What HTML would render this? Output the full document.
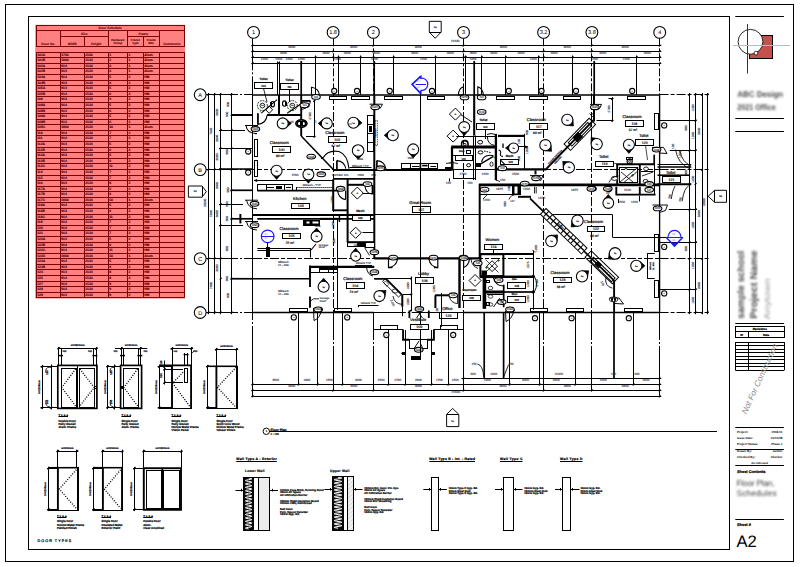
<!DOCTYPE html>
<html lang="en"><head><meta charset="utf-8"><title>A2 - Floor Plan, Schedules</title>
<style>
html,body{margin:0;padding:0;background:#fff}
body{width:800px;height:567px;overflow:hidden}
svg{display:block;font-family:"Liberation Sans",sans-serif}
</style></head><body>
<svg width="800" height="567" viewBox="0 0 800 567" fill="none" stroke="#000" stroke-width="0.8">
<defs>
<filter id="blur1" x="-10%" y="-30%" width="120%" height="160%"><feGaussianBlur stdDeviation="1.25"/></filter>
<filter id="blur2" x="-10%" y="-30%" width="120%" height="160%"><feGaussianBlur stdDeviation="0.8"/></filter>
<pattern id="hatch" width="3" height="3" patternUnits="userSpaceOnUse" patternTransform="rotate(-45)"><rect width="3" height="3" fill="#f4f4f4" stroke="none"/><line x1="0" y1="1.5" x2="3" y2="1.5" stroke="#bbb" stroke-width="0.5"/></pattern>
</defs>
<g id="sheet" text-rendering="geometricPrecision">
<rect x="5.5" y="4.5" width="788" height="557" fill="none" stroke-width="1"/>
<rect x="28.5" y="16.5" width="701" height="533" fill="none" stroke-width="1"/>
<rect x="35.2" y="24.8" width="149.8" height="273.8" fill="#ff8080" stroke-width="0" stroke="none"/>
<g stroke="#800000" id="door-schedule">
<rect x="36.5" y="25.5" width="148" height="5" fill="none" stroke-width="1"/>
<text x="110.25" y="29" font-size="3.3" fill="#520000" text-anchor="middle" font-weight="bold" stroke="#520000" stroke-width="0.08">Door Schedule</text>
<rect x="36.5" y="30.5" width="148" height="16" fill="none" stroke-width="1"/>
<line x1="60.5" y1="30.3" x2="60.5" y2="46.6" stroke-width="1"/>
<line x1="108.5" y1="30.3" x2="108.5" y2="46.6" stroke-width="1"/>
<line x1="127.5" y1="30.3" x2="127.5" y2="46.6" stroke-width="1"/>
<line x1="159.5" y1="30.3" x2="159.5" y2="46.6" stroke-width="1"/>
<line x1="84.5" y1="36.4" x2="84.5" y2="46.6" stroke-width="1"/>
<line x1="143.5" y1="36.4" x2="143.5" y2="46.6" stroke-width="1"/>
<line x1="60.25" y1="36.5" x2="108.25" y2="36.5" stroke-width="1"/>
<line x1="127.5" y1="36.5" x2="159.25" y2="36.5" stroke-width="1"/>
<text x="84.25" y="34.7" font-size="3.3" fill="#520000" text-anchor="middle" font-weight="bold" stroke="#520000" stroke-width="0.08">Size</text>
<text x="143.38" y="34.7" font-size="3.3" fill="#520000" text-anchor="middle" font-weight="bold" stroke="#520000" stroke-width="0.08">Frame</text>
<text x="48.25" y="44.8" font-size="3.3" fill="#520000" text-anchor="middle" font-weight="bold" stroke="#520000" stroke-width="0.08">Door No.</text>
<text x="72.25" y="44.8" font-size="3.3" fill="#520000" text-anchor="middle" font-weight="bold" stroke="#520000" stroke-width="0.08">Width</text>
<text x="96.25" y="44.8" font-size="3.3" fill="#520000" text-anchor="middle" font-weight="bold" stroke="#520000" stroke-width="0.08">Height</text>
<text x="117.88" y="40.6" font-size="3" fill="#520000" text-anchor="middle" font-weight="bold" stroke="#520000" stroke-width="0.08">Hardware</text>
<text x="117.88" y="44" font-size="3" fill="#520000" text-anchor="middle" font-weight="bold" stroke="#520000" stroke-width="0.08">Group</text>
<text x="135.38" y="40.6" font-size="3" fill="#520000" text-anchor="middle" font-weight="bold" stroke="#520000" stroke-width="0.08">Frame</text>
<text x="135.38" y="44" font-size="3" fill="#520000" text-anchor="middle" font-weight="bold" stroke="#520000" stroke-width="0.08">Type</text>
<text x="151.25" y="40.6" font-size="3" fill="#520000" text-anchor="middle" font-weight="bold" stroke="#520000" stroke-width="0.08">Frame</text>
<text x="151.25" y="44" font-size="3" fill="#520000" text-anchor="middle" font-weight="bold" stroke="#520000" stroke-width="0.08">Mat.</text>
<text x="171.75" y="44.8" font-size="3.3" fill="#520000" text-anchor="middle" font-weight="bold" stroke="#520000" stroke-width="0.08">Comments</text>
<line x1="36.25" y1="52.5" x2="184.25" y2="52.5" stroke-width="1"/>
<text x="37.15" y="56.28" font-size="3.4" fill="#5c0000" font-weight="bold" stroke="#5c0000" stroke-width="0.12">101A</text>
<text x="61.15" y="56.28" font-size="3.4" fill="#5c0000" font-weight="bold" stroke="#5c0000" stroke-width="0.12">1760</text>
<text x="85.15" y="56.28" font-size="3.4" fill="#5c0000" font-weight="bold" stroke="#5c0000" stroke-width="0.12">2100</text>
<text x="109.15" y="56.28" font-size="3.4" fill="#5c0000" font-weight="bold" stroke="#5c0000" stroke-width="0.12">1</text>
<text x="128.4" y="56.28" font-size="3.4" fill="#5c0000" font-weight="bold" stroke="#5c0000" stroke-width="0.12">1</text>
<text x="144.15" y="56.28" font-size="3.4" fill="#5c0000" font-weight="bold" stroke="#5c0000" stroke-width="0.12">Alum.</text>
<line x1="36.25" y1="57.5" x2="184.25" y2="57.5" stroke-width="1"/>
<text x="37.15" y="61.28" font-size="3.4" fill="#5c0000" font-weight="bold" stroke="#5c0000" stroke-width="0.12">101B</text>
<text x="61.15" y="61.28" font-size="3.4" fill="#5c0000" font-weight="bold" stroke="#5c0000" stroke-width="0.12">1800</text>
<text x="85.15" y="61.28" font-size="3.4" fill="#5c0000" font-weight="bold" stroke="#5c0000" stroke-width="0.12">2134</text>
<text x="109.15" y="61.28" font-size="3.4" fill="#5c0000" font-weight="bold" stroke="#5c0000" stroke-width="0.12">2</text>
<text x="128.4" y="61.28" font-size="3.4" fill="#5c0000" font-weight="bold" stroke="#5c0000" stroke-width="0.12">1</text>
<text x="144.15" y="61.28" font-size="3.4" fill="#5c0000" font-weight="bold" stroke="#5c0000" stroke-width="0.12">Alum.</text>
<line x1="36.25" y1="63.5" x2="184.25" y2="63.5" stroke-width="1"/>
<text x="37.15" y="67.28" font-size="3.4" fill="#5c0000" font-weight="bold" stroke="#5c0000" stroke-width="0.12">102A</text>
<text x="61.15" y="67.28" font-size="3.4" fill="#5c0000" font-weight="bold" stroke="#5c0000" stroke-width="0.12">914</text>
<text x="85.15" y="67.28" font-size="3.4" fill="#5c0000" font-weight="bold" stroke="#5c0000" stroke-width="0.12">2134</text>
<text x="109.15" y="67.28" font-size="3.4" fill="#5c0000" font-weight="bold" stroke="#5c0000" stroke-width="0.12">3</text>
<text x="128.4" y="67.28" font-size="3.4" fill="#5c0000" font-weight="bold" stroke="#5c0000" stroke-width="0.12">1</text>
<text x="144.15" y="67.28" font-size="3.4" fill="#5c0000" font-weight="bold" stroke="#5c0000" stroke-width="0.12">Alum.</text>
<line x1="36.25" y1="68.5" x2="184.25" y2="68.5" stroke-width="1"/>
<text x="37.15" y="72.28" font-size="3.4" fill="#5c0000" font-weight="bold" stroke="#5c0000" stroke-width="0.12">102B</text>
<text x="61.15" y="72.28" font-size="3.4" fill="#5c0000" font-weight="bold" stroke="#5c0000" stroke-width="0.12">914</text>
<text x="85.15" y="72.28" font-size="3.4" fill="#5c0000" font-weight="bold" stroke="#5c0000" stroke-width="0.12">2134</text>
<text x="109.15" y="72.28" font-size="3.4" fill="#5c0000" font-weight="bold" stroke="#5c0000" stroke-width="0.12">3</text>
<text x="128.4" y="72.28" font-size="3.4" fill="#5c0000" font-weight="bold" stroke="#5c0000" stroke-width="0.12">1</text>
<text x="144.15" y="72.28" font-size="3.4" fill="#5c0000" font-weight="bold" stroke="#5c0000" stroke-width="0.12">Alum.</text>
<line x1="36.25" y1="74.5" x2="184.25" y2="74.5" stroke-width="1"/>
<text x="37.15" y="78.28" font-size="3.4" fill="#5c0000" font-weight="bold" stroke="#5c0000" stroke-width="0.12">104A</text>
<text x="61.15" y="78.28" font-size="3.4" fill="#5c0000" font-weight="bold" stroke="#5c0000" stroke-width="0.12">914</text>
<text x="85.15" y="78.28" font-size="3.4" fill="#5c0000" font-weight="bold" stroke="#5c0000" stroke-width="0.12">2134</text>
<text x="109.15" y="78.28" font-size="3.4" fill="#5c0000" font-weight="bold" stroke="#5c0000" stroke-width="0.12">5</text>
<text x="128.4" y="78.28" font-size="3.4" fill="#5c0000" font-weight="bold" stroke="#5c0000" stroke-width="0.12">2</text>
<text x="144.15" y="78.28" font-size="3.4" fill="#5c0000" font-weight="bold" stroke="#5c0000" stroke-width="0.12">HM</text>
<line x1="36.25" y1="80.5" x2="184.25" y2="80.5" stroke-width="1"/>
<text x="37.15" y="84.28" font-size="3.4" fill="#5c0000" font-weight="bold" stroke="#5c0000" stroke-width="0.12">104B</text>
<text x="61.15" y="84.28" font-size="3.4" fill="#5c0000" font-weight="bold" stroke="#5c0000" stroke-width="0.12">914</text>
<text x="85.15" y="84.28" font-size="3.4" fill="#5c0000" font-weight="bold" stroke="#5c0000" stroke-width="0.12">2134</text>
<text x="109.15" y="84.28" font-size="3.4" fill="#5c0000" font-weight="bold" stroke="#5c0000" stroke-width="0.12">6</text>
<text x="128.4" y="84.28" font-size="3.4" fill="#5c0000" font-weight="bold" stroke="#5c0000" stroke-width="0.12">2</text>
<text x="144.15" y="84.28" font-size="3.4" fill="#5c0000" font-weight="bold" stroke="#5c0000" stroke-width="0.12">HM</text>
<line x1="36.25" y1="85.5" x2="184.25" y2="85.5" stroke-width="1"/>
<text x="37.15" y="89.28" font-size="3.4" fill="#5c0000" font-weight="bold" stroke="#5c0000" stroke-width="0.12">105A</text>
<text x="61.15" y="89.28" font-size="3.4" fill="#5c0000" font-weight="bold" stroke="#5c0000" stroke-width="0.12">914</text>
<text x="85.15" y="89.28" font-size="3.4" fill="#5c0000" font-weight="bold" stroke="#5c0000" stroke-width="0.12">2134</text>
<text x="109.15" y="89.28" font-size="3.4" fill="#5c0000" font-weight="bold" stroke="#5c0000" stroke-width="0.12">5</text>
<text x="128.4" y="89.28" font-size="3.4" fill="#5c0000" font-weight="bold" stroke="#5c0000" stroke-width="0.12">2</text>
<text x="144.15" y="89.28" font-size="3.4" fill="#5c0000" font-weight="bold" stroke="#5c0000" stroke-width="0.12">HM</text>
<line x1="36.25" y1="91.5" x2="184.25" y2="91.5" stroke-width="1"/>
<text x="37.15" y="95.28" font-size="3.4" fill="#5c0000" font-weight="bold" stroke="#5c0000" stroke-width="0.12">105B</text>
<text x="61.15" y="95.28" font-size="3.4" fill="#5c0000" font-weight="bold" stroke="#5c0000" stroke-width="0.12">914</text>
<text x="85.15" y="95.28" font-size="3.4" fill="#5c0000" font-weight="bold" stroke="#5c0000" stroke-width="0.12">2134</text>
<text x="109.15" y="95.28" font-size="3.4" fill="#5c0000" font-weight="bold" stroke="#5c0000" stroke-width="0.12">6</text>
<text x="128.4" y="95.28" font-size="3.4" fill="#5c0000" font-weight="bold" stroke="#5c0000" stroke-width="0.12">2</text>
<text x="144.15" y="95.28" font-size="3.4" fill="#5c0000" font-weight="bold" stroke="#5c0000" stroke-width="0.12">HM</text>
<line x1="36.25" y1="96.5" x2="184.25" y2="96.5" stroke-width="1"/>
<text x="37.15" y="100.28" font-size="3.4" fill="#5c0000" font-weight="bold" stroke="#5c0000" stroke-width="0.12">106</text>
<text x="61.15" y="100.28" font-size="3.4" fill="#5c0000" font-weight="bold" stroke="#5c0000" stroke-width="0.12">914</text>
<text x="85.15" y="100.28" font-size="3.4" fill="#5c0000" font-weight="bold" stroke="#5c0000" stroke-width="0.12">2134</text>
<text x="109.15" y="100.28" font-size="3.4" fill="#5c0000" font-weight="bold" stroke="#5c0000" stroke-width="0.12">4</text>
<text x="128.4" y="100.28" font-size="3.4" fill="#5c0000" font-weight="bold" stroke="#5c0000" stroke-width="0.12">2</text>
<text x="144.15" y="100.28" font-size="3.4" fill="#5c0000" font-weight="bold" stroke="#5c0000" stroke-width="0.12">HM</text>
<line x1="36.25" y1="102.5" x2="184.25" y2="102.5" stroke-width="1"/>
<text x="37.15" y="106.28" font-size="3.4" fill="#5c0000" font-weight="bold" stroke="#5c0000" stroke-width="0.12">108A</text>
<text x="61.15" y="106.28" font-size="3.4" fill="#5c0000" font-weight="bold" stroke="#5c0000" stroke-width="0.12">914</text>
<text x="85.15" y="106.28" font-size="3.4" fill="#5c0000" font-weight="bold" stroke="#5c0000" stroke-width="0.12">2134</text>
<text x="109.15" y="106.28" font-size="3.4" fill="#5c0000" font-weight="bold" stroke="#5c0000" stroke-width="0.12">5</text>
<text x="128.4" y="106.28" font-size="3.4" fill="#5c0000" font-weight="bold" stroke="#5c0000" stroke-width="0.12">2</text>
<text x="144.15" y="106.28" font-size="3.4" fill="#5c0000" font-weight="bold" stroke="#5c0000" stroke-width="0.12">HM</text>
<line x1="36.25" y1="108.5" x2="184.25" y2="108.5" stroke-width="1"/>
<text x="37.15" y="112.28" font-size="3.4" fill="#5c0000" font-weight="bold" stroke="#5c0000" stroke-width="0.12">108B</text>
<text x="61.15" y="112.28" font-size="3.4" fill="#5c0000" font-weight="bold" stroke="#5c0000" stroke-width="0.12">914</text>
<text x="85.15" y="112.28" font-size="3.4" fill="#5c0000" font-weight="bold" stroke="#5c0000" stroke-width="0.12">2134</text>
<text x="109.15" y="112.28" font-size="3.4" fill="#5c0000" font-weight="bold" stroke="#5c0000" stroke-width="0.12">6</text>
<text x="128.4" y="112.28" font-size="3.4" fill="#5c0000" font-weight="bold" stroke="#5c0000" stroke-width="0.12">2</text>
<text x="144.15" y="112.28" font-size="3.4" fill="#5c0000" font-weight="bold" stroke="#5c0000" stroke-width="0.12">HM</text>
<line x1="36.25" y1="113.5" x2="184.25" y2="113.5" stroke-width="1"/>
<text x="37.15" y="117.28" font-size="3.4" fill="#5c0000" font-weight="bold" stroke="#5c0000" stroke-width="0.12">109A</text>
<text x="61.15" y="117.28" font-size="3.4" fill="#5c0000" font-weight="bold" stroke="#5c0000" stroke-width="0.12">914</text>
<text x="85.15" y="117.28" font-size="3.4" fill="#5c0000" font-weight="bold" stroke="#5c0000" stroke-width="0.12">2134</text>
<text x="109.15" y="117.28" font-size="3.4" fill="#5c0000" font-weight="bold" stroke="#5c0000" stroke-width="0.12">5</text>
<text x="128.4" y="117.28" font-size="3.4" fill="#5c0000" font-weight="bold" stroke="#5c0000" stroke-width="0.12">2</text>
<text x="144.15" y="117.28" font-size="3.4" fill="#5c0000" font-weight="bold" stroke="#5c0000" stroke-width="0.12">HM</text>
<line x1="36.25" y1="119.5" x2="184.25" y2="119.5" stroke-width="1"/>
<text x="37.15" y="123.28" font-size="3.4" fill="#5c0000" font-weight="bold" stroke="#5c0000" stroke-width="0.12">109B</text>
<text x="61.15" y="123.28" font-size="3.4" fill="#5c0000" font-weight="bold" stroke="#5c0000" stroke-width="0.12">914</text>
<text x="85.15" y="123.28" font-size="3.4" fill="#5c0000" font-weight="bold" stroke="#5c0000" stroke-width="0.12">2134</text>
<text x="109.15" y="123.28" font-size="3.4" fill="#5c0000" font-weight="bold" stroke="#5c0000" stroke-width="0.12">6</text>
<text x="128.4" y="123.28" font-size="3.4" fill="#5c0000" font-weight="bold" stroke="#5c0000" stroke-width="0.12">2</text>
<text x="144.15" y="123.28" font-size="3.4" fill="#5c0000" font-weight="bold" stroke="#5c0000" stroke-width="0.12">HM</text>
<line x1="36.25" y1="124.5" x2="184.25" y2="124.5" stroke-width="1"/>
<text x="37.15" y="128.28" font-size="3.4" fill="#5c0000" font-weight="bold" stroke="#5c0000" stroke-width="0.12">109C</text>
<text x="61.15" y="128.28" font-size="3.4" fill="#5c0000" font-weight="bold" stroke="#5c0000" stroke-width="0.12">1800</text>
<text x="85.15" y="128.28" font-size="3.4" fill="#5c0000" font-weight="bold" stroke="#5c0000" stroke-width="0.12">2134</text>
<text x="109.15" y="128.28" font-size="3.4" fill="#5c0000" font-weight="bold" stroke="#5c0000" stroke-width="0.12">10</text>
<text x="128.4" y="128.28" font-size="3.4" fill="#5c0000" font-weight="bold" stroke="#5c0000" stroke-width="0.12">1</text>
<text x="144.15" y="128.28" font-size="3.4" fill="#5c0000" font-weight="bold" stroke="#5c0000" stroke-width="0.12">Alum.</text>
<line x1="36.25" y1="130.5" x2="184.25" y2="130.5" stroke-width="1"/>
<text x="37.15" y="134.28" font-size="3.4" fill="#5c0000" font-weight="bold" stroke="#5c0000" stroke-width="0.12">110</text>
<text x="61.15" y="134.28" font-size="3.4" fill="#5c0000" font-weight="bold" stroke="#5c0000" stroke-width="0.12">914</text>
<text x="85.15" y="134.28" font-size="3.4" fill="#5c0000" font-weight="bold" stroke="#5c0000" stroke-width="0.12">2134</text>
<text x="109.15" y="134.28" font-size="3.4" fill="#5c0000" font-weight="bold" stroke="#5c0000" stroke-width="0.12">7</text>
<text x="128.4" y="134.28" font-size="3.4" fill="#5c0000" font-weight="bold" stroke="#5c0000" stroke-width="0.12">2</text>
<text x="144.15" y="134.28" font-size="3.4" fill="#5c0000" font-weight="bold" stroke="#5c0000" stroke-width="0.12">HM</text>
<line x1="36.25" y1="135.5" x2="184.25" y2="135.5" stroke-width="1"/>
<text x="37.15" y="139.28" font-size="3.4" fill="#5c0000" font-weight="bold" stroke="#5c0000" stroke-width="0.12">111</text>
<text x="61.15" y="139.28" font-size="3.4" fill="#5c0000" font-weight="bold" stroke="#5c0000" stroke-width="0.12">914</text>
<text x="85.15" y="139.28" font-size="3.4" fill="#5c0000" font-weight="bold" stroke="#5c0000" stroke-width="0.12">2134</text>
<text x="109.15" y="139.28" font-size="3.4" fill="#5c0000" font-weight="bold" stroke="#5c0000" stroke-width="0.12">7</text>
<text x="128.4" y="139.28" font-size="3.4" fill="#5c0000" font-weight="bold" stroke="#5c0000" stroke-width="0.12">2</text>
<text x="144.15" y="139.28" font-size="3.4" fill="#5c0000" font-weight="bold" stroke="#5c0000" stroke-width="0.12">HM</text>
<line x1="36.25" y1="141.5" x2="184.25" y2="141.5" stroke-width="1"/>
<text x="37.15" y="145.28" font-size="3.4" fill="#5c0000" font-weight="bold" stroke="#5c0000" stroke-width="0.12">112A</text>
<text x="61.15" y="145.28" font-size="3.4" fill="#5c0000" font-weight="bold" stroke="#5c0000" stroke-width="0.12">914</text>
<text x="85.15" y="145.28" font-size="3.4" fill="#5c0000" font-weight="bold" stroke="#5c0000" stroke-width="0.12">2134</text>
<text x="109.15" y="145.28" font-size="3.4" fill="#5c0000" font-weight="bold" stroke="#5c0000" stroke-width="0.12">5</text>
<text x="128.4" y="145.28" font-size="3.4" fill="#5c0000" font-weight="bold" stroke="#5c0000" stroke-width="0.12">2</text>
<text x="144.15" y="145.28" font-size="3.4" fill="#5c0000" font-weight="bold" stroke="#5c0000" stroke-width="0.12">HM</text>
<line x1="36.25" y1="147.5" x2="184.25" y2="147.5" stroke-width="1"/>
<text x="37.15" y="151.28" font-size="3.4" fill="#5c0000" font-weight="bold" stroke="#5c0000" stroke-width="0.12">112B</text>
<text x="61.15" y="151.28" font-size="3.4" fill="#5c0000" font-weight="bold" stroke="#5c0000" stroke-width="0.12">914</text>
<text x="85.15" y="151.28" font-size="3.4" fill="#5c0000" font-weight="bold" stroke="#5c0000" stroke-width="0.12">2134</text>
<text x="109.15" y="151.28" font-size="3.4" fill="#5c0000" font-weight="bold" stroke="#5c0000" stroke-width="0.12">6</text>
<text x="128.4" y="151.28" font-size="3.4" fill="#5c0000" font-weight="bold" stroke="#5c0000" stroke-width="0.12">2</text>
<text x="144.15" y="151.28" font-size="3.4" fill="#5c0000" font-weight="bold" stroke="#5c0000" stroke-width="0.12">HM</text>
<line x1="36.25" y1="152.5" x2="184.25" y2="152.5" stroke-width="1"/>
<text x="37.15" y="156.28" font-size="3.4" fill="#5c0000" font-weight="bold" stroke="#5c0000" stroke-width="0.12">113A</text>
<text x="61.15" y="156.28" font-size="3.4" fill="#5c0000" font-weight="bold" stroke="#5c0000" stroke-width="0.12">914</text>
<text x="85.15" y="156.28" font-size="3.4" fill="#5c0000" font-weight="bold" stroke="#5c0000" stroke-width="0.12">2134</text>
<text x="109.15" y="156.28" font-size="3.4" fill="#5c0000" font-weight="bold" stroke="#5c0000" stroke-width="0.12">5</text>
<text x="128.4" y="156.28" font-size="3.4" fill="#5c0000" font-weight="bold" stroke="#5c0000" stroke-width="0.12">2</text>
<text x="144.15" y="156.28" font-size="3.4" fill="#5c0000" font-weight="bold" stroke="#5c0000" stroke-width="0.12">HM</text>
<line x1="36.25" y1="158.5" x2="184.25" y2="158.5" stroke-width="1"/>
<text x="37.15" y="162.28" font-size="3.4" fill="#5c0000" font-weight="bold" stroke="#5c0000" stroke-width="0.12">113B</text>
<text x="61.15" y="162.28" font-size="3.4" fill="#5c0000" font-weight="bold" stroke="#5c0000" stroke-width="0.12">914</text>
<text x="85.15" y="162.28" font-size="3.4" fill="#5c0000" font-weight="bold" stroke="#5c0000" stroke-width="0.12">2134</text>
<text x="109.15" y="162.28" font-size="3.4" fill="#5c0000" font-weight="bold" stroke="#5c0000" stroke-width="0.12">6</text>
<text x="128.4" y="162.28" font-size="3.4" fill="#5c0000" font-weight="bold" stroke="#5c0000" stroke-width="0.12">2</text>
<text x="144.15" y="162.28" font-size="3.4" fill="#5c0000" font-weight="bold" stroke="#5c0000" stroke-width="0.12">HM</text>
<line x1="36.25" y1="163.5" x2="184.25" y2="163.5" stroke-width="1"/>
<text x="37.15" y="167.28" font-size="3.4" fill="#5c0000" font-weight="bold" stroke="#5c0000" stroke-width="0.12">113C</text>
<text x="61.15" y="167.28" font-size="3.4" fill="#5c0000" font-weight="bold" stroke="#5c0000" stroke-width="0.12">914</text>
<text x="85.15" y="167.28" font-size="3.4" fill="#5c0000" font-weight="bold" stroke="#5c0000" stroke-width="0.12">2134</text>
<text x="109.15" y="167.28" font-size="3.4" fill="#5c0000" font-weight="bold" stroke="#5c0000" stroke-width="0.12">11</text>
<text x="128.4" y="167.28" font-size="3.4" fill="#5c0000" font-weight="bold" stroke="#5c0000" stroke-width="0.12">2</text>
<text x="144.15" y="167.28" font-size="3.4" fill="#5c0000" font-weight="bold" stroke="#5c0000" stroke-width="0.12">HM</text>
<line x1="36.25" y1="169.5" x2="184.25" y2="169.5" stroke-width="1"/>
<text x="37.15" y="173.28" font-size="3.4" fill="#5c0000" font-weight="bold" stroke="#5c0000" stroke-width="0.12">114</text>
<text x="61.15" y="173.28" font-size="3.4" fill="#5c0000" font-weight="bold" stroke="#5c0000" stroke-width="0.12">914</text>
<text x="85.15" y="173.28" font-size="3.4" fill="#5c0000" font-weight="bold" stroke="#5c0000" stroke-width="0.12">2134</text>
<text x="109.15" y="173.28" font-size="3.4" fill="#5c0000" font-weight="bold" stroke="#5c0000" stroke-width="0.12">7</text>
<text x="128.4" y="173.28" font-size="3.4" fill="#5c0000" font-weight="bold" stroke="#5c0000" stroke-width="0.12">2</text>
<text x="144.15" y="173.28" font-size="3.4" fill="#5c0000" font-weight="bold" stroke="#5c0000" stroke-width="0.12">HM</text>
<line x1="36.25" y1="175.5" x2="184.25" y2="175.5" stroke-width="1"/>
<text x="37.15" y="179.28" font-size="3.4" fill="#5c0000" font-weight="bold" stroke="#5c0000" stroke-width="0.12">115</text>
<text x="61.15" y="179.28" font-size="3.4" fill="#5c0000" font-weight="bold" stroke="#5c0000" stroke-width="0.12">914</text>
<text x="85.15" y="179.28" font-size="3.4" fill="#5c0000" font-weight="bold" stroke="#5c0000" stroke-width="0.12">2134</text>
<text x="109.15" y="179.28" font-size="3.4" fill="#5c0000" font-weight="bold" stroke="#5c0000" stroke-width="0.12">7</text>
<text x="128.4" y="179.28" font-size="3.4" fill="#5c0000" font-weight="bold" stroke="#5c0000" stroke-width="0.12">2</text>
<text x="144.15" y="179.28" font-size="3.4" fill="#5c0000" font-weight="bold" stroke="#5c0000" stroke-width="0.12">HM</text>
<line x1="36.25" y1="180.5" x2="184.25" y2="180.5" stroke-width="1"/>
<text x="37.15" y="184.28" font-size="3.4" fill="#5c0000" font-weight="bold" stroke="#5c0000" stroke-width="0.12">116</text>
<text x="61.15" y="184.28" font-size="3.4" fill="#5c0000" font-weight="bold" stroke="#5c0000" stroke-width="0.12">914</text>
<text x="85.15" y="184.28" font-size="3.4" fill="#5c0000" font-weight="bold" stroke="#5c0000" stroke-width="0.12">2134</text>
<text x="109.15" y="184.28" font-size="3.4" fill="#5c0000" font-weight="bold" stroke="#5c0000" stroke-width="0.12">8</text>
<text x="128.4" y="184.28" font-size="3.4" fill="#5c0000" font-weight="bold" stroke="#5c0000" stroke-width="0.12">2</text>
<text x="144.15" y="184.28" font-size="3.4" fill="#5c0000" font-weight="bold" stroke="#5c0000" stroke-width="0.12">HM</text>
<line x1="36.25" y1="186.5" x2="184.25" y2="186.5" stroke-width="1"/>
<text x="37.15" y="190.28" font-size="3.4" fill="#5c0000" font-weight="bold" stroke="#5c0000" stroke-width="0.12">117A</text>
<text x="61.15" y="190.28" font-size="3.4" fill="#5c0000" font-weight="bold" stroke="#5c0000" stroke-width="0.12">914</text>
<text x="85.15" y="190.28" font-size="3.4" fill="#5c0000" font-weight="bold" stroke="#5c0000" stroke-width="0.12">2134</text>
<text x="109.15" y="190.28" font-size="3.4" fill="#5c0000" font-weight="bold" stroke="#5c0000" stroke-width="0.12">5</text>
<text x="128.4" y="190.28" font-size="3.4" fill="#5c0000" font-weight="bold" stroke="#5c0000" stroke-width="0.12">2</text>
<text x="144.15" y="190.28" font-size="3.4" fill="#5c0000" font-weight="bold" stroke="#5c0000" stroke-width="0.12">HM</text>
<line x1="36.25" y1="191.5" x2="184.25" y2="191.5" stroke-width="1"/>
<text x="37.15" y="195.28" font-size="3.4" fill="#5c0000" font-weight="bold" stroke="#5c0000" stroke-width="0.12">117B</text>
<text x="61.15" y="195.28" font-size="3.4" fill="#5c0000" font-weight="bold" stroke="#5c0000" stroke-width="0.12">914</text>
<text x="85.15" y="195.28" font-size="3.4" fill="#5c0000" font-weight="bold" stroke="#5c0000" stroke-width="0.12">2134</text>
<text x="109.15" y="195.28" font-size="3.4" fill="#5c0000" font-weight="bold" stroke="#5c0000" stroke-width="0.12">6</text>
<text x="128.4" y="195.28" font-size="3.4" fill="#5c0000" font-weight="bold" stroke="#5c0000" stroke-width="0.12">2</text>
<text x="144.15" y="195.28" font-size="3.4" fill="#5c0000" font-weight="bold" stroke="#5c0000" stroke-width="0.12">HM</text>
<line x1="36.25" y1="197.5" x2="184.25" y2="197.5" stroke-width="1"/>
<text x="37.15" y="201.28" font-size="3.4" fill="#5c0000" font-weight="bold" stroke="#5c0000" stroke-width="0.12">117C</text>
<text x="61.15" y="201.28" font-size="3.4" fill="#5c0000" font-weight="bold" stroke="#5c0000" stroke-width="0.12">1800</text>
<text x="85.15" y="201.28" font-size="3.4" fill="#5c0000" font-weight="bold" stroke="#5c0000" stroke-width="0.12">2134</text>
<text x="109.15" y="201.28" font-size="3.4" fill="#5c0000" font-weight="bold" stroke="#5c0000" stroke-width="0.12">10</text>
<text x="128.4" y="201.28" font-size="3.4" fill="#5c0000" font-weight="bold" stroke="#5c0000" stroke-width="0.12">1</text>
<text x="144.15" y="201.28" font-size="3.4" fill="#5c0000" font-weight="bold" stroke="#5c0000" stroke-width="0.12">Alum.</text>
<line x1="36.25" y1="202.5" x2="184.25" y2="202.5" stroke-width="1"/>
<text x="37.15" y="206.28" font-size="3.4" fill="#5c0000" font-weight="bold" stroke="#5c0000" stroke-width="0.12">118A</text>
<text x="61.15" y="206.28" font-size="3.4" fill="#5c0000" font-weight="bold" stroke="#5c0000" stroke-width="0.12">914</text>
<text x="85.15" y="206.28" font-size="3.4" fill="#5c0000" font-weight="bold" stroke="#5c0000" stroke-width="0.12">2134</text>
<text x="109.15" y="206.28" font-size="3.4" fill="#5c0000" font-weight="bold" stroke="#5c0000" stroke-width="0.12">5</text>
<text x="128.4" y="206.28" font-size="3.4" fill="#5c0000" font-weight="bold" stroke="#5c0000" stroke-width="0.12">2</text>
<text x="144.15" y="206.28" font-size="3.4" fill="#5c0000" font-weight="bold" stroke="#5c0000" stroke-width="0.12">HM</text>
<line x1="36.25" y1="208.5" x2="184.25" y2="208.5" stroke-width="1"/>
<text x="37.15" y="212.28" font-size="3.4" fill="#5c0000" font-weight="bold" stroke="#5c0000" stroke-width="0.12">118B</text>
<text x="61.15" y="212.28" font-size="3.4" fill="#5c0000" font-weight="bold" stroke="#5c0000" stroke-width="0.12">914</text>
<text x="85.15" y="212.28" font-size="3.4" fill="#5c0000" font-weight="bold" stroke="#5c0000" stroke-width="0.12">2134</text>
<text x="109.15" y="212.28" font-size="3.4" fill="#5c0000" font-weight="bold" stroke="#5c0000" stroke-width="0.12">6</text>
<text x="128.4" y="212.28" font-size="3.4" fill="#5c0000" font-weight="bold" stroke="#5c0000" stroke-width="0.12">2</text>
<text x="144.15" y="212.28" font-size="3.4" fill="#5c0000" font-weight="bold" stroke="#5c0000" stroke-width="0.12">HM</text>
<line x1="36.25" y1="214.5" x2="184.25" y2="214.5" stroke-width="1"/>
<text x="37.15" y="218.28" font-size="3.4" fill="#5c0000" font-weight="bold" stroke="#5c0000" stroke-width="0.12">118C</text>
<text x="61.15" y="218.28" font-size="3.4" fill="#5c0000" font-weight="bold" stroke="#5c0000" stroke-width="0.12">914</text>
<text x="85.15" y="218.28" font-size="3.4" fill="#5c0000" font-weight="bold" stroke="#5c0000" stroke-width="0.12">2134</text>
<text x="109.15" y="218.28" font-size="3.4" fill="#5c0000" font-weight="bold" stroke="#5c0000" stroke-width="0.12">11</text>
<text x="128.4" y="218.28" font-size="3.4" fill="#5c0000" font-weight="bold" stroke="#5c0000" stroke-width="0.12">2</text>
<text x="144.15" y="218.28" font-size="3.4" fill="#5c0000" font-weight="bold" stroke="#5c0000" stroke-width="0.12">HM</text>
<line x1="36.25" y1="219.5" x2="184.25" y2="219.5" stroke-width="1"/>
<text x="37.15" y="223.28" font-size="3.4" fill="#5c0000" font-weight="bold" stroke="#5c0000" stroke-width="0.12">119</text>
<text x="61.15" y="223.28" font-size="3.4" fill="#5c0000" font-weight="bold" stroke="#5c0000" stroke-width="0.12">914</text>
<text x="85.15" y="223.28" font-size="3.4" fill="#5c0000" font-weight="bold" stroke="#5c0000" stroke-width="0.12">2134</text>
<text x="109.15" y="223.28" font-size="3.4" fill="#5c0000" font-weight="bold" stroke="#5c0000" stroke-width="0.12">7</text>
<text x="128.4" y="223.28" font-size="3.4" fill="#5c0000" font-weight="bold" stroke="#5c0000" stroke-width="0.12">2</text>
<text x="144.15" y="223.28" font-size="3.4" fill="#5c0000" font-weight="bold" stroke="#5c0000" stroke-width="0.12">HM</text>
<line x1="36.25" y1="225.5" x2="184.25" y2="225.5" stroke-width="1"/>
<text x="37.15" y="229.28" font-size="3.4" fill="#5c0000" font-weight="bold" stroke="#5c0000" stroke-width="0.12">120</text>
<text x="61.15" y="229.28" font-size="3.4" fill="#5c0000" font-weight="bold" stroke="#5c0000" stroke-width="0.12">914</text>
<text x="85.15" y="229.28" font-size="3.4" fill="#5c0000" font-weight="bold" stroke="#5c0000" stroke-width="0.12">2134</text>
<text x="109.15" y="229.28" font-size="3.4" fill="#5c0000" font-weight="bold" stroke="#5c0000" stroke-width="0.12">7</text>
<text x="128.4" y="229.28" font-size="3.4" fill="#5c0000" font-weight="bold" stroke="#5c0000" stroke-width="0.12">2</text>
<text x="144.15" y="229.28" font-size="3.4" fill="#5c0000" font-weight="bold" stroke="#5c0000" stroke-width="0.12">HM</text>
<line x1="36.25" y1="230.5" x2="184.25" y2="230.5" stroke-width="1"/>
<text x="37.15" y="234.28" font-size="3.4" fill="#5c0000" font-weight="bold" stroke="#5c0000" stroke-width="0.12">121</text>
<text x="61.15" y="234.28" font-size="3.4" fill="#5c0000" font-weight="bold" stroke="#5c0000" stroke-width="0.12">914</text>
<text x="85.15" y="234.28" font-size="3.4" fill="#5c0000" font-weight="bold" stroke="#5c0000" stroke-width="0.12">2134</text>
<text x="109.15" y="234.28" font-size="3.4" fill="#5c0000" font-weight="bold" stroke="#5c0000" stroke-width="0.12">7</text>
<text x="128.4" y="234.28" font-size="3.4" fill="#5c0000" font-weight="bold" stroke="#5c0000" stroke-width="0.12">2</text>
<text x="144.15" y="234.28" font-size="3.4" fill="#5c0000" font-weight="bold" stroke="#5c0000" stroke-width="0.12">HM</text>
<line x1="36.25" y1="236.5" x2="184.25" y2="236.5" stroke-width="1"/>
<text x="37.15" y="240.28" font-size="3.4" fill="#5c0000" font-weight="bold" stroke="#5c0000" stroke-width="0.12">122A</text>
<text x="61.15" y="240.28" font-size="3.4" fill="#5c0000" font-weight="bold" stroke="#5c0000" stroke-width="0.12">914</text>
<text x="85.15" y="240.28" font-size="3.4" fill="#5c0000" font-weight="bold" stroke="#5c0000" stroke-width="0.12">2134</text>
<text x="109.15" y="240.28" font-size="3.4" fill="#5c0000" font-weight="bold" stroke="#5c0000" stroke-width="0.12">5</text>
<text x="128.4" y="240.28" font-size="3.4" fill="#5c0000" font-weight="bold" stroke="#5c0000" stroke-width="0.12">2</text>
<text x="144.15" y="240.28" font-size="3.4" fill="#5c0000" font-weight="bold" stroke="#5c0000" stroke-width="0.12">HM</text>
<line x1="36.25" y1="242.5" x2="184.25" y2="242.5" stroke-width="1"/>
<text x="37.15" y="246.28" font-size="3.4" fill="#5c0000" font-weight="bold" stroke="#5c0000" stroke-width="0.12">122B</text>
<text x="61.15" y="246.28" font-size="3.4" fill="#5c0000" font-weight="bold" stroke="#5c0000" stroke-width="0.12">914</text>
<text x="85.15" y="246.28" font-size="3.4" fill="#5c0000" font-weight="bold" stroke="#5c0000" stroke-width="0.12">2134</text>
<text x="109.15" y="246.28" font-size="3.4" fill="#5c0000" font-weight="bold" stroke="#5c0000" stroke-width="0.12">6</text>
<text x="128.4" y="246.28" font-size="3.4" fill="#5c0000" font-weight="bold" stroke="#5c0000" stroke-width="0.12">2</text>
<text x="144.15" y="246.28" font-size="3.4" fill="#5c0000" font-weight="bold" stroke="#5c0000" stroke-width="0.12">HM</text>
<line x1="36.25" y1="247.5" x2="184.25" y2="247.5" stroke-width="1"/>
<text x="37.15" y="251.28" font-size="3.4" fill="#5c0000" font-weight="bold" stroke="#5c0000" stroke-width="0.12">122C</text>
<text x="61.15" y="251.28" font-size="3.4" fill="#5c0000" font-weight="bold" stroke="#5c0000" stroke-width="0.12">914</text>
<text x="85.15" y="251.28" font-size="3.4" fill="#5c0000" font-weight="bold" stroke="#5c0000" stroke-width="0.12">2134</text>
<text x="109.15" y="251.28" font-size="3.4" fill="#5c0000" font-weight="bold" stroke="#5c0000" stroke-width="0.12">11</text>
<text x="128.4" y="251.28" font-size="3.4" fill="#5c0000" font-weight="bold" stroke="#5c0000" stroke-width="0.12">2</text>
<text x="144.15" y="251.28" font-size="3.4" fill="#5c0000" font-weight="bold" stroke="#5c0000" stroke-width="0.12">HM</text>
<line x1="36.25" y1="253.5" x2="184.25" y2="253.5" stroke-width="1"/>
<text x="37.15" y="257.28" font-size="3.4" fill="#5c0000" font-weight="bold" stroke="#5c0000" stroke-width="0.12">122D</text>
<text x="61.15" y="257.28" font-size="3.4" fill="#5c0000" font-weight="bold" stroke="#5c0000" stroke-width="0.12">1800</text>
<text x="85.15" y="257.28" font-size="3.4" fill="#5c0000" font-weight="bold" stroke="#5c0000" stroke-width="0.12">2134</text>
<text x="109.15" y="257.28" font-size="3.4" fill="#5c0000" font-weight="bold" stroke="#5c0000" stroke-width="0.12">10</text>
<text x="128.4" y="257.28" font-size="3.4" fill="#5c0000" font-weight="bold" stroke="#5c0000" stroke-width="0.12">1</text>
<text x="144.15" y="257.28" font-size="3.4" fill="#5c0000" font-weight="bold" stroke="#5c0000" stroke-width="0.12">Alum.</text>
<line x1="36.25" y1="258.5" x2="184.25" y2="258.5" stroke-width="1"/>
<text x="37.15" y="262.28" font-size="3.4" fill="#5c0000" font-weight="bold" stroke="#5c0000" stroke-width="0.12">123A</text>
<text x="61.15" y="262.28" font-size="3.4" fill="#5c0000" font-weight="bold" stroke="#5c0000" stroke-width="0.12">914</text>
<text x="85.15" y="262.28" font-size="3.4" fill="#5c0000" font-weight="bold" stroke="#5c0000" stroke-width="0.12">2134</text>
<text x="109.15" y="262.28" font-size="3.4" fill="#5c0000" font-weight="bold" stroke="#5c0000" stroke-width="0.12">5</text>
<text x="128.4" y="262.28" font-size="3.4" fill="#5c0000" font-weight="bold" stroke="#5c0000" stroke-width="0.12">2</text>
<text x="144.15" y="262.28" font-size="3.4" fill="#5c0000" font-weight="bold" stroke="#5c0000" stroke-width="0.12">HM</text>
<line x1="36.25" y1="264.5" x2="184.25" y2="264.5" stroke-width="1"/>
<text x="37.15" y="268.28" font-size="3.4" fill="#5c0000" font-weight="bold" stroke="#5c0000" stroke-width="0.12">123B</text>
<text x="61.15" y="268.28" font-size="3.4" fill="#5c0000" font-weight="bold" stroke="#5c0000" stroke-width="0.12">914</text>
<text x="85.15" y="268.28" font-size="3.4" fill="#5c0000" font-weight="bold" stroke="#5c0000" stroke-width="0.12">2134</text>
<text x="109.15" y="268.28" font-size="3.4" fill="#5c0000" font-weight="bold" stroke="#5c0000" stroke-width="0.12">6</text>
<text x="128.4" y="268.28" font-size="3.4" fill="#5c0000" font-weight="bold" stroke="#5c0000" stroke-width="0.12">2</text>
<text x="144.15" y="268.28" font-size="3.4" fill="#5c0000" font-weight="bold" stroke="#5c0000" stroke-width="0.12">HM</text>
<line x1="36.25" y1="269.5" x2="184.25" y2="269.5" stroke-width="1"/>
<text x="37.15" y="273.28" font-size="3.4" fill="#5c0000" font-weight="bold" stroke="#5c0000" stroke-width="0.12">124</text>
<text x="61.15" y="273.28" font-size="3.4" fill="#5c0000" font-weight="bold" stroke="#5c0000" stroke-width="0.12">914</text>
<text x="85.15" y="273.28" font-size="3.4" fill="#5c0000" font-weight="bold" stroke="#5c0000" stroke-width="0.12">2134</text>
<text x="109.15" y="273.28" font-size="3.4" fill="#5c0000" font-weight="bold" stroke="#5c0000" stroke-width="0.12">8</text>
<text x="128.4" y="273.28" font-size="3.4" fill="#5c0000" font-weight="bold" stroke="#5c0000" stroke-width="0.12">2</text>
<text x="144.15" y="273.28" font-size="3.4" fill="#5c0000" font-weight="bold" stroke="#5c0000" stroke-width="0.12">HM</text>
<line x1="36.25" y1="275.5" x2="184.25" y2="275.5" stroke-width="1"/>
<text x="37.15" y="279.28" font-size="3.4" fill="#5c0000" font-weight="bold" stroke="#5c0000" stroke-width="0.12">125</text>
<text x="61.15" y="279.28" font-size="3.4" fill="#5c0000" font-weight="bold" stroke="#5c0000" stroke-width="0.12">914</text>
<text x="85.15" y="279.28" font-size="3.4" fill="#5c0000" font-weight="bold" stroke="#5c0000" stroke-width="0.12">2134</text>
<text x="109.15" y="279.28" font-size="3.4" fill="#5c0000" font-weight="bold" stroke="#5c0000" stroke-width="0.12">8</text>
<text x="128.4" y="279.28" font-size="3.4" fill="#5c0000" font-weight="bold" stroke="#5c0000" stroke-width="0.12">2</text>
<text x="144.15" y="279.28" font-size="3.4" fill="#5c0000" font-weight="bold" stroke="#5c0000" stroke-width="0.12">HM</text>
<line x1="36.25" y1="281.5" x2="184.25" y2="281.5" stroke-width="1"/>
<text x="37.15" y="285.28" font-size="3.4" fill="#5c0000" font-weight="bold" stroke="#5c0000" stroke-width="0.12">127</text>
<text x="61.15" y="285.28" font-size="3.4" fill="#5c0000" font-weight="bold" stroke="#5c0000" stroke-width="0.12">914</text>
<text x="85.15" y="285.28" font-size="3.4" fill="#5c0000" font-weight="bold" stroke="#5c0000" stroke-width="0.12">2134</text>
<text x="109.15" y="285.28" font-size="3.4" fill="#5c0000" font-weight="bold" stroke="#5c0000" stroke-width="0.12">9</text>
<text x="128.4" y="285.28" font-size="3.4" fill="#5c0000" font-weight="bold" stroke="#5c0000" stroke-width="0.12">2</text>
<text x="144.15" y="285.28" font-size="3.4" fill="#5c0000" font-weight="bold" stroke="#5c0000" stroke-width="0.12">HM</text>
<line x1="36.25" y1="286.5" x2="184.25" y2="286.5" stroke-width="1"/>
<text x="37.15" y="290.28" font-size="3.4" fill="#5c0000" font-weight="bold" stroke="#5c0000" stroke-width="0.12">128</text>
<text x="61.15" y="290.28" font-size="3.4" fill="#5c0000" font-weight="bold" stroke="#5c0000" stroke-width="0.12">914</text>
<text x="85.15" y="290.28" font-size="3.4" fill="#5c0000" font-weight="bold" stroke="#5c0000" stroke-width="0.12">2134</text>
<text x="109.15" y="290.28" font-size="3.4" fill="#5c0000" font-weight="bold" stroke="#5c0000" stroke-width="0.12">9</text>
<text x="128.4" y="290.28" font-size="3.4" fill="#5c0000" font-weight="bold" stroke="#5c0000" stroke-width="0.12">2</text>
<text x="144.15" y="290.28" font-size="3.4" fill="#5c0000" font-weight="bold" stroke="#5c0000" stroke-width="0.12">HM</text>
<line x1="36.25" y1="292.5" x2="184.25" y2="292.5" stroke-width="1"/>
<text x="37.15" y="296.28" font-size="3.4" fill="#5c0000" font-weight="bold" stroke="#5c0000" stroke-width="0.12">129</text>
<text x="61.15" y="296.28" font-size="3.4" fill="#5c0000" font-weight="bold" stroke="#5c0000" stroke-width="0.12">914</text>
<text x="85.15" y="296.28" font-size="3.4" fill="#5c0000" font-weight="bold" stroke="#5c0000" stroke-width="0.12">2134</text>
<text x="109.15" y="296.28" font-size="3.4" fill="#5c0000" font-weight="bold" stroke="#5c0000" stroke-width="0.12">9</text>
<text x="128.4" y="296.28" font-size="3.4" fill="#5c0000" font-weight="bold" stroke="#5c0000" stroke-width="0.12">2</text>
<text x="144.15" y="296.28" font-size="3.4" fill="#5c0000" font-weight="bold" stroke="#5c0000" stroke-width="0.12">HM</text>
<line x1="36.25" y1="297.5" x2="184.25" y2="297.5" stroke-width="1"/>
<line x1="36.5" y1="52.2" x2="36.5" y2="297.9" stroke-width="1"/>
<line x1="60.5" y1="52.2" x2="60.5" y2="297.9" stroke-width="1"/>
<line x1="84.5" y1="52.2" x2="84.5" y2="297.9" stroke-width="1"/>
<line x1="108.5" y1="52.2" x2="108.5" y2="297.9" stroke-width="1"/>
<line x1="127.5" y1="52.2" x2="127.5" y2="297.9" stroke-width="1"/>
<line x1="143.5" y1="52.2" x2="143.5" y2="297.9" stroke-width="1"/>
<line x1="159.5" y1="52.2" x2="159.5" y2="297.9" stroke-width="1"/>
<line x1="184.5" y1="52.2" x2="184.5" y2="297.9" stroke-width="1"/>
</g>
<line x1="735.3" y1="16.5" x2="783.9" y2="16.5" stroke-width="1"/>
<line x1="735.3" y1="118.5" x2="783.9" y2="118.5" stroke-width="1"/>
<line x1="735.3" y1="131.5" x2="783.9" y2="131.5" stroke-width="1"/>
<line x1="735.3" y1="323.5" x2="783.9" y2="323.5" stroke-width="1"/>
<line x1="735.3" y1="427.5" x2="783.9" y2="427.5" stroke-width="1"/>
<line x1="735.3" y1="449.5" x2="783.9" y2="449.5" stroke-width="1"/>
<line x1="735.3" y1="465.5" x2="783.9" y2="465.5" stroke-width="1"/>
<line x1="735.3" y1="519.5" x2="783.9" y2="519.5" stroke-width="1"/>
<rect x="749.5" y="35.5" width="23" height="23" fill="#c8504c" stroke-width="1"/>
<circle cx="750.5" cy="41.8" r="12.4" fill="#fff" stroke-width="0.84"/>
<line x1="747.5" y1="24" x2="747.5" y2="73.5" stroke-width="1" stroke="#333"/>
<line x1="733" y1="45.5" x2="790" y2="45.5" stroke-width="1" stroke="#bbb"/>
<circle cx="756" cy="53.1" r="1.9" fill="#fff" stroke-width="0.72"/>
<g filter="url(#blur1)">
<text x="737.2" y="96.8" font-size="8.4" fill="#4a4a4a" font-weight="bold" stroke="none" textLength="46" lengthAdjust="spacingAndGlyphs">ABC Design</text>
<text x="737.2" y="110.4" font-size="8.4" fill="#4a4a4a" font-weight="bold" stroke="none" textLength="38.5" lengthAdjust="spacingAndGlyphs">2021 Office</text>
</g>
<g filter="url(#blur1)">
<text x="744.3" y="318.8" font-size="9.6" fill="#454545" font-weight="bold" transform="rotate(-90 744.3 318.8)" stroke="none" textLength="68" lengthAdjust="spacingAndGlyphs">sample school</text>
<text x="756.6" y="318.8" font-size="9.8" fill="#454545" font-weight="bold" transform="rotate(-90 756.6 318.8)" stroke="none" textLength="68.5" lengthAdjust="spacingAndGlyphs">Project Name</text>
<text x="770.2" y="319.4" font-size="8.4" fill="#9a9a9a" transform="rotate(-90 770.2 319.4)" stroke="none" textLength="41" lengthAdjust="spacingAndGlyphs">Anytown</text>
</g>
<rect x="735.5" y="326.5" width="49" height="11" fill="none" stroke-width="1"/>
<line x1="735.3" y1="331.5" x2="784.3" y2="331.5" stroke-width="1"/>
<line x1="748.5" y1="331.6" x2="748.5" y2="337.4" stroke-width="1"/>
<text x="759.8" y="330.4" font-size="3" fill="#000" text-anchor="middle" font-weight="bold" stroke="#000" stroke-width="0.22">Revisions</text>
<text x="741.6" y="336.2" font-size="2.8" fill="#000" text-anchor="middle" font-weight="bold" stroke="#000" stroke-width="0.22">ID</text>
<text x="766" y="336.2" font-size="2.8" fill="#000" text-anchor="middle" font-weight="bold" stroke="#000" stroke-width="0.22">Date</text>
<line x1="735.3" y1="342.5" x2="784.3" y2="342.5" stroke-width="1"/>
<line x1="735.3" y1="345.5" x2="784.3" y2="345.5" stroke-width="1"/>
<line x1="735.3" y1="349.5" x2="784.3" y2="349.5" stroke-width="1"/>
<line x1="735.3" y1="352.5" x2="784.3" y2="352.5" stroke-width="1"/>
<line x1="735.3" y1="356.5" x2="784.3" y2="356.5" stroke-width="1"/>
<line x1="735.3" y1="359.5" x2="784.3" y2="359.5" stroke-width="1"/>
<line x1="735.3" y1="363.5" x2="784.3" y2="363.5" stroke-width="1"/>
<line x1="735.3" y1="366.5" x2="784.3" y2="366.5" stroke-width="1"/>
<line x1="735.3" y1="370.5" x2="784.3" y2="370.5" stroke-width="1"/>
<line x1="735.5" y1="342.2" x2="735.5" y2="370" stroke-width="1"/>
<line x1="784.5" y1="342.2" x2="784.5" y2="370" stroke-width="1"/>
<line x1="748.5" y1="342.2" x2="748.5" y2="370" stroke-width="1"/>
<text x="746.5" y="414.5" font-size="8.2" fill="#8a8a8a" transform="rotate(-65.5 746.5 414.5)" stroke="none" font-style="italic" textLength="76">Not For Construction</text>
<text x="737" y="432.6" font-size="3" fill="#000" font-weight="bold" stroke="none">Project:</text>
<text x="782.5" y="432.6" font-size="3" fill="#000" text-anchor="end" font-weight="bold" stroke="none">2008-01</text>
<text x="737" y="438.7" font-size="3" fill="#000" font-weight="bold" stroke="none">Issue Date:</text>
<text x="782.5" y="438.7" font-size="3" fill="#000" text-anchor="end" font-weight="bold" stroke="none">01/01/08</text>
<text x="737" y="444.6" font-size="3" fill="#000" font-weight="bold" stroke="none">Project Status:</text>
<text x="782.5" y="444.6" font-size="3" fill="#000" text-anchor="end" font-weight="bold" stroke="none">Phase 1</text>
<text x="737" y="451.8" font-size="3" fill="#000" font-weight="bold" stroke="none">Drawn By:</text>
<text x="782.5" y="451.8" font-size="3" fill="#000" text-anchor="end" font-weight="bold" stroke="none">Author</text>
<text x="737" y="457.8" font-size="3" fill="#000" font-weight="bold" stroke="none">Checked By:</text>
<text x="782.5" y="457.8" font-size="3" fill="#000" text-anchor="end" font-weight="bold" stroke="none">Checker</text>
<text x="759.6" y="463.6" font-size="2.8" fill="#000" text-anchor="middle" font-weight="bold" stroke="none">As indicated</text>
<text x="737" y="472.7" font-size="3.9" fill="#000" font-weight="bold" stroke="#000" stroke-width="0.22">Sheet Contents</text>
<g filter="url(#blur2)">
<text x="736.5" y="486.3" font-size="8.2" fill="#3a3a3a" stroke="none" textLength="38">Floor Plan,</text>
<text x="736.5" y="495.8" font-size="8.2" fill="#3a3a3a" stroke="none" textLength="40">Schedules</text>
</g>
<text x="737" y="525.7" font-size="3.9" fill="#000" font-weight="bold" stroke="#000" stroke-width="0.22">Sheet #</text>
<text x="736.5" y="546.9" font-size="16.6" fill="#000" stroke="none">A2</text>
<rect x="57.8" y="365.4" width="39.1" height="43" fill="none" stroke-width="1.68"/>
<rect x="61.5" y="368.5" width="15" height="39" fill="none" stroke-width="1"/>
<rect x="79.5" y="368.5" width="15" height="39" fill="none" stroke-width="1"/>
<line x1="77.5" y1="365.4" x2="77.5" y2="408.4" stroke-width="1"/>
<path d="M75.6 369 L61.8 387.5 L75.6 406" fill="none" stroke-width="1.32" stroke-dasharray="1.0 1.5"/>
<path d="M79.9 369 L94.2 387.5 L79.9 406" fill="none" stroke-width="1.32" stroke-dasharray="1.0 1.5"/>
<rect x="94.5" y="386.5" width="2" height="2" fill="#fff" stroke-width="1"/>
<line x1="57.4" y1="348.5" x2="97.8" y2="348.5" stroke-width="1"/>
<line x1="58.5" y1="347" x2="58.5" y2="365.4" stroke-width="1"/>
<line x1="96.5" y1="347" x2="96.5" y2="365.4" stroke-width="1"/>
<line x1="57.8" y1="349.6" x2="60" y2="347.4" stroke-width="1.2"/>
<line x1="95.2" y1="349.6" x2="97.4" y2="347.4" stroke-width="1.2"/>
<text x="77.6" y="346.3" font-size="2.6" fill="#223" text-anchor="middle" font-weight="bold" stroke="#223" stroke-width="0.22">w=1800mm</text>
<line x1="61.5" y1="348.5" x2="61.5" y2="365.4" stroke-width="1"/>
<line x1="93.5" y1="348.5" x2="93.5" y2="365.4" stroke-width="1"/>
<line x1="58" y1="355.6" x2="63" y2="355.6" stroke-width="1.44"/>
<line x1="92.4" y1="355.6" x2="97.4" y2="355.6" stroke-width="1.44"/>
<text x="62.5" y="352.4" font-size="2.3" fill="#223" font-weight="bold" stroke="#223" stroke-width="0.22">100</text>
<text x="88" y="352.4" font-size="2.3" fill="#223" font-weight="bold" stroke="#223" stroke-width="0.22">100</text>
<line x1="42.5" y1="364.9" x2="42.5" y2="409.1" stroke-width="1"/>
<line x1="40.5" y1="366.5" x2="57.8" y2="366.5" stroke-width="1"/>
<line x1="40.5" y1="407.5" x2="57.8" y2="407.5" stroke-width="1"/>
<line x1="40.9" y1="367.5" x2="43.1" y2="365.3" stroke-width="1.2"/>
<line x1="40.9" y1="408.7" x2="43.1" y2="406.5" stroke-width="1.2"/>
<line x1="51.5" y1="364.5" x2="51.5" y2="409.5" stroke-width="1"/>
<line x1="49.9" y1="367.5" x2="52.1" y2="365.3" stroke-width="1.2"/>
<line x1="49.9" y1="408.7" x2="52.1" y2="406.5" stroke-width="1.2"/>
<path d="M46 373 Q44.5 367.5 50 367" fill="none" stroke-width="0.84"/>
<path d="M46 400 Q44.5 406.5 50 407" fill="none" stroke-width="0.84"/>
<text x="40.2" y="387" font-size="2.6" fill="#223" text-anchor="middle" font-weight="bold" transform="rotate(-90 40.2 387)" stroke="#223" stroke-width="0.22">h=2134mm</text>
<text x="47.5" y="372.5" font-size="2.6" fill="#223" text-anchor="middle" font-weight="bold" transform="rotate(-90 47.5 372.5)" stroke="#223" stroke-width="0.22">100</text>
<text x="47.5" y="402" font-size="2.6" fill="#223" text-anchor="middle" font-weight="bold" transform="rotate(-90 47.5 402)" stroke="#223" stroke-width="0.22">100</text>
<text x="58.5" y="416" font-size="2.7" fill="#000" font-weight="bold" stroke="#000" stroke-width="0.22" textLength="9.5">Type</text>
<line x1="58.5" y1="416.5" x2="68" y2="416.5" stroke-width="1"/>
<text x="58.5" y="421.9" font-size="2.9" fill="#111" font-weight="bold" stroke="#111" stroke-width="0.22">Double Door</text>
<text x="58.5" y="425" font-size="2.9" fill="#111" font-weight="bold" stroke="#111" stroke-width="0.22">Fully Glazed</text>
<text x="58.5" y="428.1" font-size="2.9" fill="#111" font-weight="bold" stroke="#111" stroke-width="0.22">Alum. Frame</text>
<rect x="120.6" y="365.4" width="21" height="43" fill="none" stroke-width="1.68"/>
<rect x="123.5" y="368.5" width="15" height="39" fill="none" stroke-width="1"/>
<path d="M137.6 369 L123.9 387.5 L137.6 406" fill="none" stroke-width="1.32" stroke-dasharray="1.0 1.5"/>
<rect x="121.5" y="386.5" width="1" height="2" fill="#fff" stroke-width="1"/>
<line x1="115" y1="348.5" x2="147.2" y2="348.5" stroke-width="1"/>
<line x1="121.5" y1="347" x2="121.5" y2="365.4" stroke-width="1"/>
<line x1="140.5" y1="347" x2="140.5" y2="365.4" stroke-width="1"/>
<line x1="120.4" y1="349.6" x2="122.6" y2="347.4" stroke-width="1.2"/>
<line x1="139.6" y1="349.6" x2="141.8" y2="347.4" stroke-width="1.2"/>
<text x="131.1" y="346.3" font-size="2.6" fill="#223" text-anchor="middle" font-weight="bold" stroke="#223" stroke-width="0.22">w=914mm</text>
<line x1="123.5" y1="348.5" x2="123.5" y2="365.4" stroke-width="1"/>
<line x1="138.5" y1="348.5" x2="138.5" y2="365.4" stroke-width="1"/>
<line x1="120" y1="355.6" x2="125" y2="355.6" stroke-width="1.44"/>
<line x1="137.4" y1="355.6" x2="142.4" y2="355.6" stroke-width="1.44"/>
<text x="113.5" y="352" font-size="2.3" fill="#223" font-weight="bold" stroke="#223" stroke-width="0.22">100</text>
<text x="143.5" y="352" font-size="2.3" fill="#223" font-weight="bold" stroke="#223" stroke-width="0.22">100</text>
<line x1="107.5" y1="364.9" x2="107.5" y2="409.1" stroke-width="1"/>
<line x1="106.3" y1="366.5" x2="120.6" y2="366.5" stroke-width="1"/>
<line x1="106.3" y1="407.5" x2="120.6" y2="407.5" stroke-width="1"/>
<line x1="106.7" y1="367.5" x2="108.9" y2="365.3" stroke-width="1.2"/>
<line x1="106.7" y1="408.7" x2="108.9" y2="406.5" stroke-width="1.2"/>
<line x1="114.5" y1="364.5" x2="114.5" y2="409.5" stroke-width="1"/>
<line x1="113.3" y1="367.5" x2="115.5" y2="365.3" stroke-width="1.2"/>
<line x1="113.3" y1="408.7" x2="115.5" y2="406.5" stroke-width="1.2"/>
<path d="M110.5 373 Q109 367.5 113.6 367" fill="none" stroke-width="0.84"/>
<path d="M110.5 400 Q109 406.5 113.6 407" fill="none" stroke-width="0.84"/>
<text x="105.6" y="387" font-size="2.6" fill="#223" text-anchor="middle" font-weight="bold" transform="rotate(-90 105.6 387)" stroke="#223" stroke-width="0.22">h=2134mm</text>
<text x="111.6" y="372.5" font-size="2.6" fill="#223" text-anchor="middle" font-weight="bold" transform="rotate(-90 111.6 372.5)" stroke="#223" stroke-width="0.22">100</text>
<text x="111.6" y="402" font-size="2.6" fill="#223" text-anchor="middle" font-weight="bold" transform="rotate(-90 111.6 402)" stroke="#223" stroke-width="0.22">100</text>
<text x="121.4" y="416" font-size="2.7" fill="#000" font-weight="bold" stroke="#000" stroke-width="0.22" textLength="9.5">Type</text>
<line x1="121.4" y1="416.5" x2="130.9" y2="416.5" stroke-width="1"/>
<text x="121.4" y="421.9" font-size="2.9" fill="#111" font-weight="bold" stroke="#111" stroke-width="0.22">Single Door</text>
<text x="121.4" y="425" font-size="2.9" fill="#111" font-weight="bold" stroke="#111" stroke-width="0.22">Fully Glazed</text>
<text x="121.4" y="428.1" font-size="2.9" fill="#111" font-weight="bold" stroke="#111" stroke-width="0.22">Alum. Frame</text>
<rect x="159.5" y="365.5" width="32" height="43" fill="none" stroke-width="1"/>
<line x1="172" y1="365.4" x2="172" y2="408.4" stroke-width="1.9"/>
<line x1="191" y1="365.4" x2="191" y2="408.4" stroke-width="1.68"/>
<line x1="159.2" y1="365.4" x2="191.6" y2="365.4" stroke-width="1.68"/>
<rect x="184.5" y="368.5" width="3" height="14" fill="none" stroke-width="1"/>
<line x1="164.4" y1="369.5" x2="183" y2="369.5" stroke-width="1"/>
<line x1="164.4" y1="382.5" x2="183" y2="382.5" stroke-width="1"/>
<path d="M183 372.3 L172.6 383.2 L190.6 407.4" fill="none" stroke-width="1.32" stroke-dasharray="1.0 1.5"/>
<line x1="170.5" y1="348.5" x2="193.1" y2="348.5" stroke-width="1"/>
<line x1="172.5" y1="347" x2="172.5" y2="365.4" stroke-width="1"/>
<line x1="191.5" y1="347" x2="191.5" y2="365.4" stroke-width="1"/>
<line x1="170.9" y1="349.6" x2="173.1" y2="347.4" stroke-width="1.2"/>
<line x1="190.5" y1="349.6" x2="192.7" y2="347.4" stroke-width="1.2"/>
<text x="181.8" y="346.3" font-size="2.6" fill="#223" text-anchor="middle" font-weight="bold" stroke="#223" stroke-width="0.22">w=914mm</text>
<line x1="184.5" y1="353" x2="184.5" y2="365.4" stroke-width="1"/>
<line x1="187.5" y1="353" x2="187.5" y2="365.4" stroke-width="1"/>
<line x1="183.6" y1="354.6" x2="188.6" y2="354.6" stroke-width="1.32"/>
<text x="173.5" y="352.2" font-size="2.2" fill="#223" font-weight="bold" stroke="#223" stroke-width="0.22">150</text>
<text x="193.5" y="352.2" font-size="2.3" fill="#223" font-weight="bold" stroke="#223" stroke-width="0.22">100</text>
<line x1="191.6" y1="353.5" x2="194.5" y2="350.5" stroke-width="0.84"/>
<line x1="159.5" y1="364.9" x2="159.5" y2="409.1" stroke-width="1"/>
<line x1="157.7" y1="366.5" x2="172" y2="366.5" stroke-width="1"/>
<line x1="157.7" y1="407.5" x2="172" y2="407.5" stroke-width="1"/>
<line x1="158.1" y1="367.5" x2="160.3" y2="365.3" stroke-width="1.2"/>
<line x1="158.1" y1="408.7" x2="160.3" y2="406.5" stroke-width="1.2"/>
<line x1="164.5" y1="360.5" x2="164.5" y2="384.5" stroke-width="1"/>
<line x1="163.3" y1="367.5" x2="165.5" y2="365.3" stroke-width="1.2"/>
<line x1="163.3" y1="370.3" x2="165.5" y2="368.1" stroke-width="1.2"/>
<line x1="163.3" y1="383.7" x2="165.5" y2="381.5" stroke-width="1.2"/>
<text x="156.9" y="387" font-size="2.6" fill="#223" text-anchor="middle" font-weight="bold" transform="rotate(-90 156.9 387)" stroke="#223" stroke-width="0.22">h=2134mm</text>
<text x="162.4" y="375.5" font-size="2.6" fill="#223" text-anchor="middle" font-weight="bold" transform="rotate(-90 162.4 375.5)" stroke="#223" stroke-width="0.22">800</text>
<text x="162.4" y="362.6" font-size="2.6" fill="#223" text-anchor="middle" font-weight="bold" transform="rotate(-90 162.4 362.6)" stroke="#223" stroke-width="0.22">150</text>
<text x="171.5" y="416" font-size="2.7" fill="#000" font-weight="bold" stroke="#000" stroke-width="0.22" textLength="9.5">Type</text>
<line x1="171.5" y1="416.5" x2="181" y2="416.5" stroke-width="1"/>
<text x="171.5" y="421.9" font-size="2.9" fill="#111" font-weight="bold" stroke="#111" stroke-width="0.22">Single Door</text>
<text x="171.5" y="425" font-size="2.9" fill="#111" font-weight="bold" stroke="#111" stroke-width="0.22">Fully Glazed</text>
<text x="171.5" y="428.1" font-size="2.9" fill="#111" font-weight="bold" stroke="#111" stroke-width="0.22">Hollow Metal Frame</text>
<text x="171.5" y="431.2" font-size="2.9" fill="#111" font-weight="bold" stroke="#111" stroke-width="0.22">Vision Panel</text>
<rect x="207.5" y="366.5" width="30" height="42" fill="none" stroke-width="1"/>
<line x1="216.4" y1="366.3" x2="216.4" y2="408.4" stroke-width="1.9"/>
<line x1="207.7" y1="366.3" x2="237.5" y2="366.3" stroke-width="1.56"/>
<line x1="236.5" y1="366.3" x2="236.5" y2="408.4" stroke-width="1"/>
<path d="M236.2 367.2 L217.4 387.3 L236.2 407.6" fill="none" stroke-width="1.32" stroke-dasharray="1.0 1.5"/>
<line x1="214.9" y1="349.5" x2="238.2" y2="349.5" stroke-width="1"/>
<line x1="216.5" y1="347.9" x2="216.5" y2="366.3" stroke-width="1"/>
<line x1="236.5" y1="347.9" x2="236.5" y2="366.3" stroke-width="1"/>
<line x1="215.3" y1="350.5" x2="217.5" y2="348.3" stroke-width="1.2"/>
<line x1="235.6" y1="350.5" x2="237.8" y2="348.3" stroke-width="1.2"/>
<text x="226.55" y="347.2" font-size="2.6" fill="#223" text-anchor="middle" font-weight="bold" stroke="#223" stroke-width="0.22">w=914mm</text>
<line x1="207.5" y1="364.9" x2="207.5" y2="409.1" stroke-width="1"/>
<line x1="206.2" y1="366.5" x2="216" y2="366.5" stroke-width="1"/>
<line x1="206.2" y1="407.5" x2="216" y2="407.5" stroke-width="1"/>
<line x1="206.6" y1="367.5" x2="208.8" y2="365.3" stroke-width="1.2"/>
<line x1="206.6" y1="408.7" x2="208.8" y2="406.5" stroke-width="1.2"/>
<text x="205.2" y="387" font-size="2.6" fill="#223" text-anchor="middle" font-weight="bold" transform="rotate(-90 205.2 387)" stroke="#223" stroke-width="0.22">h=2134mm</text>
<text x="216.4" y="416" font-size="2.7" fill="#000" font-weight="bold" stroke="#000" stroke-width="0.22" textLength="9.5">Type</text>
<line x1="216.4" y1="416.5" x2="225.9" y2="416.5" stroke-width="1"/>
<text x="216.4" y="421.9" font-size="2.9" fill="#111" font-weight="bold" stroke="#111" stroke-width="0.22">Single Door</text>
<text x="216.4" y="425" font-size="2.9" fill="#111" font-weight="bold" stroke="#111" stroke-width="0.22">Solid Core Wood</text>
<text x="216.4" y="428.1" font-size="2.9" fill="#111" font-weight="bold" stroke="#111" stroke-width="0.22">Hollow Metal Frame</text>
<text x="216.4" y="431.2" font-size="2.9" fill="#111" font-weight="bold" stroke="#111" stroke-width="0.22">Veneer Finish</text>
<rect x="48.5" y="467.5" width="30" height="43" fill="none" stroke-width="1"/>
<line x1="57.9" y1="467.7" x2="57.9" y2="510.2" stroke-width="1.9"/>
<line x1="48.3" y1="467.7" x2="78.6" y2="467.7" stroke-width="1.56"/>
<line x1="77.5" y1="467.7" x2="77.5" y2="510.2" stroke-width="1"/>
<path d="M76.3 469.8 L59.3 489.1 L76.3 508.4" fill="none" stroke-width="1.32" stroke-dasharray="1.0 1.5"/>
<line x1="56.4" y1="451.5" x2="78.4" y2="451.5" stroke-width="1"/>
<line x1="57.5" y1="449.7" x2="57.5" y2="467.7" stroke-width="1"/>
<line x1="76.5" y1="449.7" x2="76.5" y2="467.7" stroke-width="1"/>
<line x1="56.8" y1="452.3" x2="59" y2="450.1" stroke-width="1.2"/>
<line x1="75.8" y1="452.3" x2="78" y2="450.1" stroke-width="1.2"/>
<text x="67.4" y="449" font-size="2.6" fill="#223" text-anchor="middle" font-weight="bold" stroke="#223" stroke-width="0.22">w=914mm</text>
<line x1="48.5" y1="466.8" x2="48.5" y2="511.1" stroke-width="1"/>
<line x1="47.1" y1="468.5" x2="57.5" y2="468.5" stroke-width="1"/>
<line x1="47.1" y1="509.5" x2="57.5" y2="509.5" stroke-width="1"/>
<line x1="47.5" y1="469.4" x2="49.7" y2="467.2" stroke-width="1.2"/>
<line x1="47.5" y1="510.7" x2="49.7" y2="508.5" stroke-width="1.2"/>
<text x="46.2" y="489" font-size="2.6" fill="#223" text-anchor="middle" font-weight="bold" transform="rotate(-90 46.2 489)" stroke="#223" stroke-width="0.22">h=2134mm</text>
<text x="57" y="516.5" font-size="2.7" fill="#000" font-weight="bold" stroke="#000" stroke-width="0.22" textLength="9.5">Type</text>
<line x1="57" y1="517.5" x2="66.5" y2="517.5" stroke-width="1"/>
<text x="57" y="522.4" font-size="2.9" fill="#111" font-weight="bold" stroke="#111" stroke-width="0.22">Single Door</text>
<text x="57" y="525.5" font-size="2.9" fill="#111" font-weight="bold" stroke="#111" stroke-width="0.22">Hollow Metal Frame</text>
<text x="57" y="528.6" font-size="2.9" fill="#111" font-weight="bold" stroke="#111" stroke-width="0.22">Painted Finish</text>
<rect x="93.5" y="467.5" width="29" height="43" fill="none" stroke-width="1"/>
<line x1="102.9" y1="467.7" x2="102.9" y2="510.2" stroke-width="1.9"/>
<line x1="93.3" y1="467.7" x2="122.6" y2="467.7" stroke-width="1.56"/>
<line x1="121.9" y1="467.7" x2="121.9" y2="510.2" stroke-width="1.68"/>
<path d="M120.6 469.8 L104.4 489.1 L120.6 508.4" fill="none" stroke-width="1.32" stroke-dasharray="1.0 1.5"/>
<line x1="101.4" y1="451.5" x2="123.5" y2="451.5" stroke-width="1"/>
<line x1="102.5" y1="449.7" x2="102.5" y2="467.7" stroke-width="1"/>
<line x1="122.5" y1="449.7" x2="122.5" y2="467.7" stroke-width="1"/>
<line x1="101.8" y1="452.3" x2="104" y2="450.1" stroke-width="1.2"/>
<line x1="120.9" y1="452.3" x2="123.1" y2="450.1" stroke-width="1.2"/>
<text x="112.45" y="449" font-size="2.6" fill="#223" text-anchor="middle" font-weight="bold" stroke="#223" stroke-width="0.22">w=914mm</text>
<line x1="93.5" y1="466.8" x2="93.5" y2="511.1" stroke-width="1"/>
<line x1="92.1" y1="468.5" x2="102.5" y2="468.5" stroke-width="1"/>
<line x1="92.1" y1="509.5" x2="102.5" y2="509.5" stroke-width="1"/>
<line x1="92.5" y1="469.4" x2="94.7" y2="467.2" stroke-width="1.2"/>
<line x1="92.5" y1="510.7" x2="94.7" y2="508.5" stroke-width="1.2"/>
<text x="91.2" y="489" font-size="2.6" fill="#223" text-anchor="middle" font-weight="bold" transform="rotate(-90 91.2 489)" stroke="#223" stroke-width="0.22">h=2134mm</text>
<text x="101.5" y="516.5" font-size="2.7" fill="#000" font-weight="bold" stroke="#000" stroke-width="0.22" textLength="9.5">Type</text>
<line x1="101.5" y1="517.5" x2="111" y2="517.5" stroke-width="1"/>
<text x="101.5" y="522.4" font-size="2.9" fill="#111" font-weight="bold" stroke="#111" stroke-width="0.22">Single Door</text>
<text x="101.5" y="525.5" font-size="2.9" fill="#111" font-weight="bold" stroke="#111" stroke-width="0.22">Insulated Metal</text>
<text x="101.5" y="528.6" font-size="2.9" fill="#111" font-weight="bold" stroke="#111" stroke-width="0.22">Exterior Paint</text>
<rect x="143.8" y="468.2" width="37.2" height="41.6" fill="none" stroke-width="1.9"/>
<line x1="162.3" y1="468" x2="162.3" y2="510" stroke-width="1.8"/>
<rect x="146.5" y="470.5" width="15" height="38" fill="none" stroke-width="1"/>
<rect x="163.5" y="470.5" width="16" height="38" fill="none" stroke-width="1"/>
<line x1="142.4" y1="451.5" x2="182.6" y2="451.5" stroke-width="1"/>
<line x1="143.5" y1="449.7" x2="143.5" y2="467.7" stroke-width="1"/>
<line x1="181.5" y1="449.7" x2="181.5" y2="467.7" stroke-width="1"/>
<line x1="142.8" y1="452.3" x2="145" y2="450.1" stroke-width="1.2"/>
<line x1="180" y1="452.3" x2="182.2" y2="450.1" stroke-width="1.2"/>
<text x="162.5" y="449" font-size="2.6" fill="#223" text-anchor="middle" font-weight="bold" stroke="#223" stroke-width="0.22">w=1800mm</text>
<line x1="134.5" y1="466.8" x2="134.5" y2="511.1" stroke-width="1"/>
<line x1="133" y1="468.5" x2="143" y2="468.5" stroke-width="1"/>
<line x1="133" y1="509.5" x2="143" y2="509.5" stroke-width="1"/>
<line x1="133.4" y1="469.4" x2="135.6" y2="467.2" stroke-width="1.2"/>
<line x1="133.4" y1="510.7" x2="135.6" y2="508.5" stroke-width="1.2"/>
<text x="131.6" y="489" font-size="2.6" fill="#223" text-anchor="middle" font-weight="bold" transform="rotate(-90 131.6 489)" stroke="#223" stroke-width="0.22">h=2134mm</text>
<text x="143.2" y="516.5" font-size="2.7" fill="#000" font-weight="bold" stroke="#000" stroke-width="0.22" textLength="9.5">Type</text>
<line x1="143.2" y1="517.5" x2="152.7" y2="517.5" stroke-width="1"/>
<text x="143.2" y="522.4" font-size="2.9" fill="#111" font-weight="bold" stroke="#111" stroke-width="0.22">Double Door</text>
<text x="143.2" y="525.5" font-size="2.9" fill="#111" font-weight="bold" stroke="#111" stroke-width="0.22">Alum.</text>
<text x="143.2" y="528.6" font-size="2.9" fill="#111" font-weight="bold" stroke="#111" stroke-width="0.22">Clear Anodized</text>
<text x="37.6" y="542.3" font-size="3.7" fill="#000" stroke="#000" stroke-width="0.22" letter-spacing="1.05">DOOR TYPES</text>
<text x="236.3" y="460" font-size="3.4" fill="#000" font-weight="bold" stroke="#000" stroke-width="0.22" textLength="40.5">Wall Type A - Exterior</text>
<line x1="236.3" y1="461.5" x2="276.8" y2="461.5" stroke-width="1"/>
<text x="245" y="471.6" font-size="3.3" fill="#111" font-weight="bold" stroke="#111" stroke-width="0.22" textLength="19.5">Lower Wall</text>
<rect x="243.5" y="477.5" width="10" height="53" fill="#0a0a0a" stroke-width="1"/>
<path d="M248.6 478 Q255 478.85 248.6 479.7 Q242.2 480.55 248.6 481.4 Q255 482.25 248.6 483.1 Q242.2 483.95 248.6 484.8 Q255 485.65 248.6 486.5 Q242.2 487.35 248.6 488.2 Q255 489.05 248.6 489.9 Q242.2 490.75 248.6 491.6 Q255 492.45 248.6 493.3 Q242.2 494.15 248.6 495 Q255 495.85 248.6 496.7 Q242.2 497.55 248.6 498.4 Q255 499.25 248.6 500.1 Q242.2 500.95 248.6 501.8 Q255 502.65 248.6 503.5 Q242.2 504.35 248.6 505.2 Q255 506.05 248.6 506.9 Q242.2 507.75 248.6 508.6 Q255 509.45 248.6 510.3 Q242.2 511.15 248.6 512 Q255 512.85 248.6 513.7 Q242.2 514.55 248.6 515.4 Q255 516.25 248.6 517.1 Q242.2 517.95 248.6 518.8 Q255 519.65 248.6 520.5 Q242.2 521.35 248.6 522.2 Q255 523.05 248.6 523.9 Q242.2 524.75 248.6 525.6 Q255 526.45 248.6 527.3 Q242.2 528.15 248.6 529" fill="none" stroke="#fff" stroke-width="1.0"/>
<rect x="253.5" y="477.5" width="5" height="53" fill="#fff" stroke-width="1"/>
<rect x="258.5" y="477.5" width="11" height="53" fill="#ececec" stroke-width="1"/>
<rect x="243.5" y="477.5" width="26" height="53" fill="none" stroke-width="1"/>
<line x1="235.5" y1="490.5" x2="243.4" y2="490.5" stroke-width="1"/>
<line x1="241.5" y1="488.8" x2="241.5" y2="491.4" stroke-width="1"/>
<line x1="269.9" y1="490.5" x2="278" y2="490.5" stroke-width="1"/>
<line x1="272.5" y1="488.8" x2="272.5" y2="491.4" stroke-width="1"/>
<text x="280" y="490.6" font-size="2.7" fill="#111" font-weight="bold" stroke="#111" stroke-width="0.22">100mm Face Brick, Running Bond</text>
<text x="280" y="493.35" font-size="2.7" fill="#111" font-weight="bold" stroke="#111" stroke-width="0.22">25mm Air Space</text>
<text x="280" y="496.1" font-size="2.7" fill="#111" font-weight="bold" stroke="#111" stroke-width="0.22">Air Infiltration Barrier</text>
<text x="280" y="501.6" font-size="2.7" fill="#111" font-weight="bold" stroke="#111" stroke-width="0.22">150mm Rigid Insulation Board</text>
<text x="280" y="504.35" font-size="2.7" fill="#111" font-weight="bold" stroke="#111" stroke-width="0.22">200mm CMU, Reinforced</text>
<text x="280" y="509.85" font-size="2.7" fill="#111" font-weight="bold" stroke="#111" stroke-width="0.22">Batt Insul.</text>
<text x="280" y="512.6" font-size="2.7" fill="#111" font-weight="bold" stroke="#111" stroke-width="0.22">Poly. Vapour Retarder</text>
<text x="280" y="515.35" font-size="2.7" fill="#111" font-weight="bold" stroke="#111" stroke-width="0.22">16mm Gyp. Bd.</text>
<text x="330" y="471.6" font-size="3.3" fill="#111" font-weight="bold" stroke="#111" stroke-width="0.22" textLength="19.3">Upper Wall</text>
<rect x="332.5" y="476.5" width="11" height="54" fill="#0a0a0a" stroke-width="1"/>
<path d="M338 477.2 Q345.6 478.05 338 478.9 Q330.4 479.75 338 480.6 Q345.6 481.45 338 482.3 Q330.4 483.15 338 484 Q345.6 484.85 338 485.7 Q330.4 486.55 338 487.4 Q345.6 488.25 338 489.1 Q330.4 489.95 338 490.8 Q345.6 491.65 338 492.5 Q330.4 493.35 338 494.2 Q345.6 495.05 338 495.9 Q330.4 496.75 338 497.6 Q345.6 498.45 338 499.3 Q330.4 500.15 338 501 Q345.6 501.85 338 502.7 Q330.4 503.55 338 504.4 Q345.6 505.25 338 506.1 Q330.4 506.95 338 507.8 Q345.6 508.65 338 509.5 Q330.4 510.35 338 511.2 Q345.6 512.05 338 512.9 Q330.4 513.75 338 514.6 Q345.6 515.45 338 516.3 Q330.4 517.15 338 518 Q345.6 518.85 338 519.7 Q330.4 520.55 338 521.4 Q345.6 522.25 338 523.1 Q330.4 523.95 338 524.8 Q345.6 525.65 338 526.5 Q330.4 527.35 338 528.2" fill="none" stroke="#fff" stroke-width="1.0"/>
<rect x="343.5" y="476.5" width="4" height="54" fill="#fff" stroke-width="1"/>
<rect x="347.5" y="476.5" width="6" height="54" fill="url(#hatch)" stroke-width="1"/>
<rect x="332.5" y="476.5" width="21" height="54" fill="none" stroke-width="1"/>
<line x1="324.5" y1="489.5" x2="332.2" y2="489.5" stroke-width="1"/>
<line x1="330.5" y1="488" x2="330.5" y2="490.6" stroke-width="1"/>
<line x1="353.7" y1="489.5" x2="362.5" y2="489.5" stroke-width="1"/>
<line x1="355.5" y1="488" x2="355.5" y2="490.6" stroke-width="1"/>
<text x="364.3" y="488.6" font-size="2.7" fill="#111" font-weight="bold" stroke="#111" stroke-width="0.22">150mm Ext. Insul. Fin. Sys.</text>
<text x="364.3" y="491.35" font-size="2.7" fill="#111" font-weight="bold" stroke="#111" stroke-width="0.22">25mm Air Space</text>
<text x="364.3" y="494.1" font-size="2.7" fill="#111" font-weight="bold" stroke="#111" stroke-width="0.22">Air Infiltration Barrier</text>
<text x="364.3" y="499.6" font-size="2.7" fill="#111" font-weight="bold" stroke="#111" stroke-width="0.22">150mm Rigid Insulation Board</text>
<text x="364.3" y="502.35" font-size="2.7" fill="#111" font-weight="bold" stroke="#111" stroke-width="0.22">16mm Ext. Sheathing</text>
<text x="364.3" y="507.85" font-size="2.7" fill="#111" font-weight="bold" stroke="#111" stroke-width="0.22">Batt Insul.</text>
<text x="364.3" y="510.6" font-size="2.7" fill="#111" font-weight="bold" stroke="#111" stroke-width="0.22">Poly. Vapour Retarder</text>
<text x="364.3" y="513.35" font-size="2.7" fill="#111" font-weight="bold" stroke="#111" stroke-width="0.22">16mm Gyp. Bd.</text>
<text x="429.3" y="460" font-size="3.4" fill="#000" font-weight="bold" stroke="#000" stroke-width="0.22" textLength="45.7">Wall Type B - Int. - Rated</text>
<line x1="429.3" y1="461.5" x2="475" y2="461.5" stroke-width="1"/>
<rect x="431.5" y="477.5" width="7" height="53" fill="#fff" stroke-width="1"/>
<line x1="423.3" y1="489.5" x2="431.4" y2="489.5" stroke-width="1"/>
<line x1="429.5" y1="488" x2="429.5" y2="490.6" stroke-width="1"/>
<line x1="438.2" y1="489.5" x2="446.8" y2="489.5" stroke-width="1"/>
<line x1="440.5" y1="488" x2="440.5" y2="490.6" stroke-width="1"/>
<text x="448.8" y="488.6" font-size="2.7" fill="#111" font-weight="bold" stroke="#111" stroke-width="0.22">16mm Type X Gyp. Bd.</text>
<text x="448.8" y="491.5" font-size="2.7" fill="#111" font-weight="bold" stroke="#111" stroke-width="0.22">92mm Steel Stud</text>
<text x="448.8" y="494.4" font-size="2.7" fill="#111" font-weight="bold" stroke="#111" stroke-width="0.22">16mm Type X Gyp. Bd.</text>
<text x="500" y="460" font-size="3.4" fill="#000" font-weight="bold" stroke="#000" stroke-width="0.22" textLength="22.5">Wall Type C</text>
<line x1="500" y1="461.5" x2="522.5" y2="461.5" stroke-width="1"/>
<rect x="503.5" y="477.5" width="10" height="53" fill="#fff" stroke-width="1"/>
<line x1="495" y1="489.5" x2="503.4" y2="489.5" stroke-width="1"/>
<line x1="501.5" y1="488" x2="501.5" y2="490.6" stroke-width="1"/>
<line x1="513.3" y1="489.5" x2="522.5" y2="489.5" stroke-width="1"/>
<line x1="515.5" y1="488" x2="515.5" y2="490.6" stroke-width="1"/>
<text x="524.3" y="488.6" font-size="2.7" fill="#111" font-weight="bold" stroke="#111" stroke-width="0.22">16mm Gyp. Bd.</text>
<text x="524.3" y="491.5" font-size="2.7" fill="#111" font-weight="bold" stroke="#111" stroke-width="0.22">152mm Steel Stud</text>
<text x="524.3" y="494.4" font-size="2.7" fill="#111" font-weight="bold" stroke="#111" stroke-width="0.22">16mm Gyp. Bd.</text>
<text x="560" y="460" font-size="3.4" fill="#000" font-weight="bold" stroke="#000" stroke-width="0.22" textLength="22.5">Wall Type D</text>
<line x1="560" y1="461.5" x2="582.5" y2="461.5" stroke-width="1"/>
<rect x="562.5" y="477.5" width="8" height="53" fill="#fff" stroke-width="1"/>
<line x1="555" y1="489.5" x2="562.6" y2="489.5" stroke-width="1"/>
<line x1="560.5" y1="488" x2="560.5" y2="490.6" stroke-width="1"/>
<line x1="570.5" y1="489.5" x2="579.5" y2="489.5" stroke-width="1"/>
<line x1="572.5" y1="488" x2="572.5" y2="490.6" stroke-width="1"/>
<text x="580.6" y="488.6" font-size="2.7" fill="#111" font-weight="bold" stroke="#111" stroke-width="0.22">16mm Gyp. Bd.</text>
<text x="580.6" y="491.5" font-size="2.7" fill="#111" font-weight="bold" stroke="#111" stroke-width="0.22">92mm Steel Stud</text>
<text x="580.6" y="494.4" font-size="2.7" fill="#111" font-weight="bold" stroke="#111" stroke-width="0.22">16mm Gyp. Bd.</text>
<line x1="252.5" y1="38.3" x2="252.5" y2="95" stroke-width="1" stroke-dasharray="32 2 2 2"/>
<line x1="252.5" y1="312.5" x2="252.5" y2="397" stroke-width="1" stroke-dasharray="7.5 2 2 2 90 0"/>
<line x1="333.5" y1="38.3" x2="333.5" y2="95" stroke-width="1" stroke-dasharray="8 2 3 2"/>
<line x1="333.5" y1="312.5" x2="333.5" y2="391.2" stroke-width="1" stroke-dasharray="27.5 2 2 2 90 0"/>
<line x1="373.5" y1="38.3" x2="373.5" y2="95" stroke-width="1" stroke-dasharray="8 2 3 2"/>
<line x1="373.5" y1="312.5" x2="373.5" y2="391.2" stroke-width="1" stroke-dasharray="27.5 2 2 2 90 0"/>
<line x1="463.5" y1="38.3" x2="463.5" y2="95" stroke-width="1" stroke-dasharray="8 2 3 2"/>
<line x1="463.5" y1="312.5" x2="463.5" y2="391.2" stroke-width="1" stroke-dasharray="27.5 2 2 2 90 0"/>
<line x1="543.5" y1="38.3" x2="543.5" y2="95" stroke-width="1" stroke-dasharray="8 2 3 2"/>
<line x1="543.5" y1="312.5" x2="543.5" y2="391.2" stroke-width="1" stroke-dasharray="27.5 2 2 2 90 0"/>
<line x1="591.5" y1="38.3" x2="591.5" y2="95" stroke-width="1" stroke-dasharray="8 2 3 2"/>
<line x1="591.5" y1="312.5" x2="591.5" y2="391.2" stroke-width="1" stroke-dasharray="27.5 2 2 2 90 0"/>
<line x1="659.5" y1="38.3" x2="659.5" y2="95" stroke-width="1" stroke-dasharray="8 2 3 2"/>
<line x1="659.5" y1="312.5" x2="659.5" y2="397" stroke-width="1" stroke-dasharray="27.5 2 2 2 90 0"/>
<line x1="333.5" y1="95" x2="333.5" y2="312.5" stroke-width="1" stroke-dasharray="9 2 4 2"/>
<line x1="463.5" y1="95" x2="463.5" y2="312.5" stroke-width="1" stroke-dasharray="9 2 4 2"/>
<line x1="543.5" y1="95" x2="543.5" y2="312.5" stroke-width="1" stroke-dasharray="9 2 4 2"/>
<line x1="591.5" y1="95" x2="591.5" y2="312.5" stroke-width="1" stroke-dasharray="9 2 4 2"/>
<line x1="206" y1="94.5" x2="253" y2="94.5" stroke-width="1" stroke-dasharray="32 2 2 2"/>
<line x1="659.6" y1="94.5" x2="709" y2="94.5" stroke-width="1" stroke-dasharray="9 2 4 2"/>
<line x1="206" y1="169.5" x2="253" y2="169.5" stroke-width="1" stroke-dasharray="32 2 2 2"/>
<line x1="659.6" y1="169.5" x2="709" y2="169.5" stroke-width="1" stroke-dasharray="9 2 4 2"/>
<line x1="206" y1="258.5" x2="253" y2="258.5" stroke-width="1" stroke-dasharray="32 2 2 2"/>
<line x1="659.6" y1="258.5" x2="709" y2="258.5" stroke-width="1" stroke-dasharray="9 2 4 2"/>
<line x1="206" y1="312.5" x2="253" y2="312.5" stroke-width="1" stroke-dasharray="32 2 2 2"/>
<line x1="659.6" y1="312.5" x2="709" y2="312.5" stroke-width="1" stroke-dasharray="9 2 4 2"/>
<line x1="253" y1="169.5" x2="659.6" y2="169.5" stroke-width="1" stroke-dasharray="9 2 4 2"/>
<line x1="253" y1="258.5" x2="659.6" y2="258.5" stroke-width="1" stroke-dasharray="9 2 4 2"/>
<line x1="373.8" y1="312.5" x2="463.4" y2="312.5" stroke-width="1" stroke-dasharray="32 2 2 2"/>
<circle cx="253.5" cy="32.4" r="5.9" fill="#fff" stroke-width="1.08"/>
<text x="253.5" y="34.4" font-size="5.6" fill="#000" text-anchor="middle" stroke="none">1</text>
<circle cx="333.1" cy="32.4" r="5.9" fill="#fff" stroke-width="1.08"/>
<text x="333.1" y="34.4" font-size="5.6" fill="#000" text-anchor="middle" stroke="none">1.8</text>
<circle cx="373.4" cy="32.4" r="5.9" fill="#fff" stroke-width="1.08"/>
<text x="373.4" y="34.4" font-size="5.6" fill="#000" text-anchor="middle" stroke="none">2</text>
<circle cx="463.5" cy="32.4" r="5.9" fill="#fff" stroke-width="1.08"/>
<text x="463.5" y="34.4" font-size="5.6" fill="#000" text-anchor="middle" stroke="none">3</text>
<circle cx="543.6" cy="32.4" r="5.9" fill="#fff" stroke-width="1.08"/>
<text x="543.6" y="34.4" font-size="5.6" fill="#000" text-anchor="middle" stroke="none">3.2</text>
<circle cx="591.9" cy="32.4" r="5.9" fill="#fff" stroke-width="1.08"/>
<text x="591.9" y="34.4" font-size="5.6" fill="#000" text-anchor="middle" stroke="none">3.8</text>
<circle cx="659.7" cy="32.4" r="5.9" fill="#fff" stroke-width="1.08"/>
<text x="659.7" y="34.4" font-size="5.6" fill="#000" text-anchor="middle" stroke="none">4</text>
<circle cx="200.2" cy="94.7" r="5.9" fill="#fff" stroke-width="1.08"/>
<text x="200.2" y="96.7" font-size="5.6" fill="#000" text-anchor="middle" stroke="none">A</text>
<circle cx="200.2" cy="169.6" r="5.9" fill="#fff" stroke-width="1.08"/>
<text x="200.2" y="171.6" font-size="5.6" fill="#000" text-anchor="middle" stroke="none">B</text>
<circle cx="200.2" cy="258.6" r="5.9" fill="#fff" stroke-width="1.08"/>
<text x="200.2" y="260.6" font-size="5.6" fill="#000" text-anchor="middle" stroke="none">C</text>
<circle cx="200.2" cy="312.5" r="5.9" fill="#fff" stroke-width="1.08"/>
<text x="200.2" y="314.5" font-size="5.6" fill="#000" text-anchor="middle" stroke="none">D</text>
<line x1="251.5" y1="45.5" x2="661.3" y2="45.5" stroke-width="1"/>
<line x1="251.5" y1="51.5" x2="661.3" y2="51.5" stroke-width="1"/>
<line x1="251.5" y1="57.5" x2="661.3" y2="57.5" stroke-width="1"/>
<line x1="251.5" y1="63.5" x2="661.3" y2="63.5" stroke-width="1"/>
<line x1="208.5" y1="93" x2="208.5" y2="314.2" stroke-width="1"/>
<line x1="214.5" y1="93" x2="214.5" y2="314.2" stroke-width="1"/>
<line x1="220.5" y1="93" x2="220.5" y2="314.2" stroke-width="1"/>
<line x1="231.5" y1="93" x2="231.5" y2="314.2" stroke-width="1"/>
<line x1="689.5" y1="93" x2="689.5" y2="314.2" stroke-width="1"/>
<line x1="695.5" y1="93" x2="695.5" y2="314.2" stroke-width="1"/>
<line x1="702.5" y1="93" x2="702.5" y2="314.2" stroke-width="1"/>
<line x1="707.5" y1="93" x2="707.5" y2="314.2" stroke-width="1"/>
<line x1="251.5" y1="384.5" x2="661.3" y2="384.5" stroke-width="1"/>
<line x1="251.5" y1="390.5" x2="661.3" y2="390.5" stroke-width="1"/>
<line x1="251.5" y1="396.5" x2="661.3" y2="396.5" stroke-width="1"/>
<line x1="461.5" y1="378.5" x2="661.3" y2="378.5" stroke-width="1"/>
<line x1="251.7" y1="46.4" x2="253.5" y2="44.6" stroke-width="1.32"/>
<line x1="251.7" y1="52.2" x2="253.5" y2="50.4" stroke-width="1.32"/>
<line x1="251.7" y1="57.9" x2="253.5" y2="56.1" stroke-width="1.32"/>
<line x1="251.7" y1="64.2" x2="253.5" y2="62.4" stroke-width="1.32"/>
<line x1="658.7" y1="46.4" x2="660.5" y2="44.6" stroke-width="1.32"/>
<line x1="658.7" y1="52.2" x2="660.5" y2="50.4" stroke-width="1.32"/>
<line x1="658.7" y1="57.9" x2="660.5" y2="56.1" stroke-width="1.32"/>
<line x1="658.7" y1="64.2" x2="660.5" y2="62.4" stroke-width="1.32"/>
<line x1="372.4" y1="46.4" x2="374.2" y2="44.6" stroke-width="1.32"/>
<line x1="462.5" y1="46.4" x2="464.3" y2="44.6" stroke-width="1.32"/>
<line x1="590.9" y1="46.4" x2="592.7" y2="44.6" stroke-width="1.32"/>
<line x1="332.1" y1="52.2" x2="333.9" y2="50.4" stroke-width="1.32"/>
<line x1="372.4" y1="52.2" x2="374.2" y2="50.4" stroke-width="1.32"/>
<line x1="462.5" y1="52.2" x2="464.3" y2="50.4" stroke-width="1.32"/>
<line x1="542.6" y1="52.2" x2="544.4" y2="50.4" stroke-width="1.32"/>
<line x1="590.9" y1="52.2" x2="592.7" y2="50.4" stroke-width="1.32"/>
<line x1="314.4" y1="57.9" x2="316.2" y2="56.1" stroke-width="1.32"/>
<line x1="337.3" y1="57.9" x2="339.1" y2="56.1" stroke-width="1.32"/>
<line x1="359.4" y1="57.9" x2="361.2" y2="56.1" stroke-width="1.32"/>
<line x1="392.5" y1="57.9" x2="394.3" y2="56.1" stroke-width="1.32"/>
<line x1="434.4" y1="57.9" x2="436.2" y2="56.1" stroke-width="1.32"/>
<line x1="464.7" y1="57.9" x2="466.5" y2="56.1" stroke-width="1.32"/>
<line x1="480.7" y1="57.9" x2="482.5" y2="56.1" stroke-width="1.32"/>
<line x1="504.7" y1="57.9" x2="506.5" y2="56.1" stroke-width="1.32"/>
<line x1="537.6" y1="57.9" x2="539.4" y2="56.1" stroke-width="1.32"/>
<line x1="571.5" y1="57.9" x2="573.3" y2="56.1" stroke-width="1.32"/>
<line x1="635.7" y1="57.9" x2="637.5" y2="56.1" stroke-width="1.32"/>
<line x1="332.1" y1="57.9" x2="333.9" y2="56.1" stroke-width="1.32"/>
<line x1="372.4" y1="57.9" x2="374.2" y2="56.1" stroke-width="1.32"/>
<line x1="462.5" y1="57.9" x2="464.3" y2="56.1" stroke-width="1.32"/>
<line x1="542.6" y1="57.9" x2="544.4" y2="56.1" stroke-width="1.32"/>
<line x1="590.9" y1="57.9" x2="592.7" y2="56.1" stroke-width="1.32"/>
<line x1="277.3" y1="64.2" x2="279.1" y2="62.4" stroke-width="1.32"/>
<line x1="300.3" y1="64.2" x2="302.1" y2="62.4" stroke-width="1.32"/>
<line x1="373.3" y1="64.2" x2="375.1" y2="62.4" stroke-width="1.32"/>
<line x1="473.3" y1="64.2" x2="475.1" y2="62.4" stroke-width="1.32"/>
<line x1="593.3" y1="64.2" x2="595.1" y2="62.4" stroke-width="1.32"/>
<text x="291.9" y="48.3" font-size="3.1" fill="#334" text-anchor="middle" stroke="#334" stroke-width="0.12">8000</text>
<text x="353.8" y="48.3" font-size="3.1" fill="#334" text-anchor="middle" stroke="#334" stroke-width="0.12">8000</text>
<text x="418.4" y="48.3" font-size="3.1" fill="#334" text-anchor="middle" stroke="#334" stroke-width="0.12">8000</text>
<text x="503.5" y="48.3" font-size="3.1" fill="#334" text-anchor="middle" stroke="#334" stroke-width="0.12">8000</text>
<text x="567.2" y="48.3" font-size="3.1" fill="#334" text-anchor="middle" stroke="#334" stroke-width="0.12">8000</text>
<text x="625.3" y="48.3" font-size="3.1" fill="#334" text-anchor="middle" stroke="#334" stroke-width="0.12">8000</text>
<text x="283.4" y="54.2" font-size="3.1" fill="#334" text-anchor="middle" stroke="#334" stroke-width="0.12">3600</text>
<text x="326" y="54.2" font-size="3.1" fill="#334" text-anchor="middle" stroke="#334" stroke-width="0.12">3600</text>
<text x="347.2" y="54.2" font-size="3.1" fill="#334" text-anchor="middle" stroke="#334" stroke-width="0.12">3600</text>
<text x="376.3" y="54.2" font-size="3.1" fill="#334" text-anchor="middle" stroke="#334" stroke-width="0.12">3600</text>
<text x="414.6" y="54.2" font-size="3.1" fill="#334" text-anchor="middle" stroke="#334" stroke-width="0.12">3600</text>
<text x="450.3" y="54.2" font-size="3.1" fill="#334" text-anchor="middle" stroke="#334" stroke-width="0.12">3600</text>
<text x="473.1" y="54.2" font-size="3.1" fill="#334" text-anchor="middle" stroke="#334" stroke-width="0.12">3600</text>
<text x="493.8" y="54.2" font-size="3.1" fill="#334" text-anchor="middle" stroke="#334" stroke-width="0.12">3600</text>
<text x="521" y="54.2" font-size="3.1" fill="#334" text-anchor="middle" stroke="#334" stroke-width="0.12">3600</text>
<text x="554" y="54.2" font-size="3.1" fill="#334" text-anchor="middle" stroke="#334" stroke-width="0.12">3600</text>
<text x="602.8" y="54.2" font-size="3.1" fill="#334" text-anchor="middle" stroke="#334" stroke-width="0.12">3600</text>
<text x="647.3" y="54.2" font-size="3.1" fill="#334" text-anchor="middle" stroke="#334" stroke-width="0.12">3600</text>
<text x="264.3" y="59.9" font-size="3.1" fill="#334" text-anchor="middle" stroke="#334" stroke-width="0.12">1200</text>
<text x="278.8" y="59.9" font-size="3.1" fill="#334" text-anchor="middle" stroke="#334" stroke-width="0.12">1200</text>
<text x="289" y="59.9" font-size="3.1" fill="#334" text-anchor="middle" stroke="#334" stroke-width="0.12">1200</text>
<text x="301.3" y="59.9" font-size="3.1" fill="#334" text-anchor="middle" stroke="#334" stroke-width="0.12">1200</text>
<text x="337.4" y="59.9" font-size="3.1" fill="#334" text-anchor="middle" stroke="#334" stroke-width="0.12">1200</text>
<text x="374.4" y="59.9" font-size="3.1" fill="#334" text-anchor="middle" stroke="#334" stroke-width="0.12">1200</text>
<text x="423.4" y="59.9" font-size="3.1" fill="#334" text-anchor="middle" stroke="#334" stroke-width="0.12">1200</text>
<text x="473.1" y="59.9" font-size="3.1" fill="#334" text-anchor="middle" stroke="#334" stroke-width="0.12">1200</text>
<text x="533.2" y="59.9" font-size="3.1" fill="#334" text-anchor="middle" stroke="#334" stroke-width="0.12">1200</text>
<text x="594.4" y="59.9" font-size="3.1" fill="#334" text-anchor="middle" stroke="#334" stroke-width="0.12">1200</text>
<text x="626.3" y="59.9" font-size="3.1" fill="#334" text-anchor="middle" stroke="#334" stroke-width="0.12">1200</text>
<text x="455.3" y="42.1" font-size="3.1" fill="#334" text-anchor="middle" stroke="#334" stroke-width="0.12">21600</text>
<line x1="315.5" y1="55.5" x2="315.5" y2="95" stroke-width="1"/>
<line x1="338.5" y1="55.5" x2="338.5" y2="95" stroke-width="1"/>
<line x1="360.5" y1="55.5" x2="360.5" y2="95" stroke-width="1"/>
<line x1="393.5" y1="55.5" x2="393.5" y2="95" stroke-width="1"/>
<line x1="435.5" y1="55.5" x2="435.5" y2="95" stroke-width="1"/>
<line x1="465.5" y1="55.5" x2="465.5" y2="95" stroke-width="1"/>
<line x1="481.5" y1="55.5" x2="481.5" y2="95" stroke-width="1"/>
<line x1="505.5" y1="55.5" x2="505.5" y2="95" stroke-width="1"/>
<line x1="538.5" y1="55.5" x2="538.5" y2="95" stroke-width="1"/>
<line x1="572.5" y1="55.5" x2="572.5" y2="95" stroke-width="1"/>
<line x1="636.5" y1="55.5" x2="636.5" y2="95" stroke-width="1"/>
<line x1="277.5" y1="61.5" x2="277.5" y2="95" stroke-width="1"/>
<line x1="279.5" y1="61.5" x2="279.5" y2="95" stroke-width="1"/>
<line x1="301.2" y1="61" x2="301.2" y2="95" stroke-width="1.7"/>
<line x1="374.2" y1="61" x2="374.2" y2="95" stroke-width="1.7"/>
<line x1="474.2" y1="61" x2="474.2" y2="95" stroke-width="1.7"/>
<line x1="594.2" y1="61" x2="594.2" y2="95" stroke-width="1.7"/>
<line x1="207.6" y1="95.6" x2="209.4" y2="93.8" stroke-width="1.32"/>
<line x1="213.9" y1="95.6" x2="215.7" y2="93.8" stroke-width="1.32"/>
<line x1="219.8" y1="95.6" x2="221.6" y2="93.8" stroke-width="1.32"/>
<line x1="230.7" y1="95.6" x2="232.5" y2="93.8" stroke-width="1.32"/>
<line x1="207.6" y1="313.4" x2="209.4" y2="311.6" stroke-width="1.32"/>
<line x1="213.9" y1="313.4" x2="215.7" y2="311.6" stroke-width="1.32"/>
<line x1="219.8" y1="313.4" x2="221.6" y2="311.6" stroke-width="1.32"/>
<line x1="230.7" y1="313.4" x2="232.5" y2="311.6" stroke-width="1.32"/>
<line x1="207.6" y1="170.5" x2="209.4" y2="168.7" stroke-width="1.32"/>
<line x1="213.9" y1="170.5" x2="215.7" y2="168.7" stroke-width="1.32"/>
<line x1="207.6" y1="259.5" x2="209.4" y2="257.7" stroke-width="1.32"/>
<line x1="213.9" y1="259.5" x2="215.7" y2="257.7" stroke-width="1.32"/>
<line x1="219.8" y1="130.9" x2="221.6" y2="129.1" stroke-width="1.32"/>
<line x1="219.8" y1="149.4" x2="221.6" y2="147.6" stroke-width="1.32"/>
<line x1="219.8" y1="170.5" x2="221.6" y2="168.7" stroke-width="1.32"/>
<line x1="219.8" y1="205.2" x2="221.6" y2="203.4" stroke-width="1.32"/>
<line x1="219.8" y1="226.6" x2="221.6" y2="224.8" stroke-width="1.32"/>
<line x1="219.8" y1="259.5" x2="221.6" y2="257.7" stroke-width="1.32"/>
<line x1="219.8" y1="279.65" x2="221.6" y2="277.85" stroke-width="1.32"/>
<line x1="230.7" y1="115.9" x2="232.5" y2="114.1" stroke-width="1.32"/>
<line x1="230.7" y1="130.9" x2="232.5" y2="129.1" stroke-width="1.32"/>
<line x1="230.7" y1="149.4" x2="232.5" y2="147.6" stroke-width="1.32"/>
<line x1="230.7" y1="170.5" x2="232.5" y2="168.7" stroke-width="1.32"/>
<line x1="230.7" y1="191.2" x2="232.5" y2="189.4" stroke-width="1.32"/>
<line x1="230.7" y1="219.7" x2="232.5" y2="217.9" stroke-width="1.32"/>
<line x1="230.7" y1="279.65" x2="232.5" y2="277.85" stroke-width="1.32"/>
<text x="212" y="131.3" font-size="3.1" fill="#334" text-anchor="middle" transform="rotate(-90 212 131.3)" stroke="#334" stroke-width="0.12">7500</text>
<text x="212" y="213.7" font-size="3.1" fill="#334" text-anchor="middle" transform="rotate(-90 212 213.7)" stroke="#334" stroke-width="0.12">7500</text>
<text x="212" y="285.6" font-size="3.1" fill="#334" text-anchor="middle" transform="rotate(-90 212 285.6)" stroke="#334" stroke-width="0.12">7500</text>
<text x="218.3" y="112.3" font-size="3.1" fill="#334" text-anchor="middle" transform="rotate(-90 218.3 112.3)" stroke="#334" stroke-width="0.12">3600</text>
<text x="218.3" y="138.3" font-size="3.1" fill="#334" text-anchor="middle" transform="rotate(-90 218.3 138.3)" stroke="#334" stroke-width="0.12">3600</text>
<text x="218.3" y="157" font-size="3.1" fill="#334" text-anchor="middle" transform="rotate(-90 218.3 157)" stroke="#334" stroke-width="0.12">3600</text>
<text x="218.3" y="185.6" font-size="3.1" fill="#334" text-anchor="middle" transform="rotate(-90 218.3 185.6)" stroke="#334" stroke-width="0.12">3600</text>
<text x="218.3" y="213.7" font-size="3.1" fill="#334" text-anchor="middle" transform="rotate(-90 218.3 213.7)" stroke="#334" stroke-width="0.12">3600</text>
<text x="218.3" y="268" font-size="3.1" fill="#334" text-anchor="middle" transform="rotate(-90 218.3 268)" stroke="#334" stroke-width="0.12">3600</text>
<text x="228.5" y="104.5" font-size="3.1" fill="#334" text-anchor="middle" transform="rotate(-90 228.5 104.5)" stroke="#334" stroke-width="0.12">900</text>
<text x="228.5" y="114.4" font-size="3.1" fill="#334" text-anchor="middle" transform="rotate(-90 228.5 114.4)" stroke="#334" stroke-width="0.12">900</text>
<text x="228.5" y="151.8" font-size="3.1" fill="#334" text-anchor="middle" transform="rotate(-90 228.5 151.8)" stroke="#334" stroke-width="0.12">900</text>
<text x="228.5" y="190" font-size="3.1" fill="#334" text-anchor="middle" transform="rotate(-90 228.5 190)" stroke="#334" stroke-width="0.12">900</text>
<text x="228.5" y="204.2" font-size="3.1" fill="#334" text-anchor="middle" transform="rotate(-90 228.5 204.2)" stroke="#334" stroke-width="0.12">900</text>
<text x="228.5" y="218.6" font-size="3.1" fill="#334" text-anchor="middle" transform="rotate(-90 228.5 218.6)" stroke="#334" stroke-width="0.12">900</text>
<text x="228.5" y="248.6" font-size="3.1" fill="#334" text-anchor="middle" transform="rotate(-90 228.5 248.6)" stroke="#334" stroke-width="0.12">900</text>
<text x="228.5" y="278.6" font-size="3.1" fill="#334" text-anchor="middle" transform="rotate(-90 228.5 278.6)" stroke="#334" stroke-width="0.12">900</text>
<text x="228.5" y="295.5" font-size="3.1" fill="#334" text-anchor="middle" transform="rotate(-90 228.5 295.5)" stroke="#334" stroke-width="0.12">900</text>
<text x="205.6" y="203" font-size="3.1" fill="#334" text-anchor="middle" transform="rotate(-90 205.6 203)" stroke="#334" stroke-width="0.12">10500</text>
<line x1="231.6" y1="114.5" x2="253" y2="114.5" stroke-width="1"/>
<line x1="231.6" y1="115.5" x2="253" y2="115.5" stroke-width="1"/>
<line x1="219" y1="130.5" x2="245" y2="130.5" stroke-width="1"/>
<line x1="219" y1="148.5" x2="253" y2="148.5" stroke-width="1"/>
<line x1="219" y1="169" x2="253" y2="169" stroke-width="1.68"/>
<line x1="230.6" y1="190.3" x2="253" y2="190.3" stroke-width="1.7"/>
<line x1="219" y1="204.5" x2="243" y2="204.5" stroke-width="1"/>
<line x1="230.6" y1="218.8" x2="253" y2="218.8" stroke-width="1.7"/>
<line x1="240.4" y1="214" x2="240.4" y2="223.4" stroke-width="2"/>
<line x1="219" y1="225.5" x2="243" y2="225.5" stroke-width="1"/>
<line x1="230.6" y1="278.75" x2="253" y2="278.75" stroke-width="1.7"/>
<line x1="688.5" y1="95.6" x2="690.3" y2="93.8" stroke-width="1.32"/>
<line x1="694.7" y1="95.6" x2="696.5" y2="93.8" stroke-width="1.32"/>
<line x1="701.1" y1="95.6" x2="702.9" y2="93.8" stroke-width="1.32"/>
<line x1="706.9" y1="95.6" x2="708.7" y2="93.8" stroke-width="1.32"/>
<line x1="688.5" y1="313.4" x2="690.3" y2="311.6" stroke-width="1.32"/>
<line x1="694.7" y1="313.4" x2="696.5" y2="311.6" stroke-width="1.32"/>
<line x1="701.1" y1="313.4" x2="702.9" y2="311.6" stroke-width="1.32"/>
<line x1="706.9" y1="313.4" x2="708.7" y2="311.6" stroke-width="1.32"/>
<line x1="701.1" y1="170.5" x2="702.9" y2="168.7" stroke-width="1.32"/>
<line x1="701.1" y1="259.5" x2="702.9" y2="257.7" stroke-width="1.32"/>
<line x1="694.7" y1="121.6" x2="696.5" y2="119.8" stroke-width="1.32"/>
<line x1="694.7" y1="151.2" x2="696.5" y2="149.4" stroke-width="1.32"/>
<line x1="694.7" y1="184.9" x2="696.5" y2="183.1" stroke-width="1.32"/>
<line x1="694.7" y1="210.3" x2="696.5" y2="208.5" stroke-width="1.32"/>
<line x1="694.7" y1="243.1" x2="696.5" y2="241.3" stroke-width="1.32"/>
<line x1="694.7" y1="290.3" x2="696.5" y2="288.5" stroke-width="1.32"/>
<line x1="688.5" y1="151.2" x2="690.3" y2="149.4" stroke-width="1.32"/>
<line x1="688.5" y1="166.4" x2="690.3" y2="164.6" stroke-width="1.32"/>
<line x1="688.5" y1="184.9" x2="690.3" y2="183.1" stroke-width="1.32"/>
<line x1="688.5" y1="210.3" x2="690.3" y2="208.5" stroke-width="1.32"/>
<line x1="688.5" y1="243.1" x2="690.3" y2="241.3" stroke-width="1.32"/>
<line x1="688.5" y1="259.5" x2="690.3" y2="257.7" stroke-width="1.32"/>
<line x1="688.5" y1="290.3" x2="690.3" y2="288.5" stroke-width="1.32"/>
<line x1="659.6" y1="120.5" x2="696.5" y2="120.5" stroke-width="1"/>
<line x1="669.7" y1="150.5" x2="696.5" y2="150.5" stroke-width="1"/>
<line x1="668.8" y1="209.5" x2="697" y2="209.5" stroke-width="1"/>
<line x1="659.6" y1="242.5" x2="697" y2="242.5" stroke-width="1"/>
<line x1="659.6" y1="289.5" x2="696.5" y2="289.5" stroke-width="1"/>
<text x="693.6" y="108" font-size="3.1" fill="#334" text-anchor="middle" transform="rotate(-90 693.6 108)" stroke="#334" stroke-width="0.12">1200</text>
<text x="693.6" y="135.5" font-size="3.1" fill="#334" text-anchor="middle" transform="rotate(-90 693.6 135.5)" stroke="#334" stroke-width="0.12">1200</text>
<text x="693.6" y="179.3" font-size="3.1" fill="#334" text-anchor="middle" transform="rotate(-90 693.6 179.3)" stroke="#334" stroke-width="0.12">1200</text>
<text x="693.6" y="225.4" font-size="3.1" fill="#334" text-anchor="middle" transform="rotate(-90 693.6 225.4)" stroke="#334" stroke-width="0.12">1200</text>
<text x="693.6" y="265.5" font-size="3.1" fill="#334" text-anchor="middle" transform="rotate(-90 693.6 265.5)" stroke="#334" stroke-width="0.12">1200</text>
<text x="693.6" y="300.4" font-size="3.1" fill="#334" text-anchor="middle" transform="rotate(-90 693.6 300.4)" stroke="#334" stroke-width="0.12">1200</text>
<text x="699.7" y="131.3" font-size="3.1" fill="#334" text-anchor="middle" transform="rotate(-90 699.7 131.3)" stroke="#334" stroke-width="0.12">3600</text>
<text x="699.7" y="213.7" font-size="3.1" fill="#334" text-anchor="middle" transform="rotate(-90 699.7 213.7)" stroke="#334" stroke-width="0.12">3600</text>
<text x="699.7" y="285.6" font-size="3.1" fill="#334" text-anchor="middle" transform="rotate(-90 699.7 285.6)" stroke="#334" stroke-width="0.12">3600</text>
<text x="687.3" y="128.1" font-size="3.1" fill="#334" text-anchor="middle" transform="rotate(-90 687.3 128.1)" stroke="#334" stroke-width="0.12">900</text>
<text x="687.3" y="172.5" font-size="3.1" fill="#334" text-anchor="middle" transform="rotate(-90 687.3 172.5)" stroke="#334" stroke-width="0.12">900</text>
<text x="687.3" y="248.6" font-size="3.1" fill="#334" text-anchor="middle" transform="rotate(-90 687.3 248.6)" stroke="#334" stroke-width="0.12">900</text>
<text x="705.2" y="202.5" font-size="3.1" fill="#334" text-anchor="middle" transform="rotate(-90 705.2 202.5)" stroke="#334" stroke-width="0.12">10500</text>
<line x1="298.5" y1="313" x2="298.5" y2="385.3" stroke-width="1"/>
<line x1="297.6" y1="385.4" x2="299.4" y2="383.6" stroke-width="1.32"/>
<line x1="317.5" y1="313" x2="317.5" y2="385.3" stroke-width="1"/>
<line x1="316.9" y1="385.4" x2="318.7" y2="383.6" stroke-width="1.32"/>
<line x1="342.5" y1="313" x2="342.5" y2="385.3" stroke-width="1"/>
<line x1="341.6" y1="385.4" x2="343.4" y2="383.6" stroke-width="1.32"/>
<line x1="388.5" y1="330" x2="388.5" y2="385.3" stroke-width="1"/>
<line x1="387.5" y1="385.4" x2="389.3" y2="383.6" stroke-width="1.32"/>
<line x1="405.5" y1="330" x2="405.5" y2="385.3" stroke-width="1"/>
<line x1="404.4" y1="385.4" x2="406.2" y2="383.6" stroke-width="1.32"/>
<line x1="431.5" y1="330" x2="431.5" y2="385.3" stroke-width="1"/>
<line x1="430.7" y1="385.4" x2="432.5" y2="383.6" stroke-width="1.32"/>
<line x1="448.5" y1="330" x2="448.5" y2="385.3" stroke-width="1"/>
<line x1="447.5" y1="385.4" x2="449.3" y2="383.6" stroke-width="1.32"/>
<line x1="509.5" y1="313" x2="509.5" y2="385.3" stroke-width="1"/>
<line x1="508.8" y1="385.4" x2="510.6" y2="383.6" stroke-width="1.32"/>
<line x1="539.5" y1="313" x2="539.5" y2="385.3" stroke-width="1"/>
<line x1="538.8" y1="385.4" x2="540.6" y2="383.6" stroke-width="1.32"/>
<line x1="575.5" y1="313" x2="575.5" y2="385.3" stroke-width="1"/>
<line x1="574.4" y1="385.4" x2="576.2" y2="383.6" stroke-width="1.32"/>
<line x1="633.5" y1="313" x2="633.5" y2="385.3" stroke-width="1"/>
<line x1="632.8" y1="385.4" x2="634.6" y2="383.6" stroke-width="1.32"/>
<line x1="405.5" y1="340" x2="405.5" y2="385" stroke-width="1"/>
<line x1="431.5" y1="340" x2="431.5" y2="385" stroke-width="1"/>
<line x1="463.5" y1="329.4" x2="463.5" y2="391" stroke-width="1"/>
<line x1="484.2" y1="313" x2="484.2" y2="379" stroke-width="1.7"/>
<line x1="503.6" y1="313" x2="503.6" y2="379" stroke-width="1.7"/>
<line x1="614" y1="313" x2="614" y2="379" stroke-width="1.7"/>
<line x1="251.7" y1="385.4" x2="253.5" y2="383.6" stroke-width="1.32"/>
<line x1="251.7" y1="391.3" x2="253.5" y2="389.5" stroke-width="1.32"/>
<line x1="251.7" y1="397.2" x2="253.5" y2="395.4" stroke-width="1.32"/>
<line x1="658.7" y1="385.4" x2="660.5" y2="383.6" stroke-width="1.32"/>
<line x1="658.7" y1="391.3" x2="660.5" y2="389.5" stroke-width="1.32"/>
<line x1="658.7" y1="397.2" x2="660.5" y2="395.4" stroke-width="1.32"/>
<line x1="658.7" y1="379.3" x2="660.5" y2="377.5" stroke-width="1.32"/>
<line x1="462.5" y1="379.3" x2="464.3" y2="377.5" stroke-width="1.32"/>
<line x1="332.1" y1="391.3" x2="333.9" y2="389.5" stroke-width="1.32"/>
<line x1="372.4" y1="391.3" x2="374.2" y2="389.5" stroke-width="1.32"/>
<line x1="462.5" y1="391.3" x2="464.3" y2="389.5" stroke-width="1.32"/>
<line x1="542.6" y1="391.3" x2="544.4" y2="389.5" stroke-width="1.32"/>
<line x1="590.9" y1="391.3" x2="592.7" y2="389.5" stroke-width="1.32"/>
<text x="275.6" y="380.6" font-size="3.1" fill="#334" text-anchor="middle" stroke="#334" stroke-width="0.12">4500</text>
<text x="306.9" y="380.6" font-size="3.1" fill="#334" text-anchor="middle" stroke="#334" stroke-width="0.12">1800</text>
<text x="329.4" y="380.6" font-size="3.1" fill="#334" text-anchor="middle" stroke="#334" stroke-width="0.12">1500</text>
<text x="358.4" y="380.6" font-size="3.1" fill="#334" text-anchor="middle" stroke="#334" stroke-width="0.12">3000</text>
<text x="381" y="380.6" font-size="3.1" fill="#334" text-anchor="middle" stroke="#334" stroke-width="0.12">1500</text>
<text x="397.8" y="380.6" font-size="3.1" fill="#334" text-anchor="middle" stroke="#334" stroke-width="0.12">1700</text>
<text x="418.4" y="380.6" font-size="3.1" fill="#334" text-anchor="middle" stroke="#334" stroke-width="0.12">2600</text>
<text x="439.4" y="380.6" font-size="3.1" fill="#334" text-anchor="middle" stroke="#334" stroke-width="0.12">1700</text>
<text x="455.3" y="380.6" font-size="3.1" fill="#334" text-anchor="middle" stroke="#334" stroke-width="0.12">1500</text>
<text x="487.2" y="380.6" font-size="3.1" fill="#334" text-anchor="middle" stroke="#334" stroke-width="0.12">1900</text>
<text x="525.5" y="380.6" font-size="3.1" fill="#334" text-anchor="middle" stroke="#334" stroke-width="0.12">3000</text>
<text x="556.3" y="380.6" font-size="3.1" fill="#334" text-anchor="middle" stroke="#334" stroke-width="0.12">3300</text>
<text x="603.2" y="380.6" font-size="3.1" fill="#334" text-anchor="middle" stroke="#334" stroke-width="0.12">2200</text>
<text x="646" y="380.6" font-size="3.1" fill="#334" text-anchor="middle" stroke="#334" stroke-width="0.12">2600</text>
<text x="291.9" y="386.8" font-size="3.1" fill="#334" text-anchor="middle" stroke="#334" stroke-width="0.12">8000</text>
<text x="353.8" y="386.8" font-size="3.1" fill="#334" text-anchor="middle" stroke="#334" stroke-width="0.12">4000</text>
<text x="418.4" y="386.8" font-size="3.1" fill="#334" text-anchor="middle" stroke="#334" stroke-width="0.12">9000</text>
<text x="503.1" y="386.8" font-size="3.1" fill="#334" text-anchor="middle" stroke="#334" stroke-width="0.12">8000</text>
<text x="567.2" y="386.8" font-size="3.1" fill="#334" text-anchor="middle" stroke="#334" stroke-width="0.12">4800</text>
<text x="625.3" y="386.8" font-size="3.1" fill="#334" text-anchor="middle" stroke="#334" stroke-width="0.12">6800</text>
<text x="455.9" y="392.8" font-size="3.1" fill="#334" text-anchor="middle" stroke="#334" stroke-width="0.12">21600</text>
<text x="473.1" y="374.8" font-size="3.1" fill="#334" text-anchor="middle" stroke="#334" stroke-width="0.12">900</text>
<text x="493.8" y="374.8" font-size="3.1" fill="#334" text-anchor="middle" stroke="#334" stroke-width="0.12">1000</text>
<text x="558.8" y="374.8" font-size="3.1" fill="#334" text-anchor="middle" stroke="#334" stroke-width="0.12">11000</text>
<text x="613.5" y="374.8" font-size="3.1" fill="#334" text-anchor="middle" stroke="#334" stroke-width="0.12">150</text>
<text x="637" y="374.8" font-size="3.1" fill="#334" text-anchor="middle" stroke="#334" stroke-width="0.12">900</text>
<path d="M477.5 364 Q482.8 365 483.8 377" fill="none" stroke-width="0.84"/>
<path d="M508.6 364.6 L503.6 377" fill="none" stroke-width="0.84"/>
<text x="474" y="364.6" font-size="3.1" fill="#334" text-anchor="middle" stroke="#334" stroke-width="0.12">150</text>
<text x="511" y="364.6" font-size="3.1" fill="#334" text-anchor="middle" stroke="#334" stroke-width="0.12">150</text>
<path d="M429.3 21.3 L441.2 21.3 L441.2 32 L435.2 38.3 L429.3 32 Z" fill="#fff" stroke-width="0.96"/>
<line x1="429.3" y1="32.5" x2="441.2" y2="32.5" stroke-width="1"/>
<text x="435.2" y="28" font-size="2.3" fill="#334" text-anchor="middle" font-weight="bold" stroke="#334" stroke-width="0.22">1a</text>
<path d="M446.6 426.6 L458.8 426.6 L458.8 414.4 L452.6 408.4 L446.6 414.4 Z" fill="#fff" stroke-width="0.96"/>
<line x1="446.6" y1="414.5" x2="458.8" y2="414.5" stroke-width="1"/>
<text x="452.6" y="421.5" font-size="2.3" fill="#334" text-anchor="middle" font-weight="bold" stroke="#334" stroke-width="0.22">1c</text>
<path d="M188.4 186 L202 186 L206.3 191.6 L202 197.2 L188.4 197.2 Z" fill="#fff" stroke-width="0.96"/>
<line x1="202.5" y1="186" x2="202.5" y2="197.2" stroke-width="1"/>
<text x="195" y="192.4" font-size="2.3" fill="#334" text-anchor="middle" font-weight="bold" stroke="#334" stroke-width="0.22">1d</text>
<path d="M726.5 190.3 L714.7 190.3 L708.1 196.3 L714.7 202.3 L726.5 202.3 Z" fill="#fff" stroke-width="0.96"/>
<line x1="714.5" y1="190.3" x2="714.5" y2="202.3" stroke-width="1"/>
<text x="720.6" y="197.1" font-size="2.3" fill="#334" text-anchor="middle" font-weight="bold" stroke="#334" stroke-width="0.22">1b</text>
<circle cx="266.3" cy="431.3" r="3.2" fill="#fff" stroke-width="0.96"/>
<line x1="269.2" y1="431.5" x2="717" y2="431.5" stroke-width="1"/>
<text x="270.5" y="430.7" font-size="3.3" fill="#000" font-weight="bold" stroke="#000" stroke-width="0.22">Floor Plan</text>
<text x="270.5" y="435.1" font-size="2.7" fill="#222" font-weight="bold" stroke="#222" stroke-width="0.22">1 : 100</text>
<text x="266.3" y="432.2" font-size="2.4" fill="#222" text-anchor="middle" stroke="#222" stroke-width="0.22">1</text>
<line x1="252.6" y1="95" x2="659.6" y2="95" stroke-width="1.38"/>
<line x1="252.6" y1="312.5" x2="373.8" y2="312.5" stroke-width="1.32"/>
<line x1="463.4" y1="312.5" x2="659.6" y2="312.5" stroke-width="1.32"/>
<line x1="252.5" y1="94.7" x2="252.5" y2="312.5" stroke-width="1"/>
<line x1="659.6" y1="94.7" x2="659.6" y2="312.5" stroke-width="1.32"/>
<line x1="373.5" y1="312.5" x2="373.5" y2="329.4" stroke-width="1"/>
<line x1="373.8" y1="329.5" x2="403" y2="329.5" stroke-width="1"/>
<line x1="433.5" y1="329.5" x2="463.6" y2="329.5" stroke-width="1"/>
<path d="M403.1 329.5 L403.1 339.8 L409.7 339.8" fill="none" stroke-width="1.9"/>
<path d="M427.1 339.8 L433.9 339.8 L433.9 329.5" fill="none" stroke-width="1.9"/>
<line x1="409.7" y1="339.5" x2="427.1" y2="339.5" stroke-width="1"/>
<rect x="409.5" y="339.5" width="18" height="9" fill="none" stroke-width="1"/>
<path d="M419.2 340.8 L414.4 348 M420.4 343.6 L422.6 347.6" fill="none" stroke-width="0.96"/>
<ellipse cx="418.8" cy="349.8" rx="4.3" ry="2.4" fill="#fff" stroke-width="1.08"/>
<text x="418.8" y="350.7" font-size="2.7" fill="#222" text-anchor="middle" stroke="#222" stroke-width="0.1">109C</text>
<rect x="402.5" y="352.5" width="3" height="2" fill="#000" stroke-width="1"/>
<rect x="431.5" y="352.5" width="3" height="2" fill="#000" stroke-width="1"/>
<path d="M402.5 352.4 L401.3 353.3 L402.5 354.2 Z" fill="#000" stroke-width="0.48"/>
<rect x="411.5" y="356.5" width="9" height="3" fill="#000" stroke-width="1"/>
<rect x="329.5" y="96.5" width="17" height="3" fill="#fff" stroke-width="1"/>
<rect x="351.5" y="96.5" width="18" height="3" fill="#fff" stroke-width="1"/>
<rect x="384.5" y="96.5" width="18" height="3" fill="#fff" stroke-width="1"/>
<rect x="427.5" y="96.5" width="17" height="3" fill="#fff" stroke-width="1"/>
<rect x="496.5" y="96.5" width="18" height="3" fill="#fff" stroke-width="1"/>
<rect x="529.5" y="96.5" width="18" height="3" fill="#fff" stroke-width="1"/>
<rect x="563.5" y="96.5" width="17" height="3" fill="#fff" stroke-width="1"/>
<rect x="627.5" y="96.5" width="18" height="3" fill="#fff" stroke-width="1"/>
<circle cx="334.2" cy="91" r="2.6" fill="#fff" stroke-width="1.08"/>
<text x="334.2" y="91.8" font-size="2.4" fill="#333" text-anchor="middle" stroke="none">a</text>
<circle cx="357" cy="91" r="2.6" fill="#fff" stroke-width="1.08"/>
<text x="357" y="91.8" font-size="2.4" fill="#333" text-anchor="middle" stroke="none">a</text>
<circle cx="389.7" cy="91" r="2.6" fill="#fff" stroke-width="1.08"/>
<text x="389.7" y="91.8" font-size="2.4" fill="#333" text-anchor="middle" stroke="none">a</text>
<circle cx="432" cy="91" r="2.6" fill="#fff" stroke-width="1.08"/>
<text x="432" y="91.8" font-size="2.4" fill="#333" text-anchor="middle" stroke="none">a</text>
<circle cx="508.8" cy="91" r="2.6" fill="#fff" stroke-width="1.08"/>
<text x="508.8" y="91.8" font-size="2.4" fill="#333" text-anchor="middle" stroke="none">a</text>
<circle cx="541.5" cy="91" r="2.6" fill="#fff" stroke-width="1.08"/>
<text x="541.5" y="91.8" font-size="2.4" fill="#333" text-anchor="middle" stroke="none">a</text>
<circle cx="576" cy="91" r="2.6" fill="#fff" stroke-width="1.08"/>
<text x="576" y="91.8" font-size="2.4" fill="#333" text-anchor="middle" stroke="none">a</text>
<circle cx="632.2" cy="91" r="2.6" fill="#fff" stroke-width="1.08"/>
<text x="632.2" y="91.8" font-size="2.4" fill="#333" text-anchor="middle" stroke="none">a</text>
<rect x="289.5" y="308.5" width="18" height="3" fill="#fff" stroke-width="1"/>
<rect x="334.5" y="308.5" width="17" height="3" fill="#fff" stroke-width="1"/>
<rect x="530.5" y="308.5" width="17" height="3" fill="#fff" stroke-width="1"/>
<rect x="566.5" y="308.5" width="17" height="3" fill="#fff" stroke-width="1"/>
<rect x="624.5" y="308.5" width="18" height="3" fill="#fff" stroke-width="1"/>
<circle cx="293.8" cy="317.4" r="2.6" fill="#fff" stroke-width="1.08"/>
<text x="293.8" y="318.2" font-size="2.4" fill="#333" text-anchor="middle" stroke="none">a</text>
<circle cx="347.2" cy="317.4" r="2.6" fill="#fff" stroke-width="1.08"/>
<text x="347.2" y="318.2" font-size="2.4" fill="#333" text-anchor="middle" stroke="none">a</text>
<circle cx="535" cy="318.2" r="2.6" fill="#fff" stroke-width="1.08"/>
<text x="535" y="319" font-size="2.4" fill="#333" text-anchor="middle" stroke="none">a</text>
<circle cx="571.6" cy="318.2" r="2.6" fill="#fff" stroke-width="1.08"/>
<text x="571.6" y="319" font-size="2.4" fill="#333" text-anchor="middle" stroke="none">a</text>
<circle cx="628.8" cy="318.2" r="2.6" fill="#fff" stroke-width="1.08"/>
<text x="628.8" y="319" font-size="2.4" fill="#333" text-anchor="middle" stroke="none">a</text>
<rect x="380.5" y="325.5" width="17" height="4" fill="#fff" stroke-width="1"/>
<rect x="440.5" y="325.5" width="17" height="4" fill="#fff" stroke-width="1"/>
<circle cx="386.3" cy="335" r="2.6" fill="#fff" stroke-width="1.08"/>
<text x="386.3" y="335.8" font-size="2.4" fill="#333" text-anchor="middle" stroke="none">a</text>
<circle cx="453.2" cy="335" r="2.6" fill="#fff" stroke-width="1.08"/>
<text x="453.2" y="335.8" font-size="2.4" fill="#333" text-anchor="middle" stroke="none">a</text>
<rect x="254.5" y="139.5" width="3" height="17" fill="#fff" stroke-width="1"/>
<rect x="254.5" y="160.5" width="3" height="16" fill="#fff" stroke-width="1"/>
<circle cx="248.2" cy="151.5" r="2.6" fill="#fff" stroke-width="1.08"/>
<text x="248.2" y="152.3" font-size="2.4" fill="#333" text-anchor="middle" stroke="none">a</text>
<circle cx="248.2" cy="172.5" r="2.6" fill="#fff" stroke-width="1.08"/>
<text x="248.2" y="173.3" font-size="2.4" fill="#333" text-anchor="middle" stroke="none">a</text>
<rect x="654.5" y="113.5" width="4" height="16" fill="#fff" stroke-width="1"/>
<rect x="654.5" y="234.5" width="4" height="17" fill="#fff" stroke-width="1"/>
<rect x="654.5" y="280.5" width="4" height="17" fill="#fff" stroke-width="1"/>
<circle cx="664.2" cy="125.4" r="2.6" fill="#fff" stroke-width="1.08"/>
<text x="664.2" y="126.2" font-size="2.4" fill="#333" text-anchor="middle" stroke="none">a</text>
<circle cx="664.2" cy="246.9" r="2.6" fill="#fff" stroke-width="1.08"/>
<text x="664.2" y="247.7" font-size="2.4" fill="#333" text-anchor="middle" stroke="none">a</text>
<circle cx="664.2" cy="293.4" r="2.6" fill="#fff" stroke-width="1.08"/>
<text x="664.2" y="294.2" font-size="2.4" fill="#333" text-anchor="middle" stroke="none">a</text>
<line x1="267" y1="115" x2="301.2" y2="115" stroke-width="2.2"/>
<line x1="278.5" y1="95" x2="278.5" y2="115" stroke-width="1"/>
<line x1="279.5" y1="95" x2="279.5" y2="115" stroke-width="1"/>
<line x1="301.2" y1="95" x2="301.2" y2="136" stroke-width="1.9"/>
<line x1="301.2" y1="136" x2="333.3" y2="169.6" stroke-width="1.5"/>
<rect x="321.5" y="157.5" width="1" height="1" fill="#000" stroke-width="1"/>
<text x="263.5" y="79.6" font-size="3" fill="#222" text-anchor="middle" font-weight="bold" stroke="#222" stroke-width="0.22">Toilet</text>
<rect x="254.5" y="82.5" width="18" height="6" fill="#fff" stroke-width="1"/>
<text x="263.5" y="86.5" font-size="2.7" fill="#222" text-anchor="middle" font-weight="bold" stroke="#222" stroke-width="0.22">110</text>
<text x="289.5" y="80.8" font-size="3" fill="#222" text-anchor="middle" font-weight="bold" stroke="#222" stroke-width="0.22">Toilet</text>
<rect x="280.5" y="83.5" width="18" height="6" fill="#fff" stroke-width="1"/>
<text x="289.5" y="87.8" font-size="2.7" fill="#222" text-anchor="middle" font-weight="bold" stroke="#222" stroke-width="0.22">111</text>
<line x1="263.5" y1="88.4" x2="267" y2="102" stroke-width="0.84"/>
<line x1="289.5" y1="89.5" x2="289.5" y2="102" stroke-width="1"/>
<circle cx="262.4" cy="105.6" r="5" stroke-width="0.9" stroke-dasharray="1.8 1.1"/>
<circle cx="292.3" cy="105.6" r="5" stroke-width="0.9" stroke-dasharray="1.8 1.1"/>
<circle cx="262.4" cy="105.6" r="2.4" fill="none" stroke-width="0.84"/>
<circle cx="292.3" cy="105.6" r="2.4" fill="none" stroke-width="0.84"/>
<text x="262.4" y="106.4" font-size="2" fill="#333" text-anchor="middle" font-weight="bold" stroke="#333" stroke-width="0.22">1a</text>
<text x="292.3" y="106.4" font-size="2" fill="#333" text-anchor="middle" font-weight="bold" stroke="#333" stroke-width="0.22">1a</text>
<ellipse cx="272.6" cy="104.2" rx="1.9" ry="2.7" fill="#fff" stroke-width="1.08"/>
<ellipse cx="284.4" cy="103.6" rx="1.9" ry="2.7" fill="#fff" stroke-width="1.08"/>
<rect x="270.5" y="102.5" width="1" height="3" fill="#000" stroke-width="1"/>
<rect x="285.5" y="102.5" width="1" height="3" fill="#000" stroke-width="1"/>
<path d="M269.2 106.2 L272.6 109.8 L269.2 113.4 L265.8 109.8 Z" fill="none" stroke-width="0.96"/>
<line x1="261.3" y1="113.2" x2="277.1" y2="99.7" stroke-width="1.08"/>
<line x1="287.2" y1="113.2" x2="303" y2="102.5" stroke-width="1.08"/>
<circle cx="260.5" cy="111.8" r="0.45" fill="#0a0" stroke-width="0.36" stroke="#0a0"/>
<circle cx="288.5" cy="111.8" r="0.45" fill="#0a0" stroke-width="0.36" stroke="#0a0"/>
<line x1="300.8" y1="100.9" x2="310.4" y2="100.9" stroke-width="1.8"/>
<ellipse cx="304.6" cy="105.2" rx="4.6" ry="2.5" fill="#fff" stroke-width="1.08"/>
<text x="304.6" y="106" font-size="2.6" fill="#222" text-anchor="middle" stroke="#222" stroke-width="0.1">110</text>
<path d="M310.4 100.9 Q310 107.5 302 109.4" fill="none" stroke-width="0.96"/>
<path d="M257.9 113.2 L257.9 124.5 M257.9 124.5 Q266.5 123 267 115.4" fill="none" stroke-width="1.08"/>
<line x1="257.9" y1="113.2" x2="257.9" y2="124.5" stroke-width="1.56"/>
<ellipse cx="255.4" cy="129" rx="4.3" ry="2.4" fill="#fff" stroke-width="1.08"/>
<text x="255.4" y="129.9" font-size="2.7" fill="#222" text-anchor="middle" stroke="#222" stroke-width="0.1">100A</text>
<path d="M245 125.5 L258 125.5 M246 125.5 Q247 133.5 257 133.6" fill="none" stroke-width="1.08"/>
<path d="M311.5 95 L311.5 87.3 Q318.5 88.4 319.4 94.4" fill="none" stroke-width="1.08"/>
<ellipse cx="316" cy="96.9" rx="4.3" ry="2.4" fill="#fff" stroke-width="1.08"/>
<text x="316" y="97.8" font-size="2.7" fill="#222" text-anchor="middle" stroke="#222" stroke-width="0.1">101</text>
<line x1="314.5" y1="100.3" x2="314.5" y2="137.5" stroke-width="1"/>
<line x1="313.4" y1="101.8" x2="315.2" y2="100" stroke-width="1.32"/>
<line x1="313.4" y1="137.4" x2="315.2" y2="135.6" stroke-width="1.32"/>
<line x1="306" y1="136.5" x2="315.5" y2="136.5" stroke-width="1"/>
<text x="310.7" y="116" font-size="3.1" fill="#334" text-anchor="middle" transform="rotate(-90 310.7 116)" stroke="#334" stroke-width="0.12">2700</text>
<path d="M286.45 127.42 L291.3 123.4 L286.45 119.38 Z" fill="#000" stroke-width="0.72"/>
<circle cx="282.7" cy="123.4" r="5.5" fill="#fff" stroke-width="1.08"/>
<text x="282.7" y="124.2" font-size="2.2" fill="#333" text-anchor="middle" font-weight="bold" stroke="#333" stroke-width="0.22">1a</text>
<path d="M323.05 119.38 L318.2 123.4 L323.05 127.42 Z" fill="#000" stroke-width="0.72"/>
<circle cx="326.8" cy="123.4" r="5.5" fill="#fff" stroke-width="1.08"/>
<text x="326.8" y="124.2" font-size="2.2" fill="#333" text-anchor="middle" font-weight="bold" stroke="#333" stroke-width="0.22">1a</text>
<text x="291.8" y="122.6" font-size="3.1" fill="#334" text-anchor="middle" stroke="#334" stroke-width="0.12">A5</text>
<text x="315.5" y="122" font-size="3.1" fill="#334" text-anchor="middle" transform="rotate(-90 315.5 122)" stroke="#334" stroke-width="0.12">1b</text>
<ellipse cx="301.4" cy="123.4" rx="5.6" ry="3.7" fill="#fff" stroke-width="1.56"/>
<circle cx="299.4" cy="123.4" r="2.3" fill="none" stroke-width="1.56"/>
<circle cx="303.4" cy="123.4" r="2.3" fill="none" stroke-width="1.56"/>
<rect x="300.5" y="121.5" width="2" height="4" fill="#000" stroke-width="1"/>
<text x="279.2" y="143.6" font-size="4" fill="#111" text-anchor="middle" stroke="#111" stroke-width="0.2">Classroom</text>
<rect x="272.5" y="146.5" width="18" height="6" fill="#fff" stroke-width="1"/>
<text x="281.6" y="150.5" font-size="3.6" fill="#111" text-anchor="middle" stroke="#111" stroke-width="0.18">100</text>
<text x="280.1" y="157" font-size="3.3" fill="#111" text-anchor="middle" stroke="#111" stroke-width="0.2">60 m²</text>
<ellipse cx="311.2" cy="156.6" rx="4.3" ry="2.4" fill="#fff" stroke-width="1.08"/>
<text x="311.2" y="157.5" font-size="2.7" fill="#222" text-anchor="middle" stroke="#222" stroke-width="0.1">100B</text>
<ellipse cx="321.3" cy="174.3" rx="4.3" ry="2.4" fill="#fff" stroke-width="1.08"/>
<text x="321.3" y="175.2" font-size="2.7" fill="#222" text-anchor="middle" stroke="#222" stroke-width="0.1">102A</text>
<path d="M272.58 174.55 L276.6 179.4 L280.62 174.55 Z" fill="#000" stroke-width="0.72"/>
<circle cx="276.6" cy="170.8" r="5.5" fill="#fff" stroke-width="1.08"/>
<text x="276.6" y="171.6" font-size="2.2" fill="#333" text-anchor="middle" font-weight="bold" stroke="#333" stroke-width="0.22">1a</text>
<path d="M304.38 178.35 L308.4 183.2 L312.42 178.35 Z" fill="#000" stroke-width="0.72"/>
<circle cx="308.4" cy="174.6" r="5.5" fill="#fff" stroke-width="1.08"/>
<text x="308.4" y="175.4" font-size="2.2" fill="#333" text-anchor="middle" font-weight="bold" stroke="#333" stroke-width="0.22">1a</text>
<text x="295" y="175.6" font-size="3.1" fill="#334" text-anchor="middle" stroke="#334" stroke-width="0.12">1500</text>
<line x1="254" y1="180.5" x2="333" y2="180.5" stroke-width="1"/>
<path d="M254.2 180.5 L257 179.3 L257 181.7 Z" fill="#000" stroke-width="0.48"/>
<rect x="257.5" y="184.5" width="35" height="6" fill="none" stroke-width="1"/>
<line x1="266.5" y1="184.6" x2="266.5" y2="190.5" stroke-width="1"/>
<line x1="284.5" y1="184.6" x2="284.5" y2="190.5" stroke-width="1"/>
<line x1="267" y1="187.5" x2="274" y2="187.5" stroke-width="1"/>
<rect x="276.5" y="186.5" width="5" height="2" fill="#000" stroke-width="1"/>
<line x1="286" y1="187.5" x2="291" y2="187.5" stroke-width="1"/>
<line x1="257.3" y1="190.6" x2="340" y2="190.6" stroke-width="1.7"/>
<line x1="296.5" y1="187.5" x2="334" y2="187.5" stroke-width="1" stroke-dasharray="1.2 0.8"/>
<line x1="296.5" y1="187" x2="296.5" y2="190.6" stroke-width="1"/>
<text x="312" y="186.2" font-size="2.8" fill="#222" text-anchor="middle" stroke="#222" stroke-width="0.1">Millwork - TYP.</text>
<text x="299.7" y="200.2" font-size="4" fill="#111" text-anchor="middle" stroke="#111" stroke-width="0.2">Kitchen</text>
<rect x="291.5" y="203.5" width="18" height="5" fill="#fff" stroke-width="1"/>
<text x="300.7" y="207.1" font-size="3.6" fill="#111" text-anchor="middle" stroke="#111" stroke-width="0.18">103</text>
<ellipse cx="254.6" cy="203.8" rx="4.3" ry="2.4" fill="#fff" stroke-width="1.08"/>
<text x="254.6" y="204.7" font-size="2.7" fill="#222" text-anchor="middle" stroke="#222" stroke-width="0.1">103A</text>
<path d="M245 200.2 L258 200.2 M246.5 200.2 Q248 208.5 257 208.8" fill="none" stroke-width="0.96"/>
<ellipse cx="254.6" cy="225.2" rx="4.3" ry="2.4" fill="#fff" stroke-width="1.08"/>
<text x="254.6" y="226.1" font-size="2.7" fill="#222" text-anchor="middle" stroke="#222" stroke-width="0.1">105A</text>
<path d="M245 221.5 L258 221.5 M246.5 221.5 Q248 229.8 257 230" fill="none" stroke-width="0.96"/>
<line x1="252.6" y1="215.5" x2="374" y2="215.5" stroke-width="1"/>
<line x1="257.3" y1="218.8" x2="374" y2="218.8" stroke-width="1.7"/>
<rect x="303.5" y="220.5" width="16" height="5" fill="#000" stroke-width="1"/>
<rect x="306.5" y="221.5" width="3" height="2" fill="#fff" stroke-width="1" stroke="none"/>
<rect x="312.5" y="221.5" width="6" height="2" fill="#fff" stroke-width="1" stroke="none"/>
<text x="317.5" y="226.6" font-size="2.6" fill="#222" text-anchor="middle" stroke="#222" stroke-width="0.1">102B</text>
<text x="289" y="230.2" font-size="4" fill="#111" text-anchor="middle" stroke="#111" stroke-width="0.2">Classroom</text>
<rect x="282.5" y="233.5" width="18" height="5" fill="#fff" stroke-width="1"/>
<text x="291.4" y="237.1" font-size="3.6" fill="#111" text-anchor="middle" stroke="#111" stroke-width="0.18">105</text>
<text x="289.9" y="243.6" font-size="3.3" fill="#111" text-anchor="middle" stroke="#111" stroke-width="0.2">22 m²</text>
<circle cx="267.65" cy="236.4" r="6.3" fill="none" stroke-width="1.2" stroke="#1b1bff"/>
<line x1="261.3" y1="236.5" x2="274" y2="236.5" stroke-width="1" stroke="#1b1bff"/>
<text x="266" y="234.6" font-size="2.6" fill="#8a6cff" text-anchor="middle" stroke="none">A4</text>
<text x="266" y="239.4" font-size="2.6" fill="#8a6cff" text-anchor="middle" stroke="none">A4</text>
<line x1="267.5" y1="242.7" x2="267.5" y2="247.5" stroke-width="1"/>
<rect x="266.5" y="247.5" width="3" height="9" fill="#000" stroke-width="1"/>
<line x1="257.4" y1="248.5" x2="311" y2="248.5" stroke-width="1"/>
<line x1="257.4" y1="250.5" x2="311" y2="250.5" stroke-width="1"/>
<path d="M310.5 248.8 L310.5 257.5 M311 250 L316 244" fill="none" stroke-width="1.08"/>
<text x="318.5" y="245.5" font-size="2.8" fill="#222" stroke="#222" stroke-width="0.1">Storage</text>
<text x="318.5" y="247.9" font-size="2.8" fill="#222" stroke="#222" stroke-width="0.1">Shelf</text>
<path d="M320.62 232.85 L316.6 228 L312.58 232.85 Z" fill="#000" stroke-width="0.72"/>
<circle cx="316.6" cy="236.6" r="5.5" fill="#fff" stroke-width="1.08"/>
<text x="316.6" y="237.4" font-size="2.2" fill="#333" text-anchor="middle" font-weight="bold" stroke="#333" stroke-width="0.22">1a</text>
<text x="283.4" y="263.2" font-size="2.9" fill="#222" text-anchor="middle" stroke="#222" stroke-width="0.1">Millwork</text>
<text x="283.4" y="266" font-size="2.9" fill="#222" text-anchor="middle" stroke="#222" stroke-width="0.1">11 - 36A</text>
<text x="283.4" y="292.4" font-size="2.9" fill="#222" text-anchor="middle" stroke="#222" stroke-width="0.1">Millwork</text>
<text x="283.4" y="295.2" font-size="2.9" fill="#222" text-anchor="middle" stroke="#222" stroke-width="0.1">11 - 36A</text>
<line x1="252.6" y1="278.75" x2="310" y2="278.75" stroke-width="1.7"/>
<line x1="310" y1="265.6" x2="310" y2="287" stroke-width="1.9"/>
<line x1="310" y1="296.6" x2="310" y2="307.8" stroke-width="1.9"/>
<rect x="310.5" y="266.5" width="27" height="6" fill="none" stroke-width="1"/>
<rect x="319.5" y="266.5" width="18" height="3" fill="#000" stroke-width="1"/>
<line x1="319.5" y1="266.5" x2="319.5" y2="272.8" stroke-width="1"/>
<line x1="328.5" y1="269.6" x2="328.5" y2="272.8" stroke-width="1"/>
<line x1="333.5" y1="269.6" x2="333.5" y2="272.8" stroke-width="1"/>
<path d="M310.8 300.8 L313.5 298.8 L319 298.8" fill="none" stroke-width="0.84"/>
<text x="319.6" y="299.4" font-size="2.8" fill="#222" stroke="#222" stroke-width="0.1">Storage</text>
<text x="319.6" y="301.8" font-size="2.8" fill="#222" stroke="#222" stroke-width="0.1">Shelf</text>
<path d="M327.62 283.05 L323.6 278.2 L319.58 283.05 Z" fill="#000" stroke-width="0.72"/>
<circle cx="323.6" cy="286.8" r="5.5" fill="#fff" stroke-width="1.08"/>
<text x="323.6" y="287.6" font-size="2.2" fill="#333" text-anchor="middle" font-weight="bold" stroke="#333" stroke-width="0.22">1a</text>
<ellipse cx="318.2" cy="309.4" rx="4.3" ry="2.4" fill="#fff" stroke-width="1.08"/>
<text x="318.2" y="310.3" font-size="2.7" fill="#222" text-anchor="middle" stroke="#222" stroke-width="0.1">104A</text>
<path d="M313.5 308 L314 320.5 Q320.5 318.5 321.8 308" fill="none" stroke-width="0.96"/>
<text x="334.9" y="133.8" font-size="4" fill="#111" text-anchor="middle" stroke="#111" stroke-width="0.2">Classroom</text>
<rect x="328.5" y="136.5" width="18" height="6" fill="#fff" stroke-width="1"/>
<text x="337.3" y="140.7" font-size="3.6" fill="#111" text-anchor="middle" stroke="#111" stroke-width="0.18">102</text>
<text x="335.8" y="147.2" font-size="3.3" fill="#111" text-anchor="middle" stroke="#111" stroke-width="0.2">67 m²</text>
<path d="M357.15 126.82 L362 122.8 L357.15 118.78 Z" fill="#000" stroke-width="0.72"/>
<circle cx="353.4" cy="122.8" r="5.5" fill="#fff" stroke-width="1.08"/>
<text x="353.4" y="123.6" font-size="2.2" fill="#333" text-anchor="middle" font-weight="bold" stroke="#333" stroke-width="0.22">1a</text>
<path d="M389.05 131.28 L384.2 135.3 L389.05 139.32 Z" fill="#000" stroke-width="0.72"/>
<circle cx="392.8" cy="135.3" r="5.5" fill="#fff" stroke-width="1.08"/>
<text x="392.8" y="136.1" font-size="2.2" fill="#333" text-anchor="middle" font-weight="bold" stroke="#333" stroke-width="0.22">1a</text>
<path d="M353.86 154.56 L358.1 159.5 L362.34 154.56 Z" fill="#000" stroke-width="0.72"/>
<circle cx="358.1" cy="150.6" r="5.8" fill="#fff" stroke-width="1.08"/>
<text x="358.1" y="151.4" font-size="2.2" fill="#333" text-anchor="middle" font-weight="bold" stroke="#333" stroke-width="0.22">1a</text>
<path d="M409.18 153.15 L413.2 158 L417.22 153.15 Z" fill="#000" stroke-width="0.72"/>
<circle cx="413.2" cy="149.4" r="5.5" fill="#fff" stroke-width="1.08"/>
<text x="413.2" y="150.2" font-size="2.2" fill="#333" text-anchor="middle" font-weight="bold" stroke="#333" stroke-width="0.22">1a</text>
<path d="M349 124 L352 124" fill="none" stroke-width="0.6"/>
<line x1="374.3" y1="95" x2="374.3" y2="258.6" stroke-width="2"/>
<ellipse cx="375.2" cy="107.2" rx="4.3" ry="2.4" fill="#fff" stroke-width="1.08"/>
<text x="375.2" y="108.1" font-size="2.7" fill="#222" text-anchor="middle" stroke="#222" stroke-width="0.1">102C</text>
<path d="M369.5 104.2 L382.5 104.2 L380 108.6" fill="none" stroke-width="0.96"/>
<rect x="367.5" y="115.5" width="6" height="36" fill="#fff" stroke-width="1"/>
<line x1="367.8" y1="124.5" x2="373.3" y2="124.5" stroke-width="1"/>
<line x1="367.8" y1="133.5" x2="373.3" y2="133.5" stroke-width="1"/>
<line x1="367.8" y1="142.5" x2="373.3" y2="142.5" stroke-width="1"/>
<rect x="369.5" y="126.5" width="2" height="5" fill="#000" stroke-width="1"/>
<rect x="375.2" y="120.4" width="2.2" height="25.2" stroke-width="0.7" stroke-dasharray="1.4 0.9"/>
<text x="375.5" y="133" font-size="1.9" fill="#334" text-anchor="middle" font-weight="bold" transform="rotate(-90 375.5 133)" stroke="#334" stroke-width="0.22">Millwork</text>
<text x="360.5" y="166.6" font-size="2.9" fill="#222" text-anchor="middle" stroke="#222" stroke-width="0.1">Millwork TYP.</text>
<line x1="349.5" y1="167.5" x2="371.5" y2="167.5" stroke-width="1"/>
<text x="360" y="160.4" font-size="2.8" fill="#222" text-anchor="middle" stroke="#222" stroke-width="0.1">1500</text>
<text x="410.5" y="159.4" font-size="2.8" fill="#222" text-anchor="middle" stroke="#222" stroke-width="0.1">1500</text>
<path d="M323.2 157.6 Q328 149.5 339 151.5 Q347.5 154.5 349 168.6" fill="none" stroke-width="1.08"/>
<line x1="336.9" y1="160.6" x2="336.9" y2="169" stroke-width="1.68"/>
<path d="M336.9 160.6 Q344.5 161.4 345.8 168.6" fill="none" stroke-width="1.08"/>
<line x1="333.1" y1="170" x2="385.6" y2="170" stroke-width="2"/>
<line x1="385.6" y1="170" x2="451.3" y2="170" stroke-width="2"/>
<path d="M376.9 160.6 Q384.8 161.4 386 169" fill="none" stroke-width="1.08"/>
<line x1="376.9" y1="160.6" x2="376.9" y2="169.4" stroke-width="1.68"/>
<ellipse cx="380.5" cy="168.3" rx="4.3" ry="2.4" fill="#fff" stroke-width="1.08"/>
<text x="380.5" y="169.2" font-size="2.7" fill="#222" text-anchor="middle" stroke="#222" stroke-width="0.1">107A</text>
<rect x="401.5" y="163.5" width="36" height="5" fill="#fff" stroke-width="1"/>
<line x1="410.5" y1="163.4" x2="410.5" y2="168.6" stroke-width="1"/>
<line x1="428.5" y1="163.4" x2="428.5" y2="168.6" stroke-width="1"/>
<line x1="412" y1="166.5" x2="419.4" y2="166.5" stroke-width="1"/>
<line x1="420.4" y1="163.4" x2="420.4" y2="168.6" stroke-width="1.68"/>
<line x1="422.2" y1="165.6" x2="427.6" y2="165.6" stroke-width="1.68"/>
<line x1="430.4" y1="166.5" x2="436" y2="166.5" stroke-width="1"/>
<line x1="333.1" y1="178.8" x2="375" y2="178.8" stroke-width="1.7"/>
<line x1="333.2" y1="179.2" x2="333.2" y2="211" stroke-width="2"/>
<text x="340.3" y="175.8" font-size="3" fill="#222" text-anchor="middle" stroke="#222" stroke-width="0.1">Corridor  101</text>
<text x="360.6" y="175.8" font-size="3" fill="#222" text-anchor="middle" stroke="#222" stroke-width="0.1">1500</text>
<text x="373.6" y="175.8" font-size="2.8" fill="#222" text-anchor="middle" stroke="#222" stroke-width="0.1">150</text>
<line x1="347.6" y1="178.8" x2="347.6" y2="242.2" stroke-width="2"/>
<line x1="347.6" y1="184.8" x2="365" y2="184.8" stroke-width="2"/>
<line x1="347.6" y1="242.2" x2="374.3" y2="242.2" stroke-width="2"/>
<line x1="333.5" y1="210.3" x2="347.8" y2="210.3" stroke-width="1.9"/>
<line x1="320" y1="218.8" x2="338.5" y2="218.8" stroke-width="1.9"/>
<line x1="339.4" y1="215" x2="339.4" y2="222" stroke-width="1.44"/>
<path d="M357.3 187.1 L363.3 193.1 L357.3 199.1 L351.3 193.1 Z" fill="#fff" stroke-width="0.96"/>
<text x="357.3" y="193.9" font-size="2.2" fill="#333" text-anchor="middle" font-weight="bold" stroke="#333" stroke-width="0.22">A</text>
<path d="M355.7 227.2 L361.3 232.8 L355.7 238.4 L350.1 232.8 Z" fill="#fff" stroke-width="0.96"/>
<text x="355.7" y="233.6" font-size="2.2" fill="#333" text-anchor="middle" font-weight="bold" stroke="#333" stroke-width="0.22">A</text>
<text x="360.3" y="212.3" font-size="3.2" fill="#222" text-anchor="middle" font-weight="bold" stroke="#222" stroke-width="0.22">Mech</text>
<rect x="352.5" y="215.5" width="18" height="5" fill="#fff" stroke-width="1"/>
<text x="360.3" y="219.3" font-size="2.7" fill="#222" text-anchor="middle" font-weight="bold" stroke="#222" stroke-width="0.22">106</text>
<ellipse cx="367.5" cy="184.1" rx="4.3" ry="2.4" fill="#fff" stroke-width="1.08"/>
<text x="367.5" y="185" font-size="2.7" fill="#222" text-anchor="middle" stroke="#222" stroke-width="0.1">106</text>
<path d="M365 186.2 Q366 193.6 372.2 194" fill="none" stroke-width="1.08"/>
<line x1="372.6" y1="185" x2="372.6" y2="194.4" stroke-width="2"/>
<ellipse cx="340.6" cy="188.8" rx="4.3" ry="2.4" fill="#fff" stroke-width="1.08"/>
<text x="340.6" y="189.7" font-size="2.7" fill="#222" text-anchor="middle" stroke="#222" stroke-width="0.1">105B</text>
<path d="M337.5 190.4 Q338.5 198.6 345.6 199.6 M345.6 190.6 L345.6 199.6" fill="none" stroke-width="1.08"/>
<line x1="362.5" y1="232.5" x2="374" y2="232.5" stroke-width="1"/>
<line x1="362.5" y1="193.5" x2="374" y2="193.5" stroke-width="1"/>
<rect x="347.5" y="242.5" width="18" height="4" fill="none" stroke-width="1"/>
<rect x="357.5" y="242.5" width="7" height="3" fill="#000" stroke-width="1"/>
<text x="356.5" y="246.2" font-size="2.6" fill="#222" text-anchor="middle" stroke="#222" stroke-width="0.1">1050</text>
<rect x="365.5" y="242.5" width="9" height="5" fill="#fff" stroke-width="1"/>
<text x="332.6" y="200" font-size="3.1" fill="#334" text-anchor="middle" transform="rotate(-90 332.6 200)" stroke="#334" stroke-width="0.12">1200</text>
<text x="333.5" y="225" font-size="3.1" fill="#334" text-anchor="middle" transform="rotate(-90 333.5 225)" stroke="#334" stroke-width="0.12">1200</text>
<text x="334.6" y="241" font-size="3.1" fill="#334" text-anchor="middle" transform="rotate(-90 334.6 241)" stroke="#334" stroke-width="0.12">900</text>
<ellipse cx="374.4" cy="252.2" rx="4.3" ry="2.4" fill="#fff" stroke-width="1.08"/>
<text x="374.4" y="253.1" font-size="2.7" fill="#222" text-anchor="middle" stroke="#222" stroke-width="0.1">107B</text>
<path d="M364.5 247.5 L369.5 255.5" fill="none" stroke-width="0.84"/>
<path d="M359.36 252.79 L355.7 248.1 L352.04 252.79 Z" fill="#000" stroke-width="0.72"/>
<circle cx="355.7" cy="256.2" r="5" fill="#fff" stroke-width="1.08"/>
<text x="355.7" y="257" font-size="2.2" fill="#333" text-anchor="middle" font-weight="bold" stroke="#333" stroke-width="0.22">1a</text>
<text x="363.5" y="264.4" font-size="2.6" fill="#222" text-anchor="middle" stroke="#222" stroke-width="0.1">Millwork TYP.</text>
<line x1="355" y1="265.5" x2="372" y2="265.5" stroke-width="1"/>
<line x1="310" y1="266.9" x2="374.3" y2="266.9" stroke-width="2.3"/>
<line x1="337.5" y1="218.8" x2="337.5" y2="267.5" stroke-width="1"/>
<ellipse cx="374.4" cy="272.2" rx="4.3" ry="2.4" fill="#fff" stroke-width="1.08"/>
<text x="374.4" y="273.1" font-size="2.7" fill="#222" text-anchor="middle" stroke="#222" stroke-width="0.1">104B</text>
<path d="M366.5 267.5 Q367.5 275 373 276" fill="none" stroke-width="0.96"/>
<line x1="252.6" y1="214.5" x2="612.5" y2="214.5" stroke-width="1"/>
<text x="420.2" y="204" font-size="4" fill="#111" text-anchor="middle" stroke="#111" stroke-width="0.2">Great Room</text>
<rect x="412.5" y="206.5" width="18" height="6" fill="#fff" stroke-width="1"/>
<text x="421.2" y="210.9" font-size="3.6" fill="#111" text-anchor="middle" stroke="#111" stroke-width="0.18">107</text>
<line x1="420.5" y1="92.5" x2="420.5" y2="359" stroke-width="1"/>
<path d="M420.6 76.3 L412.1 84.3 L420.6 93.3" fill="none" stroke-width="1.68" stroke="#1b1bff"/>
<path d="M419.2 77.4 L421.2 75.4 L421.2 78.6 Z" fill="#1b1bff" stroke-width="0.72" stroke="#1b1bff"/>
<path d="M419.2 92.2 L421.2 94.2 L421.2 90.6 Z" fill="#1b1bff" stroke-width="0.72" stroke="#1b1bff"/>
<path d="M420.6 78.3 A6.1 6.1 0 1 1 420.6 90.3" fill="none" stroke-width="1.26" stroke="#1b1bff"/>
<line x1="415.6" y1="84.5" x2="426" y2="84.5" stroke-width="1" stroke="#1b1bff"/>
<text x="418.6" y="82.4" font-size="2.6" fill="#8a6cff" text-anchor="middle" stroke="none">A4</text>
<text x="418.6" y="87.6" font-size="2.6" fill="#8a6cff" text-anchor="middle" stroke="none">A4</text>
<line x1="374.3" y1="258.3" x2="479.7" y2="258.3" stroke-width="2.2"/>
<ellipse cx="393.2" cy="257.6" rx="4.3" ry="2.4" fill="#fff" stroke-width="1.08"/>
<text x="393.2" y="258.5" font-size="2.7" fill="#222" text-anchor="middle" stroke="#222" stroke-width="0.1">107C</text>
<ellipse cx="433.5" cy="257.6" rx="4.3" ry="2.4" fill="#fff" stroke-width="1.08"/>
<text x="433.5" y="258.5" font-size="2.7" fill="#222" text-anchor="middle" stroke="#222" stroke-width="0.1">107C</text>
<ellipse cx="463.4" cy="257.6" rx="4.3" ry="2.4" fill="#fff" stroke-width="1.08"/>
<text x="463.4" y="258.5" font-size="2.7" fill="#222" text-anchor="middle" stroke="#222" stroke-width="0.1">107C</text>
<path d="M388.5 259 L388.5 267.5 Q396 267 397.6 259 M388.5 267.6 L392.5 267.6" fill="none" stroke-width="1.2"/>
<path d="M437.8 259 L437.8 267.5 Q430.5 267 428.8 259 M437.8 267.6 L434 267.6" fill="none" stroke-width="1.2"/>
<path d="M463.6 259 L463.6 267.5 Q468.5 266 469.5 259" fill="none" stroke-width="1.2"/>
<line x1="459.5" y1="258.3" x2="459.5" y2="308" stroke-width="2.4"/>
<line x1="337.5" y1="267.5" x2="337.5" y2="309.8" stroke-width="1"/>
<text x="352.9" y="279.8" font-size="4" fill="#111" text-anchor="middle" stroke="#111" stroke-width="0.2">Classroom</text>
<rect x="346.5" y="282.5" width="18" height="6" fill="#fff" stroke-width="1"/>
<text x="355.3" y="286.7" font-size="3.6" fill="#111" text-anchor="middle" stroke="#111" stroke-width="0.18">104</text>
<text x="353.8" y="293.2" font-size="3.3" fill="#111" text-anchor="middle" stroke="#111" stroke-width="0.2">24 m²</text>
<line x1="358" y1="305.5" x2="378.5" y2="305.5" stroke-width="1"/>
<line x1="358.5" y1="305.2" x2="358.5" y2="307.2" stroke-width="1"/>
<text x="368.5" y="304.4" font-size="2.6" fill="#222" text-anchor="middle" stroke="#222" stroke-width="0.1">Millwork TYP.</text>
<path d="M384.86 296.77 L385.99 290.57 L379.69 290.61 Z" fill="#000" stroke-width="0.72"/>
<circle cx="379.4" cy="296.1" r="5.5" fill="#fff" stroke-width="1.08"/>
<text x="379.4" y="296.9" font-size="2.2" fill="#333" text-anchor="middle" font-weight="bold" stroke="#333" stroke-width="0.22">1a</text>
<line x1="374.3" y1="278.5" x2="411.3" y2="278.5" stroke-width="1"/>
<line x1="374.3" y1="278.9" x2="386.8" y2="278.9" stroke-width="1.68"/>
<line x1="386.3" y1="279.2" x2="402" y2="294.9" stroke-width="1.9"/>
<line x1="402.3" y1="294.3" x2="402.3" y2="306.8" stroke-width="2"/>
<line x1="402.5" y1="306.8" x2="402.5" y2="316.2" stroke-width="1"/>
<path d="M382.4 281.4 L385.4 278.8 L401.5 294.4 L398.5 297 Z" fill="none" stroke-width="0.84"/>
<rect x="383.8" y="282.2" width="4.8" height="2.8" fill="none" stroke-width="0.6" transform="rotate(45 386.2 283.6)"/>
<ellipse cx="395" cy="291" rx="3" ry="2" fill="none" stroke-width="0.72"/>
<path d="M393 296 Q394 303.5 401.8 304.4" fill="none" stroke-width="0.84"/>
<line x1="411.5" y1="276.5" x2="411.5" y2="311.2" stroke-width="1"/>
<line x1="410.1" y1="279.2" x2="411.9" y2="277.4" stroke-width="1.32"/>
<line x1="410.1" y1="295.1" x2="411.9" y2="293.3" stroke-width="1.32"/>
<line x1="410.1" y1="311.3" x2="411.9" y2="309.5" stroke-width="1.32"/>
<line x1="403" y1="294.5" x2="412.3" y2="294.5" stroke-width="1"/>
<text x="409.2" y="286" font-size="3.1" fill="#334" text-anchor="middle" transform="rotate(-90 409.2 286)" stroke="#334" stroke-width="0.12">1800</text>
<text x="409.2" y="302" font-size="3.1" fill="#334" text-anchor="middle" transform="rotate(-90 409.2 302)" stroke="#334" stroke-width="0.12">1500</text>
<text x="391.5" y="303.5" font-size="3.1" fill="#334" text-anchor="middle" transform="rotate(68 391.5 303.5)" stroke="#334" stroke-width="0.12">2400</text>
<text x="423.5" y="275" font-size="4" fill="#111" text-anchor="middle" stroke="#111" stroke-width="0.2">Lobby</text>
<rect x="415.5" y="277.5" width="18" height="6" fill="#fff" stroke-width="1"/>
<text x="424.5" y="281.9" font-size="3.6" fill="#111" text-anchor="middle" stroke="#111" stroke-width="0.18">108</text>
<text x="418.2" y="321.2" font-size="4" fill="#111" text-anchor="middle" stroke="#111" stroke-width="0.2">Vestibule</text>
<rect x="410.5" y="324.5" width="18" height="5" fill="#fff" stroke-width="1"/>
<text x="419.2" y="328.1" font-size="3.6" fill="#111" text-anchor="middle" stroke="#111" stroke-width="0.18">109</text>
<text x="447.4" y="310" font-size="4" fill="#111" text-anchor="middle" stroke="#111" stroke-width="0.2">Office</text>
<rect x="439.5" y="312.5" width="18" height="6" fill="#fff" stroke-width="1"/>
<text x="448.4" y="316.9" font-size="3.6" fill="#111" text-anchor="middle" stroke="#111" stroke-width="0.18">126</text>
<ellipse cx="419.4" cy="309" rx="4.3" ry="2.4" fill="#fff" stroke-width="1.08"/>
<text x="419.4" y="309.9" font-size="2.7" fill="#222" text-anchor="middle" stroke="#222" stroke-width="0.1">109A</text>
<path d="M417.6 311 L422.6 318.2 M421.4 311 L416.4 318.2" fill="none" stroke-width="0.96"/>
<line x1="409.4" y1="310.5" x2="409.4" y2="318" stroke-width="1.8"/>
<line x1="428.8" y1="310.5" x2="428.8" y2="318" stroke-width="1.8"/>
<line x1="435" y1="295.3" x2="450" y2="295.3" stroke-width="2"/>
<line x1="435.4" y1="295.3" x2="435.4" y2="308" stroke-width="2"/>
<line x1="441.5" y1="293" x2="441.5" y2="326.8" stroke-width="1"/>
<ellipse cx="453.2" cy="295.3" rx="4.3" ry="2.4" fill="#fff" stroke-width="1.08"/>
<text x="453.2" y="296.2" font-size="2.7" fill="#222" text-anchor="middle" stroke="#222" stroke-width="0.1">126</text>
<path d="M449.5 296.5 Q450.5 303 457.5 303.6 M457.6 296 L457.6 303.8" fill="none" stroke-width="0.84"/>
<text x="435.2" y="289" font-size="3.1" fill="#334" text-anchor="middle" transform="rotate(-90 435.2 289)" stroke="#334" stroke-width="0.12">1200</text>
<text x="438.2" y="310.5" font-size="3.1" fill="#334" text-anchor="middle" transform="rotate(-90 438.2 310.5)" stroke="#334" stroke-width="0.12">150</text>
<line x1="474.2" y1="95" x2="474.2" y2="135.5" stroke-width="2.1"/>
<line x1="473.5" y1="135.5" x2="473.5" y2="180" stroke-width="1"/>
<line x1="475.5" y1="135.5" x2="475.5" y2="180" stroke-width="1"/>
<path d="M463.4 95 L463.4 86.8 Q459 88 458.3 95 Z" fill="none" stroke-width="1.08"/>
<path d="M477.8 95 L477.8 86.8 Q482.5 88 483.5 95 Z" fill="none" stroke-width="1.08"/>
<ellipse cx="464.5" cy="97.4" rx="4.3" ry="2.4" fill="#fff" stroke-width="1.08"/>
<text x="464.5" y="98.3" font-size="2.7" fill="#222" text-anchor="middle" stroke="#222" stroke-width="0.1">107D</text>
<ellipse cx="481.6" cy="97.4" rx="4.3" ry="2.4" fill="#fff" stroke-width="1.08"/>
<text x="481.6" y="98.3" font-size="2.7" fill="#222" text-anchor="middle" stroke="#222" stroke-width="0.1">112</text>
<path d="M455.4 108.1 L461.4 114.1 L455.4 120.1 L449.4 114.1 Z" fill="#fff" stroke-width="0.96"/>
<text x="455.4" y="114.9" font-size="2.2" fill="#333" text-anchor="middle" font-weight="bold" stroke="#333" stroke-width="0.22">A</text>
<path d="M453.1 130.1 L459.1 136.1 L453.1 142.1 L447.1 136.1 Z" fill="#fff" stroke-width="0.96"/>
<text x="453.1" y="136.9" font-size="2.2" fill="#333" text-anchor="middle" font-weight="bold" stroke="#333" stroke-width="0.22">A</text>
<line x1="460.8" y1="114.7" x2="472" y2="122" stroke-width="0.96"/>
<path d="M460.18 130.85 L464.2 135.7 L468.22 130.85 Z" fill="#000" stroke-width="0.72"/>
<circle cx="464.2" cy="127.1" r="5.5" fill="#fff" stroke-width="1.08"/>
<text x="464.2" y="127.9" font-size="2.2" fill="#333" text-anchor="middle" font-weight="bold" stroke="#333" stroke-width="0.22">1a</text>
<line x1="456.3" y1="136.5" x2="497" y2="136.5" stroke-width="1"/>
<path d="M461.6 146.4 L461.6 143.8 A3.2 3.2 0 0 1 468 143.8 L468 146.4" fill="none" stroke-width="1.56"/>
<circle cx="464.8" cy="144.6" r="1.2" fill="none" stroke-width="0.96"/>
<line x1="451.2" y1="147" x2="496" y2="147" stroke-width="2.9"/>
<line x1="452" y1="147" x2="452" y2="169" stroke-width="2.2"/>
<line x1="445" y1="168.8" x2="453" y2="168.8" stroke-width="3.6"/>
<text x="462" y="151.6" font-size="2.6" fill="#222" text-anchor="middle" font-weight="bold" stroke="#222" stroke-width="0.22">Stor.</text>
<rect x="455.5" y="155.5" width="17" height="5" fill="#fff" stroke-width="1"/>
<text x="463.6" y="159.6" font-size="2.5" fill="#222" text-anchor="middle" font-weight="bold" stroke="#222" stroke-width="0.22">115</text>
<rect x="466.5" y="150.5" width="4" height="3" fill="none" stroke-width="1"/>
<line x1="453" y1="155.5" x2="455.2" y2="155.5" stroke-width="1"/>
<path d="M446 163.5 Q452 161.5 458 163.5 M453 160.9 L453 169" fill="none" stroke-width="0.84"/>
<text x="450.8" y="164.4" font-size="2.6" fill="#222" text-anchor="middle" stroke="#222" stroke-width="0.1">114</text>
<ellipse cx="468.6" cy="165.2" rx="2" ry="1.6" fill="#fff" stroke-width="0.96"/>
<ellipse cx="481.7" cy="111.9" rx="4.3" ry="2.4" fill="#fff" stroke-width="1.08"/>
<text x="481.7" y="112.8" font-size="2.7" fill="#222" text-anchor="middle" stroke="#222" stroke-width="0.1">112A</text>
<text x="483.4" y="120.6" font-size="3.1" fill="#222" text-anchor="middle" font-weight="bold" stroke="#222" stroke-width="0.22">Toilet</text>
<rect x="476.5" y="123.5" width="18" height="6" fill="#fff" stroke-width="1"/>
<text x="485.4" y="127.8" font-size="2.7" fill="#222" text-anchor="middle" font-weight="bold" stroke="#222" stroke-width="0.22">112</text>
<line x1="485.5" y1="129.6" x2="485.5" y2="139" stroke-width="1"/>
<ellipse cx="480.2" cy="142.2" rx="2.5" ry="1.8" fill="#fff" stroke-width="0.96"/>
<path d="M487.4 137 Q487.6 144.4 494.6 145.4" fill="none" stroke-width="0.96"/>
<path d="M487 134.5 Q491 132.6 495 134.4" fill="none" stroke-width="0.96"/>
<ellipse cx="480.5" cy="152.4" rx="2.4" ry="1.6" fill="#fff" stroke-width="0.96"/>
<line x1="484" y1="151" x2="491" y2="152.6" stroke-width="0.96" stroke-dasharray="1.6 1"/>
<path d="M481.5 162 Q484 153.5 493.5 155.8" fill="none" stroke-width="1.08"/>
<line x1="479.5" y1="164.6" x2="493.4" y2="156.4" stroke-width="1.32"/>
<rect x="476.5" y="163.5" width="4" height="3" fill="#000" stroke-width="1"/>
<ellipse cx="491.5" cy="164.2" rx="1.6" ry="2.2" fill="#fff" stroke-width="0.84"/>
<circle cx="494.4" cy="157.6" r="0.5" fill="#0a0" stroke-width="0.48" stroke="#0a0"/>
<line x1="453" y1="169.5" x2="496" y2="169.5" stroke-width="1"/>
<line x1="495.9" y1="133.9" x2="495.9" y2="180.2" stroke-width="2.3"/>
<line x1="498" y1="135.9" x2="524.6" y2="135.9" stroke-width="2.2"/>
<line x1="524.5" y1="133.8" x2="524.5" y2="170" stroke-width="1"/>
<line x1="523.1" y1="136.8" x2="524.9" y2="135" stroke-width="1.32"/>
<text x="528.2" y="132.5" font-size="3.1" fill="#334" text-anchor="middle" transform="rotate(-90 528.2 132.5)" stroke="#334" stroke-width="0.12">900</text>
<text x="520.2" y="141.5" font-size="3.1" fill="#334" text-anchor="middle" transform="rotate(-90 520.2 141.5)" stroke="#334" stroke-width="0.12">150</text>
<text x="528.2" y="150.5" font-size="3.1" fill="#334" text-anchor="middle" transform="rotate(-90 528.2 150.5)" stroke="#334" stroke-width="0.12">1200</text>
<text x="520.2" y="158.5" font-size="3.1" fill="#334" text-anchor="middle" transform="rotate(-90 520.2 158.5)" stroke="#334" stroke-width="0.12">900</text>
<path d="M510.19 144.34 L505.5 148 L510.19 151.66 Z" fill="#000" stroke-width="0.72"/>
<circle cx="513.6" cy="148" r="5" fill="#fff" stroke-width="1.08"/>
<text x="513.6" y="148.8" font-size="2.2" fill="#333" text-anchor="middle" font-weight="bold" stroke="#333" stroke-width="0.22">1a</text>
<line x1="518.6" y1="146.5" x2="527.6" y2="146.5" stroke-width="1"/>
<path d="M524.6 145.7 L527.8 146.9 L524.6 148.1 Z" fill="#000" stroke-width="0.6"/>
<text x="509.6" y="156.9" font-size="3" fill="#222" text-anchor="middle" font-weight="bold" stroke="#222" stroke-width="0.22">Mech</text>
<rect x="500.5" y="159.5" width="18" height="5" fill="#fff" stroke-width="1"/>
<text x="510.5" y="163.4" font-size="2.6" fill="#222" text-anchor="middle" font-weight="bold" stroke="#222" stroke-width="0.22">113</text>
<path d="M498.5 150 Q501.5 150.5 500.5 153.6 Q499.5 156 503 156.4" fill="none" stroke-width="1.08"/>
<line x1="503" y1="143.5" x2="503" y2="148" stroke-width="1.32"/>
<path d="M500.6 160.2 L505 164.6" fill="none" stroke-width="1.08"/>
<line x1="496.4" y1="169.3" x2="546.3" y2="169.3" stroke-width="2.3"/>
<ellipse cx="502.4" cy="168.2" rx="4.3" ry="2.4" fill="#fff" stroke-width="1.08"/>
<text x="502.4" y="169.1" font-size="2.7" fill="#222" text-anchor="middle" stroke="#222" stroke-width="0.1">113</text>
<line x1="453" y1="178.5" x2="475.4" y2="178.5" stroke-width="1"/>
<line x1="453.5" y1="170" x2="453.5" y2="178.4" stroke-width="1"/>
<text x="463" y="174.8" font-size="3.1" fill="#334" text-anchor="middle" stroke="#334" stroke-width="0.12">1750</text>
<text x="485" y="174.8" font-size="3.1" fill="#334" text-anchor="middle" stroke="#334" stroke-width="0.12">1200</text>
<text x="515.5" y="174.8" font-size="3.1" fill="#334" text-anchor="middle" stroke="#334" stroke-width="0.12">1500</text>
<text x="448.4" y="183.8" font-size="3.1" fill="#334" text-anchor="middle" stroke="#334" stroke-width="0.12">150</text>
<text x="469.8" y="183.8" font-size="3.1" fill="#334" text-anchor="middle" stroke="#334" stroke-width="0.12">150</text>
<text x="502.6" y="180.6" font-size="3.1" fill="#334" text-anchor="middle" stroke="#334" stroke-width="0.12">150</text>
<line x1="449.5" y1="178.4" x2="449.5" y2="181.5" stroke-width="1"/>
<path d="M496 180.2 L500 181.5" fill="none" stroke-width="0.84"/>
<line x1="535.5" y1="170.4" x2="535.5" y2="174.4" stroke-width="2"/>
<ellipse cx="536" cy="178.2" rx="4.3" ry="2.4" fill="#fff" stroke-width="1.08"/>
<text x="536" y="179.1" font-size="2.7" fill="#222" text-anchor="middle" stroke="#222" stroke-width="0.1">117B</text>
<path d="M530 175.6 L543 175.6 L540.5 181" fill="none" stroke-width="0.96"/>
<line x1="478.9" y1="184.9" x2="659.6" y2="184.9" stroke-width="2.6"/>
<text x="536.4" y="121" font-size="4" fill="#111" text-anchor="middle" stroke="#111" stroke-width="0.2">Classroom</text>
<rect x="529.5" y="123.5" width="18" height="6" fill="#fff" stroke-width="1"/>
<text x="538.8" y="127.9" font-size="3.6" fill="#111" text-anchor="middle" stroke="#111" stroke-width="0.18">117</text>
<text x="537.3" y="134.4" font-size="3.3" fill="#111" text-anchor="middle" stroke="#111" stroke-width="0.2">60 m²</text>
<path d="M567.1 125.4 L573.45 125.95 L572.9 119.6 Z" fill="#000" stroke-width="0.72"/>
<circle cx="567.3" cy="119.8" r="5.6" fill="#fff" stroke-width="1.08"/>
<text x="567.3" y="120.6" font-size="2.2" fill="#333" text-anchor="middle" font-weight="bold" stroke="#333" stroke-width="0.22">1a</text>
<path d="M545.2 150.8 L551.55 151.35 L551 145 Z" fill="#000" stroke-width="0.72"/>
<circle cx="545.4" cy="145.2" r="5.6" fill="#fff" stroke-width="1.08"/>
<text x="545.4" y="146" font-size="2.2" fill="#333" text-anchor="middle" font-weight="bold" stroke="#333" stroke-width="0.22">1a</text>
<path d="M597.38 138.54 L591.11 137.44 L591.11 143.81 Z" fill="#000" stroke-width="0.72"/>
<circle cx="596.7" cy="144.1" r="5.6" fill="#fff" stroke-width="1.08"/>
<text x="596.7" y="144.9" font-size="2.2" fill="#333" text-anchor="middle" font-weight="bold" stroke="#333" stroke-width="0.22">1a</text>
<path d="M569.1 161.9 L562.75 161.35 L563.3 167.7 Z" fill="#000" stroke-width="0.72"/>
<circle cx="568.9" cy="167.5" r="5.6" fill="#fff" stroke-width="1.08"/>
<text x="568.9" y="168.3" font-size="2.2" fill="#333" text-anchor="middle" font-weight="bold" stroke="#333" stroke-width="0.22">1a</text>
<line x1="546.3" y1="168.9" x2="593.8" y2="119.9" stroke-width="2"/>
<g transform="rotate(-45.9 546.2 169)">
<rect x="576.5" y="164.5" width="36" height="9" fill="none" stroke-width="1"/>
<rect x="580.5" y="166.5" width="28" height="5" fill="none" stroke-width="1"/>
<rect x="587.5" y="166.5" width="7" height="6" fill="#000" stroke-width="1"/>
</g>
<text x="555.5" y="157.5" font-size="1.9" fill="#334" text-anchor="middle" font-weight="bold" transform="rotate(-45.9 555.5 157.5)" stroke="#334" stroke-width="0.22">FOLDING PARTITION</text>
<text x="558.6" y="160.4" font-size="1.9" fill="#334" text-anchor="middle" font-weight="bold" transform="rotate(-45.9 558.6 160.4)" stroke="#334" stroke-width="0.22">SEE SPEC.</text>
<line x1="594" y1="95" x2="594" y2="121.5" stroke-width="2"/>
<ellipse cx="594.8" cy="107.2" rx="4.3" ry="2.4" fill="#fff" stroke-width="1.08"/>
<text x="594.8" y="108.1" font-size="2.7" fill="#222" text-anchor="middle" stroke="#222" stroke-width="0.1">118A</text>
<path d="M590 104.4 L601.5 104.4 L599.5 108.6 L596 110" fill="none" stroke-width="0.96"/>
<line x1="612.5" y1="97.2" x2="612.5" y2="121.8" stroke-width="1"/>
<line x1="611.2" y1="99.7" x2="613" y2="97.9" stroke-width="1.32"/>
<line x1="611.2" y1="121.3" x2="613" y2="119.5" stroke-width="1.32"/>
<line x1="596.5" y1="120.5" x2="613.5" y2="120.5" stroke-width="1"/>
<line x1="608.5" y1="98.5" x2="613.5" y2="98.5" stroke-width="1"/>
<text x="610.3" y="109" font-size="3.1" fill="#334" text-anchor="middle" transform="rotate(-90 610.3 109)" stroke="#334" stroke-width="0.12">2700</text>
<path d="M589.6 113.5 L593 117.2 M591 112.2 L594.4 116" fill="none" stroke-width="0.84"/>
<text x="632" y="118" font-size="4" fill="#111" text-anchor="middle" stroke="#111" stroke-width="0.2">Classroom</text>
<rect x="625.5" y="120.5" width="18" height="6" fill="#fff" stroke-width="1"/>
<text x="634.4" y="124.9" font-size="3.6" fill="#111" text-anchor="middle" stroke="#111" stroke-width="0.18">118</text>
<text x="632.9" y="131.4" font-size="3.3" fill="#111" text-anchor="middle" stroke="#111" stroke-width="0.2">57 m²</text>
<text x="643.8" y="136.6" font-size="4" fill="#111" text-anchor="middle" stroke="#111" stroke-width="0.2">Toilet</text>
<rect x="635.5" y="139.5" width="18" height="6" fill="#fff" stroke-width="1"/>
<text x="644.8" y="143.5" font-size="3.6" fill="#111" text-anchor="middle" stroke="#111" stroke-width="0.18">120</text>
<text x="603.6" y="158.2" font-size="4" fill="#111" text-anchor="middle" stroke="#111" stroke-width="0.2">Toilet</text>
<rect x="595.5" y="161.5" width="18" height="5" fill="#fff" stroke-width="1"/>
<text x="604.6" y="165.1" font-size="3.6" fill="#111" text-anchor="middle" stroke="#111" stroke-width="0.18">119</text>
<text x="670.6" y="173.8" font-size="4" fill="#111" text-anchor="middle" stroke="#111" stroke-width="0.2">Toilet</text>
<rect x="662.5" y="176.5" width="18" height="6" fill="#fff" stroke-width="1"/>
<text x="671.6" y="180.7" font-size="3.6" fill="#111" text-anchor="middle" stroke="#111" stroke-width="0.18">121</text>
<path d="M624.88 148.55 L628.9 153.4 L632.92 148.55 Z" fill="#000" stroke-width="0.72"/>
<circle cx="628.9" cy="144.8" r="5.5" fill="#fff" stroke-width="1.08"/>
<text x="628.9" y="145.6" font-size="2.2" fill="#333" text-anchor="middle" font-weight="bold" stroke="#333" stroke-width="0.22">1a</text>
<line x1="645.5" y1="145" x2="647.5" y2="160" stroke-width="0.72"/>
<line x1="613.4" y1="163" x2="617" y2="164" stroke-width="0.72"/>
<ellipse cx="656.6" cy="149.6" rx="4.3" ry="2.4" fill="#fff" stroke-width="1.08"/>
<text x="656.6" y="150.5" font-size="2.7" fill="#222" text-anchor="middle" stroke="#222" stroke-width="0.1">118B</text>
<path d="M652 147.4 L663.5 147.4 L667 153.5 L659 153" fill="none" stroke-width="0.96"/>
<line x1="616.3" y1="164.2" x2="654.8" y2="164.2" stroke-width="2"/>
<line x1="654.2" y1="154.7" x2="654.2" y2="164.6" stroke-width="1.68"/>
<line x1="657.5" y1="164.5" x2="691.3" y2="164.5" stroke-width="1"/>
<line x1="657.5" y1="167" x2="691.3" y2="167" stroke-width="1.68"/>
<line x1="657.5" y1="184.2" x2="691.3" y2="184.2" stroke-width="1.9"/>
<line x1="657.5" y1="175.2" x2="689" y2="175.2" stroke-width="1.56"/>
<line x1="617.2" y1="164.4" x2="617.2" y2="184.2" stroke-width="1.9"/>
<line x1="639.8" y1="164.4" x2="639.8" y2="184.2" stroke-width="1.9"/>
<line x1="654.5" y1="164.4" x2="654.5" y2="195" stroke-width="1"/>
<path d="M675.5 149.6 Q678 164 689.5 168.5 M680 151 Q682 162 691 166" fill="none" stroke-width="0.84"/>
<text x="674.5" y="146.4" font-size="3.1" fill="#334" text-anchor="middle" transform="rotate(-90 674.5 146.4)" stroke="#334" stroke-width="0.12">150</text>
<text x="680.5" y="154.5" font-size="3.1" fill="#334" text-anchor="middle" transform="rotate(-90 680.5 154.5)" stroke="#334" stroke-width="0.12">1200</text>
<circle cx="629.7" cy="161.4" r="2.6" fill="none" stroke-width="1.08"/>
<circle cx="629.7" cy="161.4" r="1.1" fill="none" stroke-width="0.84"/>
<rect x="626.5" y="157.5" width="6" height="2" fill="none" stroke-width="1"/>
<rect x="619.5" y="167.5" width="18" height="15" fill="none" stroke-width="1"/>
<path d="M620 182 L637 168 M624 182.4 L637.4 171.4 M621 172 L633 182" fill="none" stroke-width="0.84"/>
<ellipse cx="614.5" cy="178.4" rx="3.2" ry="2" fill="#fff" stroke-width="0.84"/>
<path d="M609 182.6 Q611.5 176.4 618.5 176" fill="none" stroke-width="0.84"/>
<ellipse cx="646" cy="168.8" rx="2.4" ry="1.8" fill="#fff" stroke-width="0.84"/>
<ellipse cx="645.6" cy="181.2" rx="2.4" ry="1.8" fill="#fff" stroke-width="0.84"/>
<path d="M642 176 L653 172" fill="none" stroke-width="0.84"/>
<line x1="641" y1="171.5" x2="653.5" y2="171.5" stroke-width="1"/>
<circle cx="626" cy="168.4" r="0.8" fill="#0a0" stroke-width="0.6"/>
<circle cx="632.5" cy="175.4" r="0.8" fill="#0a0" stroke-width="0.6"/>
<ellipse cx="649.2" cy="184" rx="4.3" ry="2.4" fill="#fff" stroke-width="1.08"/>
<text x="649.2" y="184.9" font-size="2.7" fill="#222" text-anchor="middle" stroke="#222" stroke-width="0.1">120</text>
<ellipse cx="649.2" cy="189.8" rx="4.3" ry="2.4" fill="#fff" stroke-width="1.08"/>
<text x="649.2" y="190.7" font-size="2.7" fill="#222" text-anchor="middle" stroke="#222" stroke-width="0.1">121</text>
<path d="M688.6 186 Q684 188 682.2 201 M675 186 Q672.5 190 671.2 199" fill="none" stroke-width="0.84"/>
<text x="681.5" y="199.5" font-size="3.1" fill="#334" text-anchor="middle" transform="rotate(-80 681.5 199.5)" stroke="#334" stroke-width="0.12">150</text>
<text x="670.8" y="196.5" font-size="3.1" fill="#334" text-anchor="middle" transform="rotate(-80 670.8 196.5)" stroke="#334" stroke-width="0.12">150</text>
<line x1="616.3" y1="186.8" x2="616.3" y2="195.3" stroke-width="1.9"/>
<line x1="639.8" y1="186.8" x2="639.8" y2="195.3" stroke-width="1.9"/>
<line x1="616.3" y1="194.6" x2="655.6" y2="194.6" stroke-width="1.9"/>
<text x="627.5" y="190.6" font-size="3.1" fill="#334" text-anchor="middle" stroke="#334" stroke-width="0.12">2100</text>
<text x="621.5" y="203" font-size="3.1" fill="#334" text-anchor="middle" stroke="#334" stroke-width="0.12">1500</text>
<text x="634.5" y="203" font-size="3.1" fill="#334" text-anchor="middle" stroke="#334" stroke-width="0.12">1200</text>
<line x1="618.5" y1="199" x2="618.5" y2="203" stroke-width="1"/>
<line x1="639.5" y1="196" x2="639.5" y2="201.5" stroke-width="1"/>
<ellipse cx="592" cy="188.8" rx="4.3" ry="2.4" fill="#fff" stroke-width="1.08"/>
<text x="592" y="189.7" font-size="2.7" fill="#222" text-anchor="middle" stroke="#222" stroke-width="0.1">119</text>
<circle cx="608.8" cy="188.8" r="2.6" fill="#fff" stroke-width="1.56"/>
<circle cx="608.8" cy="188.8" r="1" fill="none" stroke-width="0.96"/>
<text x="608" y="193.6" font-size="2.6" fill="#222" text-anchor="middle" stroke="#222" stroke-width="0.1">FD</text>
<path d="M612.25 199.32 L608.3 194.5 L604.35 199.32 Z" fill="#000" stroke-width="0.72"/>
<circle cx="608.3" cy="203" r="5.4" fill="#fff" stroke-width="1.08"/>
<text x="608.3" y="203.8" font-size="2.2" fill="#333" text-anchor="middle" font-weight="bold" stroke="#333" stroke-width="0.22">1a</text>
<ellipse cx="657.6" cy="208.4" rx="4.3" ry="2.4" fill="#fff" stroke-width="1.08"/>
<text x="657.6" y="209.3" font-size="2.7" fill="#222" text-anchor="middle" stroke="#222" stroke-width="0.1">122D</text>
<path d="M652.5 205 L667.5 205 L665.5 210.5 L659.5 212.4" fill="none" stroke-width="0.96"/>
<line x1="612.5" y1="214.7" x2="612.5" y2="237.2" stroke-width="1"/>
<line x1="612.5" y1="237.5" x2="659.6" y2="237.5" stroke-width="1"/>
<path d="M666.1 237.3 L674.5 246.1 L682.8 237.3" fill="none" stroke-width="1.44" stroke="#1b1bff"/>
<path d="M671.2 242.9 L677.8 242.9 L674.5 246.3 Z" fill="#1b1bff" stroke-width="0.72" stroke="#1b1bff"/>
<path d="M668 237.3 A6.5 7 0 0 1 681 237.3" fill="none" stroke-width="1.26" stroke="#1b1bff"/>
<line x1="666.1" y1="237.5" x2="682.8" y2="237.5" stroke-width="1" stroke="#1b1bff"/>
<line x1="659.6" y1="237.5" x2="666.1" y2="237.5" stroke-width="1"/>
<text x="673.5" y="235.2" font-size="2.6" fill="#8a6cff" text-anchor="middle" stroke="none">A5</text>
<text x="673.5" y="240.6" font-size="2.6" fill="#8a6cff" text-anchor="middle" stroke="none">A5</text>
<rect x="479.5" y="184.5" width="39" height="10" fill="none" stroke-width="1"/>
<rect x="512.5" y="184.5" width="8" height="10" fill="#000" stroke-width="1"/>
<rect x="514.5" y="186.5" width="3" height="7" fill="#fff" stroke-width="1" stroke="none"/>
<line x1="518" y1="196.8" x2="531" y2="196.8" stroke-width="2"/>
<path d="M534.5 186.8 L534.5 193.4 M536.2 186.8 L536.2 193.4" fill="none" stroke-width="0.84"/>
<text x="499.5" y="190.4" font-size="3.1" fill="#334" text-anchor="middle" stroke="#334" stroke-width="0.12">1875</text>
<text x="526.5" y="190.4" font-size="3.1" fill="#334" text-anchor="middle" stroke="#334" stroke-width="0.12">1200</text>
<text x="574.5" y="190.6" font-size="3.1" fill="#334" text-anchor="middle" stroke="#334" stroke-width="0.12">1875</text>
<text x="486.5" y="201.2" font-size="3.1" fill="#334" text-anchor="middle" stroke="#334" stroke-width="0.12">1200</text>
<text x="541.5" y="199.4" font-size="3.1" fill="#334" text-anchor="middle" stroke="#334" stroke-width="0.12">1200</text>
<text x="509.5" y="188.5" font-size="3.1" fill="#334" text-anchor="middle" transform="rotate(-90 509.5 188.5)" stroke="#334" stroke-width="0.12">100</text>
<text x="506.2" y="204" font-size="3.1" fill="#334" text-anchor="middle" transform="rotate(-90 506.2 204)" stroke="#334" stroke-width="0.12">900</text>
<ellipse cx="484.6" cy="189.6" rx="4.3" ry="2.4" fill="#fff" stroke-width="1.08"/>
<text x="484.6" y="190.5" font-size="2.7" fill="#222" text-anchor="middle" stroke="#222" stroke-width="0.1">124</text>
<path d="M479.7 194.4 L487.5 194.4 L483 199" fill="none" stroke-width="0.84"/>
<ellipse cx="524.8" cy="183.6" rx="4.3" ry="2.4" fill="#fff" stroke-width="1.08"/>
<text x="524.8" y="184.5" font-size="2.7" fill="#222" text-anchor="middle" stroke="#222" stroke-width="0.1">117A</text>
<ellipse cx="591.3" cy="188.8" rx="4.3" ry="2.4" fill="#fff" stroke-width="1.08"/>
<text x="591.3" y="189.7" font-size="2.7" fill="#222" text-anchor="middle" stroke="#222" stroke-width="0.1">122A</text>
<ellipse cx="607.8" cy="188.8" rx="4.3" ry="2.4" fill="#fff" stroke-width="1.08"/>
<text x="607.8" y="189.7" font-size="2.7" fill="#222" text-anchor="middle" stroke="#222" stroke-width="0.1">122B</text>
<path d="M509 199.5 Q510 194.5 518 194.6" fill="none" stroke-width="0.84"/>
<text x="512.5" y="202.2" font-size="2.6" fill="#222" text-anchor="middle" stroke="#222" stroke-width="0.1">127</text>
<line x1="479.7" y1="184.4" x2="479.7" y2="258.6" stroke-width="2"/>
<line x1="530" y1="198.4" x2="614.4" y2="280.8" stroke-width="1.68"/>
<g transform="rotate(44.05 530 198.4)">
<rect x="548.5" y="194.5" width="57" height="8" fill="#fff" stroke-width="1"/>
<line x1="552.5" y1="194.7" x2="552.5" y2="202.1" stroke-width="1"/>
<line x1="557.5" y1="194.7" x2="557.5" y2="202.1" stroke-width="1"/>
<line x1="562.5" y1="194.7" x2="562.5" y2="202.1" stroke-width="1"/>
<line x1="567.5" y1="194.7" x2="567.5" y2="202.1" stroke-width="1"/>
<line x1="571.5" y1="194.7" x2="571.5" y2="202.1" stroke-width="1"/>
<line x1="576.5" y1="194.7" x2="576.5" y2="202.1" stroke-width="1"/>
<line x1="581.5" y1="194.7" x2="581.5" y2="202.1" stroke-width="1"/>
<line x1="586.5" y1="194.7" x2="586.5" y2="202.1" stroke-width="1"/>
<line x1="590.5" y1="194.7" x2="590.5" y2="202.1" stroke-width="1"/>
<line x1="595.5" y1="194.7" x2="595.5" y2="202.1" stroke-width="1"/>
<line x1="600.5" y1="194.7" x2="600.5" y2="202.1" stroke-width="1"/>
<line x1="548" y1="198.4" x2="605" y2="198.4" stroke-width="1.44"/>
<text x="571" y="197.6" font-size="1.8" fill="#334" text-anchor="middle" font-weight="bold" stroke="#334" stroke-width="0.22">FOLDING</text>
<rect x="610.5" y="193.5" width="38" height="9" fill="none" stroke-width="1"/>
<rect x="616.5" y="196.5" width="30" height="5" fill="none" stroke-width="1"/>
<rect x="622.5" y="196.5" width="5" height="4" fill="#000" stroke-width="1"/>
<line x1="630" y1="198.5" x2="644" y2="198.5" stroke-width="1" stroke-dasharray="2 1.2"/>
</g>
<path d="M571.8 220.5 L571.28 226.92 L577.7 226.4 Z" fill="#000" stroke-width="0.72"/>
<circle cx="577.5" cy="220.7" r="5.7" fill="#fff" stroke-width="1.08"/>
<text x="577.5" y="221.5" font-size="2.2" fill="#333" text-anchor="middle" font-weight="bold" stroke="#333" stroke-width="0.22">1a</text>
<path d="M557.1 241.3 L557.62 234.88 L551.2 235.4 Z" fill="#000" stroke-width="0.72"/>
<circle cx="551.4" cy="241.1" r="5.7" fill="#fff" stroke-width="1.08"/>
<text x="551.4" y="241.9" font-size="2.2" fill="#333" text-anchor="middle" font-weight="bold" stroke="#333" stroke-width="0.22">1a</text>
<text x="593.6" y="223.2" font-size="4" fill="#111" text-anchor="middle" stroke="#111" stroke-width="0.2">Classroom</text>
<rect x="587.5" y="226.5" width="17" height="5" fill="#fff" stroke-width="1"/>
<text x="596" y="230.1" font-size="3.6" fill="#111" text-anchor="middle" stroke="#111" stroke-width="0.18">122</text>
<text x="594.5" y="236.6" font-size="3.3" fill="#111" text-anchor="middle" stroke="#111" stroke-width="0.2">60 m²</text>
<text x="492.4" y="241.4" font-size="4" fill="#111" text-anchor="middle" stroke="#111" stroke-width="0.2">Women</text>
<rect x="484.5" y="244.5" width="18" height="5" fill="#fff" stroke-width="1"/>
<text x="493.4" y="248.3" font-size="3.6" fill="#111" text-anchor="middle" stroke="#111" stroke-width="0.18">124</text>
<line x1="493.5" y1="249.4" x2="493.5" y2="254.5" stroke-width="1"/>
<text x="536.5" y="248.5" font-size="3.1" fill="#334" text-anchor="middle" transform="rotate(-90 536.5 248.5)" stroke="#334" stroke-width="0.12">1200</text>
<line x1="532.5" y1="250" x2="535" y2="252.5" stroke-width="0.84"/>
<rect x="480.4" y="254.2" width="23" height="22.4" fill="none" stroke-width="2"/>
<line x1="479.5" y1="254.1" x2="533" y2="254.1" stroke-width="2"/>
<line x1="480" y1="276.6" x2="503.6" y2="276.6" stroke-width="3"/>
<path d="M492.1 260.8 L497.5 266.2 L492.1 271.6 L486.7 266.2 Z" fill="#fff" stroke-width="0.96"/>
<text x="492.1" y="267" font-size="2.2" fill="#333" text-anchor="middle" font-weight="bold" stroke="#333" stroke-width="0.22">A</text>
<path d="M485.5 259.5 L498.5 272.5 M485.5 272.5 L498.5 259.5" fill="none" stroke-width="0.72"/>
<circle cx="486.5" cy="267.5" r="0.8" fill="#0a0" stroke-width="0.6"/>
<circle cx="498.5" cy="260.5" r="0.8" fill="#0a0" stroke-width="0.6"/>
<rect x="482.4" y="271.3" width="3.8" height="3.8" fill="none" stroke-width="1.56"/>
<rect x="503.5" y="253.5" width="30" height="24" fill="none" stroke-width="1"/>
<text x="528.5" y="265" font-size="3.1" fill="#334" text-anchor="middle" transform="rotate(-90 528.5 265)" stroke="#334" stroke-width="0.12">1875</text>
<ellipse cx="463.8" cy="258" rx="4.3" ry="2.4" fill="#fff" stroke-width="1.08"/>
<text x="463.8" y="258.9" font-size="2.7" fill="#222" text-anchor="middle" stroke="#222" stroke-width="0.1">123B</text>
<ellipse cx="477.8" cy="263.2" rx="4.3" ry="2.4" fill="#fff" stroke-width="1.08"/>
<text x="477.8" y="264.1" font-size="2.7" fill="#222" text-anchor="middle" stroke="#222" stroke-width="0.1">125</text>
<path d="M471 259 Q471.5 266 478 268.5" fill="none" stroke-width="0.84"/>
<path d="M609.34 252.69 L608.28 259.12 L614.8 259.19 Z" fill="#000" stroke-width="0.72"/>
<circle cx="615.1" cy="253.4" r="5.8" fill="#fff" stroke-width="1.08"/>
<text x="615.1" y="254.2" font-size="2.2" fill="#333" text-anchor="middle" font-weight="bold" stroke="#333" stroke-width="0.22">1a</text>
<path d="M640.12 269.9 L645 265.8 L640.12 261.7 Z" fill="#000" stroke-width="0.72"/>
<circle cx="636.3" cy="265.8" r="5.6" fill="#fff" stroke-width="1.08"/>
<text x="636.3" y="266.6" font-size="2.2" fill="#333" text-anchor="middle" font-weight="bold" stroke="#333" stroke-width="0.22">1a</text>
<path d="M587.56 277.08 L588.66 270.81 L582.29 270.81 Z" fill="#000" stroke-width="0.72"/>
<circle cx="582" cy="276.4" r="5.6" fill="#fff" stroke-width="1.08"/>
<text x="582" y="277.2" font-size="2.2" fill="#333" text-anchor="middle" font-weight="bold" stroke="#333" stroke-width="0.22">1a</text>
<line x1="647.2" y1="253.5" x2="654.8" y2="253.5" stroke-width="1"/>
<line x1="647.5" y1="253.4" x2="647.5" y2="278.8" stroke-width="1"/>
<line x1="647.2" y1="278.5" x2="654.8" y2="278.5" stroke-width="1"/>
<text x="651.3" y="266" font-size="2" fill="#334" text-anchor="middle" font-weight="bold" transform="rotate(-90 651.3 266)" stroke="#334" stroke-width="0.22">Millwork</text>
<text x="654" y="266" font-size="2" fill="#334" text-anchor="middle" font-weight="bold" transform="rotate(-90 654 266)" stroke="#334" stroke-width="0.22">11 - 36A</text>
<path d="M606 277 Q604 286 612.5 288.2" fill="none" stroke-width="0.84"/>
<text x="601.5" y="284" font-size="3.1" fill="#334" text-anchor="middle" transform="rotate(70 601.5 284)" stroke="#334" stroke-width="0.12">150</text>
<line x1="614.1" y1="280.6" x2="614.1" y2="313" stroke-width="1.9"/>
<ellipse cx="613.6" cy="299.4" rx="4.2" ry="2.3" fill="#fff" stroke-width="0.96"/>
<path d="M609.5 298 L619 298 L623.5 304 L614 303.4" fill="none" stroke-width="0.96"/>
<line x1="611.5" y1="298.2" x2="611.5" y2="300.8" stroke-width="1"/>
<line x1="612.5" y1="298.2" x2="612.5" y2="300.8" stroke-width="1"/>
<line x1="614.5" y1="298.2" x2="614.5" y2="300.8" stroke-width="1"/>
<line x1="615.5" y1="298.2" x2="615.5" y2="300.8" stroke-width="1"/>
<text x="560" y="274.2" font-size="4" fill="#111" text-anchor="middle" stroke="#111" stroke-width="0.2">Classroom</text>
<rect x="553.5" y="277.5" width="18" height="5" fill="#fff" stroke-width="1"/>
<text x="562.4" y="281.1" font-size="3.6" fill="#111" text-anchor="middle" stroke="#111" stroke-width="0.18">123</text>
<text x="560.9" y="287.6" font-size="3.3" fill="#111" text-anchor="middle" stroke="#111" stroke-width="0.2">56 m²</text>
<line x1="484.4" y1="271.3" x2="484.4" y2="308.8" stroke-width="3.6"/>
<line x1="503.6" y1="276.4" x2="535" y2="276.4" stroke-width="1.68"/>
<line x1="484.4" y1="292" x2="503.8" y2="292" stroke-width="3"/>
<line x1="503.8" y1="292" x2="535" y2="292" stroke-width="1.68"/>
<line x1="533.5" y1="250.5" x2="533.5" y2="309.8" stroke-width="1"/>
<line x1="503.7" y1="284.7" x2="503.7" y2="307.2" stroke-width="1.68"/>
<circle cx="533" cy="276.4" r="1.2" fill="#000" stroke-width="0.6"/>
<circle cx="533" cy="292" r="1.2" fill="#000" stroke-width="0.6"/>
<path d="M534.6 277 Q538.6 284 534.6 291.4" fill="none" stroke-width="0.96"/>
<text x="514.5" y="280.2" font-size="2.8" fill="#222" text-anchor="middle" font-weight="bold" stroke="#222" stroke-width="0.22">Jan.</text>
<rect x="507.5" y="282.5" width="18" height="6" fill="#fff" stroke-width="1"/>
<text x="516.7" y="286.6" font-size="2.6" fill="#222" text-anchor="middle" font-weight="bold" stroke="#222" stroke-width="0.22">128</text>
<text x="514.5" y="294.6" font-size="2.8" fill="#222" text-anchor="middle" font-weight="bold" stroke="#222" stroke-width="0.22">Stor.</text>
<rect x="507.5" y="296.5" width="18" height="6" fill="#fff" stroke-width="1"/>
<text x="516.7" y="300.7" font-size="2.6" fill="#222" text-anchor="middle" font-weight="bold" stroke="#222" stroke-width="0.22">127</text>
<text x="528.5" y="284" font-size="3.1" fill="#334" text-anchor="middle" transform="rotate(-90 528.5 284)" stroke="#334" stroke-width="0.12">1200</text>
<text x="528.5" y="299" font-size="3.1" fill="#334" text-anchor="middle" transform="rotate(-90 528.5 299)" stroke="#334" stroke-width="0.12">1200</text>
<text x="537.5" y="283" font-size="3.1" fill="#334" text-anchor="middle" transform="rotate(-90 537.5 283)" stroke="#334" stroke-width="0.12">2700</text>
<path d="M475.1 274.5 L481.1 280.5 L475.1 286.5 L469.1 280.5 Z" fill="#fff" stroke-width="0.96"/>
<text x="475.1" y="281.3" font-size="2.2" fill="#333" text-anchor="middle" font-weight="bold" stroke="#333" stroke-width="0.22">A</text>
<text x="469.5" y="291.4" font-size="3" fill="#222" text-anchor="middle" font-weight="bold" stroke="#222" stroke-width="0.22">Restroom</text>
<rect x="462.5" y="295.5" width="18" height="5" fill="#fff" stroke-width="1"/>
<text x="471.5" y="299.4" font-size="2.6" fill="#222" text-anchor="middle" font-weight="bold" stroke="#222" stroke-width="0.22">125</text>
<ellipse cx="490.5" cy="288" rx="2.3" ry="1.7" fill="#fff" stroke-width="0.72"/>
<ellipse cx="490.5" cy="296.5" rx="2.3" ry="1.7" fill="#fff" stroke-width="0.72"/>
<ellipse cx="490.5" cy="304.5" rx="2.3" ry="1.7" fill="#fff" stroke-width="0.72"/>
<rect x="486.5" y="302.5" width="3" height="3" fill="none" stroke-width="1"/>
<rect x="486.5" y="280.5" width="3" height="2" fill="none" stroke-width="1"/>
<ellipse cx="498.7" cy="280.1" rx="4.3" ry="2.4" fill="#fff" stroke-width="1.08"/>
<text x="498.7" y="281" font-size="2.7" fill="#222" text-anchor="middle" stroke="#222" stroke-width="0.1">128</text>
<path d="M493.5 278 Q495 285.5 503.4 286" fill="none" stroke-width="1.08"/>
<ellipse cx="501.8" cy="302" rx="4.3" ry="2.4" fill="#fff" stroke-width="1.08"/>
<text x="501.8" y="302.9" font-size="2.7" fill="#222" text-anchor="middle" stroke="#222" stroke-width="0.1">127</text>
<path d="M493.5 307 L499.5 298.5 L503.5 303.5 L503.5 307" fill="none" stroke-width="0.96"/>
<line x1="487" y1="294.5" x2="503" y2="294.5" stroke-width="1"/>
<ellipse cx="510" cy="309.4" rx="4.3" ry="2.4" fill="#fff" stroke-width="1.08"/>
<text x="510" y="310.3" font-size="2.7" fill="#222" text-anchor="middle" stroke="#222" stroke-width="0.1">123A</text>
<path d="M505.5 311 L506 321.5 Q512.5 319 514.2 309.5" fill="none" stroke-width="0.96"/>
</g></svg>
</body></html>
